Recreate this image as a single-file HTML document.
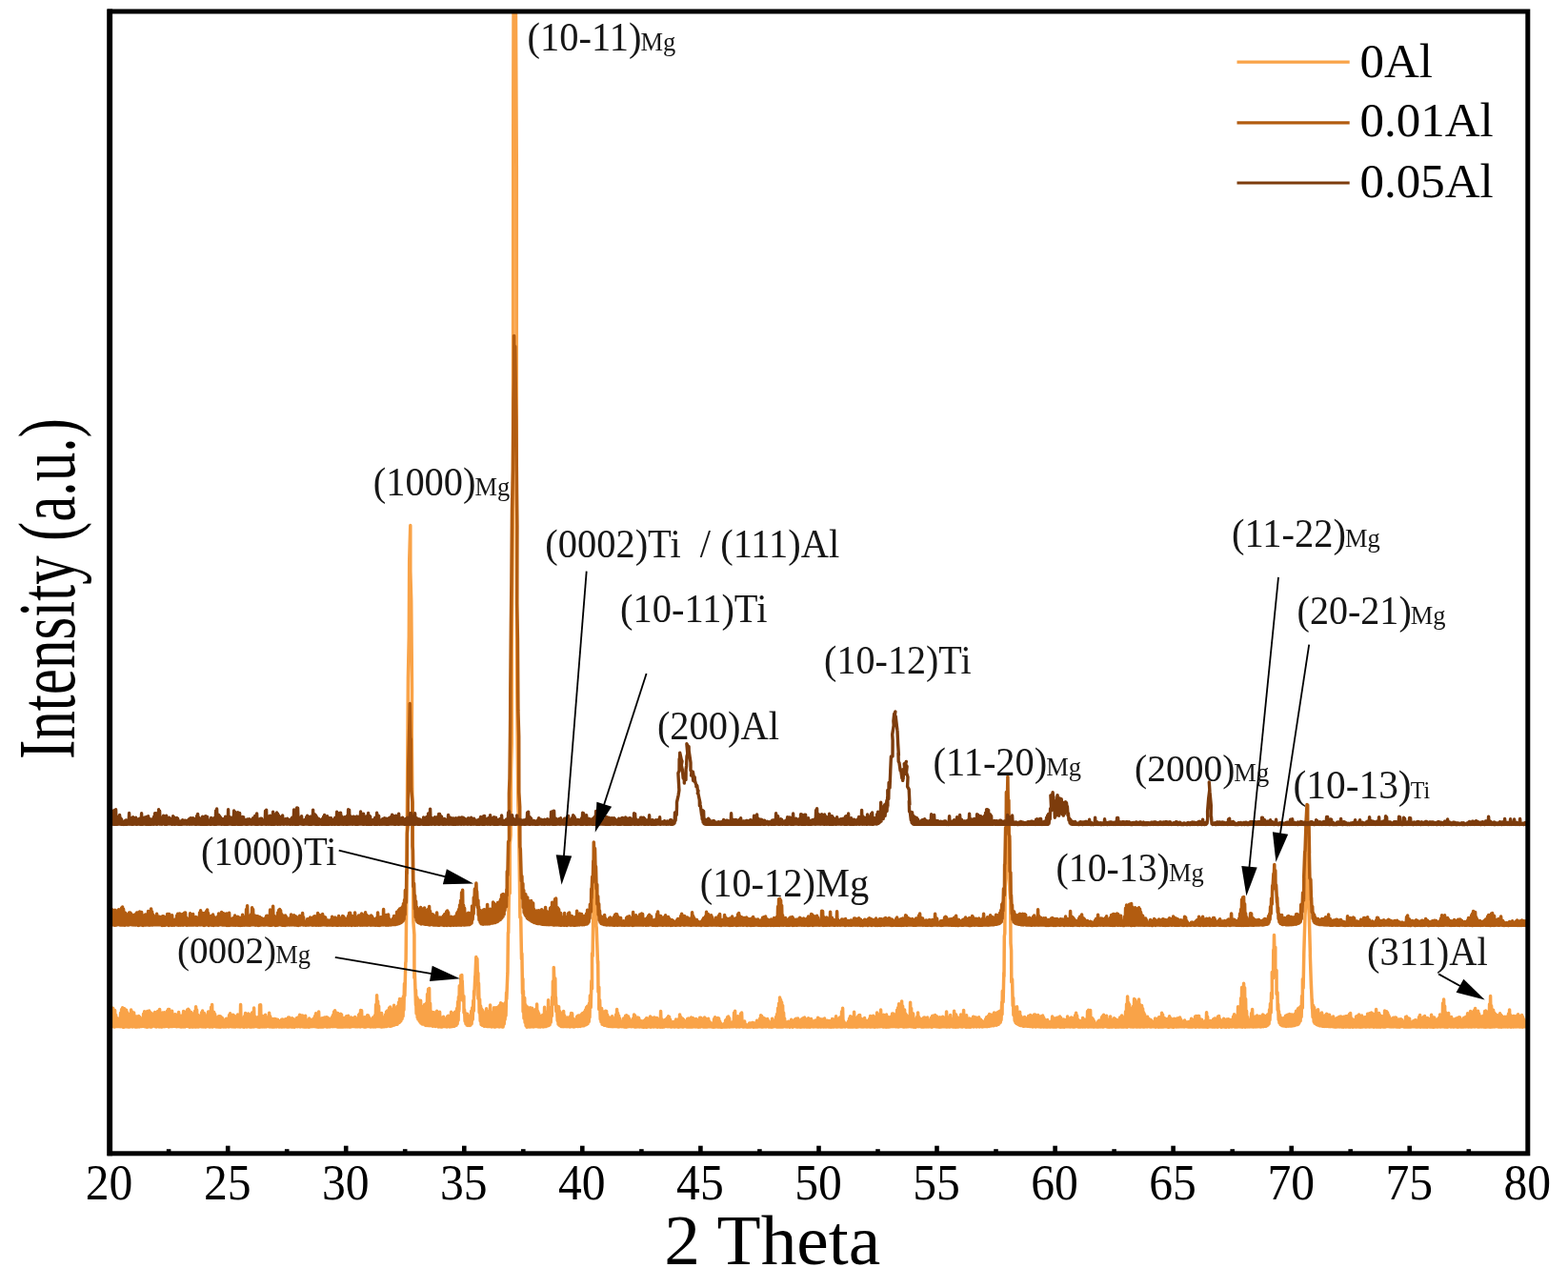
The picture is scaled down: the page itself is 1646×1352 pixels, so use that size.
<!DOCTYPE html>
<html lang="en">
<head>
<meta charset="utf-8">
<title>XRD patterns</title>
<style>
html,body{margin:0;padding:0;background:#fff;}
body{width:1646px;height:1352px;overflow:hidden;}
svg{display:block;}
</style>
</head>
<body>
<svg width="1646" height="1352" viewBox="0 0 1646 1352">
<rect x="0" y="0" width="1646" height="1352" fill="#ffffff"/>
<defs><clipPath id="plot"><rect x="115.1" y="12.0" width="1488.7" height="1198.8"/></clipPath></defs>
<g clip-path="url(#plot)" fill="none" stroke-linejoin="round" stroke-linecap="round">
<path stroke="#F9A348" stroke-width="3.5" d="M115.1 1078.0L115.6 1065.6L116.1 1077.3L116.6 1063.2L117.1 1078.0L117.6 1060.4L118.1 1077.5L118.6 1058.3L119.1 1077.2L119.6 1059.9L120.1 1078.1L120.6 1060.6L121.1 1077.2L121.6 1065.4L122.1 1077.4L122.6 1072.1L123.1 1077.4L123.6 1069.1L124.1 1077.6L124.6 1071.0L125.1 1077.4L125.6 1071.8L126.1 1077.7L126.6 1063.3L127.1 1077.5L127.6 1059.6L128.1 1077.8L128.6 1057.8L129.1 1078.2L129.6 1058.5L130.1 1078.2L130.6 1058.7L131.1 1077.5L131.6 1060.0L132.1 1077.8L132.6 1060.2L133.1 1077.8L133.6 1062.8L134.1 1077.9L134.6 1067.9L135.1 1078.0L135.6 1068.7L136.1 1078.0L136.6 1064.2L137.1 1077.6L137.6 1060.1L138.1 1077.7L138.6 1062.0L139.1 1078.0L139.6 1064.9L140.1 1077.6L140.6 1063.0L141.1 1077.5L141.6 1066.4L142.1 1078.1L142.6 1069.2L143.1 1078.1L143.6 1066.9L144.1 1077.9L144.6 1069.2L145.1 1077.5L145.6 1066.6L146.1 1078.0L146.6 1067.4L147.1 1077.6L147.6 1071.0L148.1 1077.4L148.6 1070.8L149.1 1077.4L149.6 1068.8L150.1 1076.9L150.6 1064.3L151.1 1077.4L151.6 1061.8L152.1 1077.8L152.6 1065.2L153.1 1077.5L153.6 1065.9L154.1 1078.2L154.6 1061.5L155.1 1078.1L155.6 1062.8L156.1 1077.0L156.6 1061.1L157.1 1077.0L157.6 1062.5L158.1 1078.1L158.6 1063.8L159.1 1078.0L159.6 1064.0L160.1 1077.3L160.6 1069.0L161.1 1077.1L161.6 1065.6L162.1 1077.3L162.6 1062.4L163.1 1077.7L163.6 1063.3L164.1 1077.9L164.6 1063.6L165.1 1077.4L165.6 1061.4L166.1 1077.5L166.6 1061.6L167.1 1078.0L167.6 1059.4L168.1 1077.2L168.6 1063.9L169.1 1077.9L169.6 1068.0L170.1 1077.9L170.6 1062.9L171.1 1077.4L171.6 1063.8L172.1 1077.7L172.6 1062.7L173.1 1077.5L173.6 1067.2L174.1 1077.4L174.6 1066.3L175.1 1077.2L175.6 1061.1L176.1 1077.3L176.6 1059.6L177.1 1078.0L177.6 1059.4L178.1 1077.2L178.6 1064.5L179.1 1077.6L179.6 1067.9L180.1 1077.2L180.6 1061.3L181.1 1077.6L181.6 1066.6L182.1 1077.3L182.6 1066.8L183.1 1077.2L183.6 1064.7L184.1 1077.1L184.6 1065.0L185.1 1077.8L185.6 1069.1L186.1 1077.6L186.6 1065.8L187.1 1077.5L187.6 1062.6L188.1 1077.1L188.6 1068.8L189.1 1077.8L189.6 1066.6L190.1 1078.1L190.6 1066.2L191.1 1077.7L191.6 1069.0L192.1 1077.9L192.6 1061.5L193.1 1077.6L193.6 1062.6L194.1 1078.0L194.6 1064.4L195.1 1077.1L195.6 1061.7L196.1 1077.3L196.6 1060.0L197.1 1077.5L197.6 1059.3L198.1 1077.3L198.6 1060.5L199.1 1078.2L199.6 1062.6L200.1 1077.7L200.6 1062.6L201.1 1078.0L201.6 1063.7L202.1 1078.1L202.6 1064.9L203.1 1078.0L203.6 1064.9L204.1 1077.7L204.6 1061.3L205.1 1078.1L205.6 1056.7L206.1 1077.9L206.6 1060.0L207.1 1077.2L207.6 1065.2L208.1 1078.1L208.6 1066.0L209.1 1077.2L209.6 1069.8L210.1 1077.4L210.6 1067.6L211.1 1077.7L211.6 1062.7L212.1 1077.7L212.6 1061.0L213.1 1077.9L213.6 1063.7L214.1 1077.7L214.6 1063.8L215.1 1078.0L215.6 1066.6L216.1 1077.9L216.6 1068.5L217.1 1077.4L217.6 1065.7L218.1 1077.3L218.6 1061.9L219.1 1077.8L219.6 1062.3L220.1 1078.1L220.6 1067.9L221.1 1077.8L221.6 1057.2L222.1 1077.2L222.6 1054.6L223.1 1078.1L223.6 1064.1L224.1 1077.2L224.6 1062.4L225.1 1077.2L225.6 1064.4L226.1 1077.7L226.6 1067.4L227.1 1077.9L227.6 1068.3L228.1 1077.7L228.6 1068.9L229.1 1078.1L229.6 1066.7L230.1 1077.6L230.6 1066.8L231.1 1078.2L231.6 1066.9L232.1 1078.0L232.6 1068.1L233.1 1077.7L233.6 1068.7L234.1 1077.2L234.6 1070.5L235.1 1078.1L235.6 1074.6L236.1 1077.4L236.6 1072.5L237.1 1078.0L237.6 1069.2L238.1 1077.7L238.6 1069.5L239.1 1077.4L239.6 1068.9L240.1 1078.0L240.6 1065.6L241.1 1077.2L241.6 1063.8L242.1 1077.4L242.6 1066.3L243.1 1077.8L243.6 1073.1L244.1 1077.3L244.6 1065.3L245.1 1078.0L245.6 1066.0L246.1 1077.4L246.6 1072.2L247.1 1078.0L247.6 1070.5L248.1 1077.4L248.6 1066.4L249.1 1077.7L249.6 1064.9L250.1 1077.7L250.6 1067.7L251.1 1077.5L251.6 1065.1L252.1 1078.1L252.6 1054.5L253.1 1077.6L253.6 1068.5L254.1 1077.3L254.6 1069.0L255.1 1077.9L255.6 1069.1L256.1 1078.2L256.6 1066.7L257.1 1077.7L257.6 1063.4L258.1 1077.5L258.6 1065.8L259.1 1078.1L259.6 1068.4L260.1 1077.5L260.6 1063.9L261.1 1077.6L261.6 1064.7L262.1 1078.0L262.6 1069.1L263.1 1078.1L263.6 1065.6L264.1 1078.1L264.6 1062.9L265.1 1077.7L265.6 1065.8L266.1 1078.0L266.6 1058.1L267.1 1077.7L267.6 1066.9L268.1 1077.5L268.6 1068.7L269.1 1077.5L269.6 1070.2L270.1 1077.7L270.6 1067.8L271.1 1078.1L271.6 1067.9L272.1 1078.2L272.6 1055.0L273.1 1078.1L273.6 1054.7L274.1 1077.7L274.6 1065.9L275.1 1078.0L275.6 1069.4L276.1 1077.8L276.6 1069.2L277.1 1078.0L277.6 1066.2L278.1 1077.5L278.6 1065.2L279.1 1077.9L279.6 1067.6L280.1 1077.6L280.6 1071.7L281.1 1077.6L281.6 1067.9L282.1 1077.5L282.6 1063.2L283.1 1078.0L283.6 1066.7L284.1 1077.5L284.6 1069.3L285.1 1077.9L285.6 1069.6L286.1 1078.0L286.6 1071.6L287.1 1077.9L287.6 1069.6L288.1 1078.0L288.6 1069.6L289.1 1077.6L289.6 1069.8L290.1 1077.9L290.6 1070.7L291.1 1077.6L291.6 1070.3L292.1 1077.5L292.6 1071.6L293.1 1078.0L293.6 1072.6L294.1 1077.5L294.6 1072.5L295.1 1077.9L295.6 1070.2L296.1 1078.1L296.6 1069.9L297.1 1077.6L297.6 1070.8L298.1 1078.0L298.6 1070.5L299.1 1077.8L299.6 1069.7L300.1 1077.6L300.6 1069.8L301.1 1078.0L301.6 1070.3L302.1 1077.9L302.6 1067.9L303.1 1078.1L303.6 1068.1L304.1 1077.7L304.6 1071.2L305.1 1077.5L305.6 1070.9L306.1 1078.1L306.6 1068.7L307.1 1077.9L307.6 1069.4L308.1 1077.9L308.6 1072.1L309.1 1078.2L309.6 1070.3L310.1 1077.5L310.6 1070.5L311.1 1077.6L311.6 1068.4L312.1 1077.8L312.6 1069.3L313.1 1077.6L313.6 1067.4L314.1 1077.6L314.6 1065.3L315.1 1077.9L315.6 1067.7L316.1 1077.6L316.6 1066.0L317.1 1077.7L317.6 1066.1L318.1 1077.5L318.6 1067.7L319.1 1078.1L319.6 1070.0L320.1 1077.5L320.6 1066.3L321.1 1078.1L321.6 1070.5L322.1 1078.0L322.6 1073.6L323.1 1077.5L323.6 1071.5L324.1 1078.2L324.6 1069.0L325.1 1078.0L325.6 1070.2L326.1 1077.5L326.6 1070.7L327.1 1077.7L327.6 1070.3L328.1 1077.6L328.6 1071.1L329.1 1077.6L329.6 1068.8L330.1 1077.5L330.6 1066.5L331.1 1077.7L331.6 1063.7L332.1 1077.7L332.6 1068.2L333.1 1078.1L333.6 1070.6L334.1 1078.2L334.6 1061.9L335.1 1077.9L335.6 1070.4L336.1 1077.9L336.6 1073.7L337.1 1078.1L337.6 1068.9L338.1 1077.8L338.6 1068.7L339.1 1078.1L339.6 1072.5L340.1 1077.7L340.6 1068.1L341.1 1077.6L341.6 1068.3L342.1 1077.7L342.6 1067.7L343.1 1078.1L343.6 1067.9L344.1 1078.0L344.6 1068.7L345.1 1077.8L345.6 1069.4L346.1 1077.9L346.6 1069.4L347.1 1077.5L347.6 1070.0L348.1 1077.6L348.6 1067.5L349.1 1077.7L349.6 1065.4L350.1 1077.5L350.6 1062.0L351.1 1077.6L351.6 1060.8L352.1 1077.6L352.6 1062.7L353.1 1077.6L353.6 1063.7L354.1 1078.0L354.6 1063.5L355.1 1077.9L355.6 1064.7L356.1 1077.9L356.6 1068.6L357.1 1078.1L357.6 1064.3L358.1 1078.1L358.6 1065.1L359.1 1077.9L359.6 1068.8L360.1 1078.1L360.6 1068.8L361.1 1077.5L361.6 1070.5L362.1 1078.0L362.6 1067.9L363.1 1077.5L363.6 1066.8L364.1 1077.9L364.6 1068.1L365.1 1077.7L365.6 1066.2L366.1 1077.9L366.6 1070.7L367.1 1077.9L367.6 1070.7L368.1 1078.0L368.6 1068.1L369.1 1077.6L369.6 1068.5L370.1 1077.5L370.6 1070.7L371.1 1077.4L371.6 1071.2L372.1 1077.5L372.6 1067.4L373.1 1077.8L373.6 1069.2L374.1 1077.7L374.6 1069.6L375.1 1077.7L375.6 1069.3L376.1 1077.7L376.6 1065.3L377.1 1077.6L377.6 1064.1L378.1 1077.9L378.6 1060.4L379.1 1077.5L379.6 1060.8L380.1 1077.4L380.6 1069.4L381.1 1077.5L381.6 1068.7L382.1 1077.9L382.6 1067.8L383.1 1078.1L383.6 1070.1L384.1 1078.0L384.6 1067.4L385.1 1077.5L385.6 1065.7L386.1 1077.4L386.6 1066.1L387.1 1077.6L387.6 1068.1L388.1 1077.5L388.6 1072.4L389.1 1078.1L389.6 1073.4L390.1 1077.6L390.6 1069.4L391.1 1077.8L391.6 1068.1L392.1 1078.0L392.6 1069.2L393.1 1077.4L393.6 1065.7L394.1 1078.0L394.6 1054.5L395.1 1077.4L395.6 1044.7L396.1 1077.6L396.6 1050.9L397.1 1077.6L397.6 1056.0L398.1 1077.5L398.6 1066.9L399.1 1077.7L399.6 1066.5L400.1 1077.9L400.6 1063.6L401.1 1078.0L401.6 1067.5L402.1 1077.8L402.6 1070.7L403.1 1077.8L403.6 1070.2L404.1 1077.2L404.6 1065.0L405.1 1077.5L405.6 1061.9L406.1 1077.5L406.6 1060.9L407.1 1077.0L407.6 1063.4L408.1 1076.7L408.6 1058.0L409.1 1077.3L409.6 1056.9L410.1 1077.3L410.6 1059.4L411.1 1076.9L411.6 1060.3L412.1 1076.6L412.6 1059.1L413.1 1076.0L413.6 1055.2L414.1 1076.0L414.6 1057.4L415.1 1075.3L415.6 1059.1L416.1 1075.3L416.6 1058.2L417.1 1075.2L417.5 1056.0L418.0 1073.8L418.6 1052.0L419.1 1073.5L419.6 1048.4L420.0 1072.8L420.6 1049.7L421.0 1071.4L421.5 1050.9L422.1 1069.6L422.4 1048.3L423.1 1066.7L423.4 1046.0L423.9 1060.2L424.5 1032.5L424.9 1045.3L425.8 1010.7L426.1 1009.1L426.6 958.8L426.9 931.9L427.4 850.9L427.7 808.6L428.4 711.6L429.3 668.3L429.7 589.4L430.1 574.8L430.8 551.6L430.8 599.6L431.7 630.3L432.5 724.3L432.3 770.2L433.1 863.3L433.4 898.2L433.9 967.7L434.9 981.1L434.9 1026.6L435.3 1019.3L436.5 1055.0L436.5 1039.3L437.1 1064.0L437.8 1047.0L438.2 1068.1L438.8 1049.0L438.9 1069.9L439.6 1052.3L440.2 1071.8L440.6 1054.5L441.2 1073.3L441.6 1050.3L442.1 1074.1L442.7 1056.2L443.2 1074.9L443.5 1061.3L444.1 1075.0L444.6 1056.2L445.1 1075.3L445.6 1054.6L446.1 1076.0L446.6 1055.4L447.1 1076.4L447.6 1053.1L448.1 1076.0L448.6 1043.4L449.1 1076.6L449.6 1038.2L450.1 1076.4L450.6 1037.4L451.1 1076.8L451.6 1053.3L452.1 1076.6L452.6 1061.7L453.1 1076.7L453.6 1062.4L454.1 1077.3L454.6 1066.0L455.1 1076.9L455.6 1062.8L456.1 1077.1L456.6 1065.7L457.1 1077.5L457.6 1063.8L458.1 1077.1L458.6 1061.3L459.1 1077.2L459.6 1065.4L460.1 1078.0L460.6 1067.0L461.1 1077.8L461.6 1062.3L462.1 1077.6L462.6 1067.7L463.1 1078.1L463.6 1068.3L464.1 1078.0L464.6 1070.1L465.1 1077.4L465.6 1067.2L466.1 1077.4L466.6 1069.0L467.1 1077.5L467.6 1071.4L468.1 1077.7L468.6 1070.5L469.1 1077.9L469.6 1067.1L470.1 1077.4L470.6 1066.3L471.1 1077.3L471.6 1067.8L472.1 1077.9L472.6 1066.2L473.1 1077.3L473.6 1062.2L474.1 1077.7L474.6 1063.4L475.1 1077.0L475.6 1065.4L476.1 1077.3L476.6 1064.4L477.1 1077.3L477.6 1062.2L478.1 1076.5L478.6 1062.5L479.1 1076.2L479.6 1058.4L480.1 1074.6L480.6 1051.6L481.1 1071.0L481.4 1046.4L481.9 1060.9L482.3 1034.7L483.5 1049.3L483.8 1023.9L483.8 1036.2L484.8 1023.6L485.0 1038.1L485.2 1029.4L486.0 1050.4L486.9 1045.8L487.0 1063.1L487.6 1060.0L488.1 1072.0L488.5 1063.4L489.0 1074.6L489.6 1065.5L490.1 1076.1L490.6 1064.3L491.1 1076.5L491.6 1068.4L492.1 1076.0L492.6 1070.9L493.1 1076.4L493.6 1066.0L494.1 1076.0L494.7 1061.3L495.1 1074.6L495.7 1057.7L496.2 1070.3L496.8 1050.2L497.3 1061.1L497.6 1040.3L497.9 1044.9L498.8 1024.5L498.8 1028.7L499.8 1004.6L500.1 1022.7L500.9 1006.6L501.5 1033.5L501.9 1021.6L501.9 1048.3L502.5 1032.0L503.2 1063.0L503.6 1048.9L504.2 1071.7L504.6 1056.0L505.1 1075.4L505.6 1059.1L506.1 1076.3L506.6 1060.4L507.1 1076.5L507.6 1064.0L508.1 1077.2L508.6 1066.2L509.1 1077.2L509.6 1062.5L510.1 1077.1L510.6 1058.8L511.1 1077.4L511.6 1061.2L512.1 1077.4L512.6 1065.2L513.1 1077.4L513.6 1064.2L514.1 1077.6L514.6 1055.0L515.1 1077.3L515.6 1065.4L516.1 1078.0L516.6 1066.3L517.1 1077.3L517.6 1062.6L518.1 1077.4L518.6 1057.7L519.1 1078.1L519.6 1059.4L520.1 1077.9L520.6 1057.8L521.1 1077.4L521.6 1057.7L522.1 1077.6L522.6 1057.3L523.1 1077.7L523.6 1056.6L524.1 1078.0L524.6 1055.2L525.1 1077.8L525.6 1052.8L526.1 1077.4L526.6 1056.3L527.1 1077.9L527.6 1053.7L528.1 1077.9L528.6 1055.6L529.2 1075.0L529.7 1058.8L530.1 1070.3L530.7 1052.2L531.0 1066.3L531.6 1041.9L531.8 1048.8L532.7 1025.3L532.9 1021.2L533.4 978.7L533.7 979.2L534.3 936.5L535.2 937.8L535.2 886.5L536.1 876.5L536.4 811.8L537.2 781.0L537.2 680.8L538.5 521.9L538.8 102.5L539.1 -10.1L539.2 -96.8L540.0 -108.6L540.5 -125.9L541.1 -59.5L541.3 -17.9L542.3 176.0L542.3 566.0L542.8 727.0L543.2 772.4L543.9 846.1L544.6 864.5L545.3 913.5L545.4 920.7L545.9 962.9L546.7 963.0L547.5 1006.6L547.9 1001.0L548.5 1042.7L548.9 1027.6L549.1 1062.0L549.4 1040.1L550.0 1069.0L550.7 1047.6L551.1 1073.2L551.7 1054.8L552.1 1076.7L552.6 1059.4L553.1 1078.2L553.6 1057.1L554.1 1078.0L554.6 1060.3L555.1 1077.4L555.6 1063.4L556.1 1078.1L556.6 1057.8L557.1 1077.6L557.6 1058.5L558.1 1077.8L558.6 1058.2L559.1 1077.7L559.6 1059.7L560.1 1077.9L560.6 1063.1L561.1 1077.6L561.6 1062.2L562.1 1077.4L562.6 1059.3L563.1 1077.5L563.6 1054.0L564.1 1077.5L564.6 1061.6L565.1 1077.9L565.6 1063.7L566.1 1077.6L566.6 1066.0L567.1 1078.1L567.6 1067.7L568.1 1077.4L568.6 1067.5L569.1 1077.2L569.6 1065.5L570.1 1078.0L570.6 1066.1L571.1 1077.7L571.6 1057.2L572.1 1077.6L572.6 1064.1L573.1 1077.6L573.6 1065.1L574.1 1077.0L574.6 1062.1L575.1 1076.7L575.6 1049.8L576.1 1076.5L576.6 1058.7L577.1 1075.8L577.6 1059.5L578.2 1073.3L578.7 1057.2L579.3 1066.4L579.7 1046.6L580.2 1054.7L580.4 1030.1L581.3 1042.8L581.3 1015.6L582.2 1039.4L582.8 1027.0L583.1 1049.2L583.5 1047.0L583.9 1061.6L584.5 1055.7L585.2 1071.4L585.5 1056.9L586.1 1075.2L586.6 1056.7L587.1 1076.2L587.6 1061.4L588.1 1076.8L588.6 1063.0L589.1 1077.6L589.6 1064.9L590.1 1077.3L590.6 1065.2L591.1 1077.7L591.6 1061.4L592.1 1077.2L592.6 1066.1L593.1 1077.6L593.6 1070.4L594.1 1077.6L594.6 1068.6L595.1 1077.7L595.6 1068.0L596.1 1077.6L596.6 1068.8L597.1 1077.5L597.6 1068.7L598.1 1078.0L598.6 1066.7L599.1 1077.8L599.6 1063.4L600.1 1077.5L600.6 1063.8L601.1 1077.4L601.6 1069.3L602.1 1077.9L602.6 1071.2L603.1 1077.8L603.6 1070.3L604.1 1077.4L604.6 1070.0L605.1 1077.3L605.6 1067.2L606.1 1077.4L606.6 1066.3L607.1 1077.5L607.6 1066.0L608.1 1077.1L608.6 1065.9L609.1 1077.5L609.6 1067.0L610.1 1077.0L610.6 1064.5L611.1 1076.8L611.6 1063.5L612.1 1076.7L612.6 1064.5L613.1 1076.8L613.6 1062.0L614.1 1075.9L614.6 1060.0L615.1 1075.7L615.6 1057.5L616.1 1075.2L616.6 1056.2L617.1 1074.5L617.7 1057.2L618.2 1072.5L618.5 1053.3L619.0 1068.0L619.4 1045.1L620.2 1057.4L620.9 1029.5L621.5 1037.7L621.5 1000.7L622.1 1003.6L622.7 963.2L622.9 964.3L623.2 925.5L624.0 939.1L624.6 916.6L625.1 942.1L625.5 935.8L625.9 972.0L626.2 973.6L627.5 1011.4L627.7 1008.9L628.0 1041.2L628.8 1036.3L628.8 1059.4L629.6 1049.8L630.2 1069.9L630.6 1059.6L631.0 1072.7L631.6 1058.6L632.1 1075.2L632.6 1061.5L633.1 1075.4L633.6 1065.7L634.1 1076.2L634.6 1063.6L635.1 1076.2L635.6 1061.2L636.1 1076.3L636.6 1061.5L637.1 1077.0L637.6 1065.2L638.1 1077.0L638.6 1067.7L639.1 1077.4L639.6 1067.9L640.1 1077.2L640.6 1070.7L641.1 1077.6L641.6 1068.5L642.1 1077.5L642.6 1066.8L643.1 1077.7L643.6 1069.6L644.1 1077.6L644.6 1071.2L645.1 1077.5L645.6 1068.4L646.1 1077.6L646.6 1065.0L647.1 1077.4L647.6 1059.6L648.1 1077.8L648.6 1063.5L649.1 1077.9L649.6 1066.2L650.1 1077.8L650.6 1069.1L651.1 1077.5L651.6 1071.7L652.1 1077.6L652.6 1072.9L653.1 1077.7L653.6 1072.6L654.1 1077.5L654.6 1068.9L655.1 1077.9L655.6 1069.9L656.1 1077.9L656.6 1066.2L657.1 1078.2L657.6 1065.8L658.1 1078.0L658.6 1067.2L659.1 1077.7L659.6 1067.1L660.1 1077.5L660.6 1069.2L661.1 1077.5L661.6 1073.3L662.1 1077.6L662.6 1074.1L663.1 1077.7L663.6 1071.0L664.1 1077.5L664.6 1068.9L665.1 1077.5L665.6 1065.1L666.1 1078.0L666.6 1066.1L667.1 1078.1L667.6 1067.9L668.1 1077.9L668.6 1069.9L669.1 1077.6L669.6 1068.0L670.1 1077.8L670.6 1068.6L671.1 1078.0L671.6 1071.8L672.1 1077.7L672.6 1071.5L673.1 1077.8L673.6 1072.4L674.1 1078.1L674.6 1072.9L675.1 1078.2L675.6 1071.5L676.1 1078.2L676.6 1072.0L677.1 1077.9L677.6 1070.0L678.1 1078.2L678.6 1068.7L679.1 1078.2L679.6 1069.1L680.1 1077.7L680.6 1070.6L681.1 1077.8L681.6 1069.6L682.1 1077.6L682.6 1067.0L683.1 1078.2L683.6 1068.0L684.1 1077.7L684.6 1070.3L685.1 1077.7L685.6 1071.9L686.1 1078.0L686.6 1067.9L687.1 1077.7L687.6 1068.3L688.1 1077.7L688.6 1068.7L689.1 1077.7L689.6 1068.5L690.1 1078.2L690.6 1073.0L691.1 1077.8L691.6 1070.5L692.1 1077.9L692.6 1069.4L693.1 1078.2L693.6 1061.6L694.1 1077.8L694.6 1069.8L695.1 1078.2L695.6 1074.6L696.1 1078.0L696.6 1073.2L697.1 1078.0L697.6 1070.7L698.1 1077.6L698.6 1070.6L699.1 1077.5L699.6 1069.6L700.1 1077.5L700.6 1068.3L701.1 1077.8L701.6 1066.8L702.1 1077.6L702.6 1067.5L703.1 1077.7L703.6 1070.2L704.1 1077.9L704.6 1072.5L705.1 1078.1L705.6 1073.5L706.1 1077.6L706.6 1072.8L707.1 1077.8L707.6 1073.2L708.1 1078.1L708.6 1071.9L709.1 1077.7L709.6 1070.1L710.1 1077.6L710.6 1071.2L711.1 1077.8L711.6 1071.0L712.1 1078.2L712.6 1069.5L713.1 1078.0L713.6 1064.9L714.1 1077.8L714.6 1067.4L715.1 1077.8L715.6 1068.9L716.1 1077.9L716.6 1069.3L717.1 1078.1L717.6 1070.2L718.1 1077.7L718.6 1071.4L719.1 1077.5L719.6 1075.6L720.1 1077.6L720.6 1072.3L721.1 1078.0L721.6 1069.6L722.1 1077.9L722.6 1069.1L723.1 1077.9L723.6 1071.6L724.1 1078.1L724.6 1072.6L725.1 1078.0L725.6 1067.9L726.1 1077.9L726.6 1068.5L727.1 1077.9L727.6 1068.7L728.1 1077.6L728.6 1072.0L729.1 1077.8L729.6 1070.9L730.1 1077.9L730.6 1069.5L731.1 1077.7L731.6 1070.3L732.1 1077.9L732.6 1071.5L733.1 1078.2L733.6 1070.5L734.1 1077.8L734.6 1068.3L735.1 1078.1L735.6 1068.2L736.1 1077.6L736.6 1069.0L737.1 1077.6L737.6 1072.2L738.1 1077.9L738.6 1072.8L739.1 1078.0L739.6 1068.1L740.1 1077.7L740.6 1069.0L741.1 1078.1L741.6 1071.7L742.1 1078.1L742.6 1070.3L743.1 1077.8L743.6 1069.3L744.1 1077.7L744.6 1071.9L745.1 1077.7L745.6 1073.7L746.1 1077.8L746.6 1073.9L747.1 1077.9L747.6 1074.6L748.1 1077.8L748.6 1074.3L749.1 1078.2L749.6 1069.6L750.1 1077.8L750.6 1067.7L751.1 1077.9L751.6 1070.0L752.1 1077.6L752.6 1069.9L753.1 1077.9L753.6 1068.6L754.1 1077.9L754.6 1069.0L755.1 1078.0L755.6 1071.9L756.1 1077.9L756.6 1074.0L757.1 1078.2L757.6 1074.9L758.1 1078.2L758.6 1075.5L759.1 1078.1L759.6 1075.7L760.1 1078.0L760.6 1074.3L761.1 1077.9L761.6 1071.1L762.1 1077.9L762.6 1070.0L763.1 1078.1L763.6 1067.8L764.1 1077.8L764.6 1067.0L765.1 1078.0L765.6 1068.8L766.1 1078.0L766.6 1074.0L767.1 1077.8L767.6 1075.3L768.1 1077.8L768.6 1072.9L769.1 1077.7L769.6 1073.6L770.1 1077.7L770.6 1063.1L771.1 1077.6L771.6 1061.2L772.1 1077.6L772.6 1070.2L773.1 1078.1L773.6 1067.6L774.1 1077.8L774.6 1066.8L775.1 1077.6L775.6 1069.7L776.1 1078.1L776.6 1070.9L777.1 1077.7L777.6 1063.9L778.1 1077.6L778.6 1063.1L779.1 1077.8L779.6 1073.6L780.1 1078.1L780.6 1074.9L781.1 1077.9L781.6 1072.0L782.1 1077.6L782.6 1074.9L783.1 1078.1L783.6 1075.9L784.1 1077.9L784.6 1076.0L785.1 1078.1L785.6 1075.7L786.1 1078.0L786.6 1074.0L787.1 1077.8L787.6 1074.1L788.1 1078.0L788.6 1075.5L789.1 1077.8L789.6 1073.6L790.1 1077.7L790.6 1073.6L791.1 1078.2L791.6 1074.1L792.1 1077.6L792.6 1074.5L793.1 1077.9L793.6 1073.6L794.1 1078.1L794.6 1071.3L795.1 1078.1L795.6 1072.2L796.1 1077.7L796.6 1073.3L797.1 1077.7L797.6 1069.3L798.1 1077.8L798.6 1065.7L799.1 1077.9L799.6 1066.6L800.1 1078.0L800.6 1069.5L801.1 1078.0L801.6 1068.6L802.1 1077.6L802.6 1069.0L803.1 1077.8L803.6 1072.6L804.1 1077.9L804.6 1071.7L805.1 1077.6L805.6 1069.4L806.1 1077.6L806.6 1071.4L807.1 1078.0L807.6 1074.5L808.1 1078.0L808.6 1075.9L809.1 1078.0L809.6 1072.7L810.1 1078.2L810.6 1069.2L811.1 1077.9L811.6 1071.2L812.1 1077.8L812.6 1072.5L813.1 1077.6L813.6 1071.0L814.1 1077.6L814.6 1067.4L815.1 1078.0L815.6 1064.4L816.1 1078.1L816.6 1058.3L817.1 1077.9L817.6 1053.3L818.1 1077.9L818.6 1047.0L819.1 1077.9L819.6 1049.6L820.1 1078.1L820.6 1052.0L821.1 1078.0L821.6 1055.4L822.1 1077.9L822.6 1063.1L823.1 1077.6L823.6 1069.0L824.1 1077.7L824.6 1072.6L825.1 1077.7L825.6 1074.9L826.1 1078.1L826.6 1072.9L827.1 1077.7L827.6 1072.3L828.1 1077.6L828.6 1074.2L829.1 1078.2L829.6 1072.9L830.1 1077.7L830.6 1070.3L831.1 1077.8L831.6 1073.0L832.1 1078.2L832.6 1071.5L833.1 1077.6L833.6 1071.5L834.1 1077.6L834.6 1069.9L835.1 1077.7L835.6 1069.2L836.1 1078.0L836.6 1070.9L837.1 1077.9L837.6 1068.9L838.1 1078.0L838.6 1070.5L839.1 1077.7L839.6 1072.3L840.1 1078.2L840.6 1071.6L841.1 1077.9L841.6 1069.7L842.1 1077.9L842.6 1068.9L843.1 1077.7L843.6 1068.8L844.1 1078.1L844.6 1068.0L845.1 1077.7L845.6 1069.4L846.1 1077.9L846.6 1071.2L847.1 1078.0L847.6 1070.3L848.1 1077.9L848.6 1068.7L849.1 1077.9L849.6 1069.8L850.1 1078.2L850.6 1070.3L851.1 1077.6L851.6 1069.6L852.1 1077.7L852.6 1071.5L853.1 1077.8L853.6 1073.9L854.1 1078.1L854.6 1073.7L855.1 1077.8L855.6 1071.2L856.1 1077.8L856.6 1071.1L857.1 1077.6L857.6 1070.4L858.1 1077.9L858.6 1068.2L859.1 1078.1L859.6 1071.3L860.1 1077.7L860.6 1069.5L861.1 1078.0L861.6 1070.7L862.1 1078.0L862.6 1070.1L863.1 1077.8L863.6 1070.0L864.1 1078.0L864.6 1071.1L865.1 1078.0L865.6 1069.0L866.1 1077.5L866.6 1072.5L867.1 1078.1L867.6 1071.9L868.1 1077.6L868.6 1071.2L869.1 1077.7L869.6 1071.9L870.1 1078.0L870.6 1071.4L871.1 1077.6L871.6 1072.4L872.1 1078.2L872.6 1072.2L873.1 1077.8L873.6 1069.6L874.1 1078.1L874.6 1071.4L875.1 1078.0L875.6 1071.8L876.1 1077.7L876.6 1069.5L877.1 1077.7L877.6 1066.8L878.1 1078.1L878.6 1069.0L879.1 1077.9L879.6 1070.4L880.1 1077.8L880.6 1070.5L881.1 1077.5L881.6 1067.9L882.1 1078.0L882.6 1069.1L883.1 1078.1L883.6 1061.8L884.1 1078.1L884.6 1058.2L885.1 1077.5L885.6 1071.7L886.1 1077.7L886.6 1075.6L887.1 1078.0L887.6 1074.2L888.1 1077.6L888.6 1074.6L889.1 1077.6L889.6 1075.4L890.1 1078.0L890.6 1071.9L891.1 1077.8L891.6 1069.1L892.1 1078.1L892.6 1066.7L893.1 1078.1L893.6 1067.3L894.1 1077.5L894.6 1068.0L895.1 1078.1L895.6 1067.9L896.1 1077.9L896.6 1062.3L897.1 1077.4L897.6 1069.0L898.1 1078.1L898.6 1070.5L899.1 1078.2L899.6 1068.3L900.1 1078.1L900.6 1067.1L901.1 1077.6L901.6 1065.7L902.1 1077.8L902.6 1065.4L903.1 1077.4L903.6 1069.1L904.1 1077.9L904.6 1071.6L905.1 1077.5L905.6 1072.3L906.1 1078.0L906.6 1069.6L907.1 1077.8L907.6 1068.6L908.1 1077.7L908.6 1071.0L909.1 1077.4L909.6 1075.2L910.1 1078.1L910.6 1073.9L911.1 1077.8L911.6 1071.1L912.1 1077.5L912.6 1069.6L913.1 1077.9L913.6 1066.6L914.1 1078.1L914.6 1067.3L915.1 1077.7L915.6 1069.2L916.1 1078.0L916.6 1066.3L917.1 1077.6L917.6 1067.6L918.1 1078.2L918.6 1070.4L919.1 1077.9L919.6 1067.1L920.1 1077.6L920.6 1063.1L921.1 1078.1L921.6 1066.0L922.1 1077.6L922.6 1067.5L923.1 1077.8L923.6 1064.4L924.1 1077.8L924.6 1060.0L925.1 1077.6L925.6 1070.4L926.1 1077.5L926.6 1068.1L927.1 1078.1L927.6 1065.2L928.1 1078.0L928.6 1069.1L929.1 1077.5L929.6 1067.0L930.1 1078.2L930.6 1065.1L931.1 1078.1L931.6 1067.2L932.1 1077.8L932.6 1068.7L933.1 1078.1L933.6 1068.9L934.1 1077.4L934.6 1067.4L935.1 1077.7L935.6 1069.0L936.1 1077.2L936.6 1064.1L937.1 1077.8L937.6 1064.1L938.1 1077.4L938.6 1067.0L939.1 1077.6L939.6 1067.8L940.1 1077.8L940.6 1064.4L941.1 1077.7L941.6 1060.2L942.1 1077.7L942.6 1057.7L943.1 1078.1L943.6 1053.7L944.1 1077.4L944.6 1054.6L945.1 1077.5L945.6 1054.3L946.1 1077.5L946.6 1050.9L947.1 1077.4L947.6 1056.0L948.1 1078.0L948.6 1059.5L949.1 1078.1L949.6 1060.0L950.1 1077.5L950.6 1064.1L951.1 1078.0L951.6 1065.5L952.1 1077.8L952.6 1066.8L953.1 1077.8L953.6 1069.8L954.1 1077.5L954.6 1067.3L955.1 1077.5L955.6 1052.2L956.1 1077.7L956.6 1058.4L957.1 1077.8L957.6 1068.1L958.1 1077.4L958.6 1064.1L959.1 1078.2L959.6 1069.5L960.1 1077.8L960.6 1074.9L961.1 1078.2L961.6 1074.5L962.1 1077.7L962.6 1067.4L963.1 1077.4L963.6 1062.9L964.1 1077.7L964.6 1067.5L965.1 1077.4L965.6 1068.9L966.1 1077.5L966.6 1069.4L967.1 1078.0L967.6 1073.1L968.1 1078.0L968.6 1071.0L969.1 1078.0L969.6 1068.2L970.1 1078.0L970.6 1067.9L971.1 1077.8L971.6 1068.8L972.1 1077.9L972.6 1069.2L973.1 1077.4L973.6 1067.9L974.1 1077.9L974.6 1071.1L975.1 1077.8L975.6 1072.7L976.1 1077.5L976.6 1070.6L977.1 1077.8L977.6 1068.2L978.1 1078.2L978.6 1066.5L979.1 1077.8L979.6 1066.3L980.1 1077.4L980.6 1066.3L981.1 1077.6L981.6 1065.6L982.1 1077.8L982.6 1066.5L983.1 1077.8L983.6 1067.0L984.1 1078.0L984.6 1069.0L985.1 1077.6L985.6 1070.8L986.1 1078.2L986.6 1067.8L987.1 1078.1L987.6 1069.1L988.1 1077.9L988.6 1070.1L989.1 1077.8L989.6 1067.2L990.1 1077.6L990.6 1068.1L991.1 1077.8L991.6 1069.8L992.1 1077.6L992.6 1068.9L993.1 1077.9L993.6 1061.9L994.1 1078.1L994.6 1068.8L995.1 1077.8L995.6 1067.9L996.1 1077.9L996.6 1067.4L997.1 1078.0L997.6 1065.5L998.1 1077.7L998.6 1069.2L999.1 1077.5L999.6 1072.4L1000.1 1077.9L1000.6 1069.4L1001.1 1078.0L1001.6 1061.2L1002.1 1078.0L1002.6 1067.5L1003.1 1078.2L1003.6 1065.0L1004.1 1077.8L1004.6 1067.4L1005.1 1078.1L1005.6 1068.9L1006.1 1078.0L1006.6 1069.0L1007.1 1077.6L1007.6 1068.1L1008.1 1077.7L1008.6 1065.0L1009.1 1077.6L1009.6 1066.3L1010.1 1078.1L1010.6 1066.2L1011.1 1077.5L1011.6 1060.4L1012.1 1077.5L1012.6 1068.2L1013.1 1077.8L1013.6 1069.5L1014.1 1078.2L1014.6 1065.7L1015.1 1077.9L1015.6 1071.0L1016.1 1078.1L1016.6 1071.2L1017.1 1078.0L1017.6 1069.1L1018.1 1078.2L1018.6 1070.0L1019.1 1078.1L1019.6 1071.4L1020.1 1077.6L1020.6 1069.0L1021.1 1077.6L1021.6 1067.2L1022.1 1077.9L1022.6 1067.6L1023.1 1077.6L1023.6 1071.7L1024.1 1077.6L1024.6 1068.1L1025.1 1077.9L1025.6 1068.7L1026.1 1077.4L1026.6 1069.1L1027.1 1077.6L1027.6 1067.8L1028.1 1078.0L1028.6 1070.4L1029.1 1077.4L1029.6 1070.3L1030.1 1077.5L1030.6 1071.5L1031.1 1077.9L1031.6 1073.9L1032.1 1077.7L1032.6 1072.5L1033.1 1077.5L1033.6 1072.2L1034.1 1077.4L1034.6 1069.8L1035.1 1077.5L1035.6 1067.7L1036.1 1077.7L1036.6 1068.6L1037.1 1077.2L1037.6 1066.3L1038.1 1077.4L1038.6 1064.6L1039.1 1076.8L1039.6 1064.9L1040.1 1077.0L1040.6 1066.1L1041.1 1076.7L1041.6 1065.3L1042.1 1076.5L1042.6 1065.8L1043.1 1076.8L1043.6 1062.9L1044.1 1076.1L1044.6 1064.0L1045.1 1075.8L1045.6 1066.3L1046.1 1076.2L1046.6 1063.1L1047.1 1075.3L1047.6 1062.7L1048.1 1075.3L1048.7 1061.8L1049.1 1074.1L1049.7 1062.6L1050.2 1073.3L1050.7 1060.5L1051.0 1070.7L1051.7 1051.7L1052.0 1064.7L1052.3 1040.3L1053.1 1051.8L1053.8 1020.9L1054.0 1025.1L1054.3 982.7L1054.8 979.7L1055.2 930.7L1056.2 922.0L1056.4 871.4L1057.3 869.7L1057.5 831.6L1058.1 849.9L1058.2 835.8L1059.0 877.1L1059.6 882.7L1060.0 934.1L1060.7 943.7L1061.0 990.1L1061.6 997.6L1061.8 1030.9L1062.6 1028.0L1063.2 1055.8L1063.7 1047.4L1063.9 1065.6L1064.4 1056.5L1065.2 1071.5L1065.6 1058.9L1066.1 1073.4L1066.6 1058.3L1067.1 1074.4L1067.6 1056.8L1068.1 1075.0L1068.6 1065.3L1069.1 1075.5L1069.6 1063.3L1070.1 1076.1L1070.6 1062.3L1071.1 1076.4L1071.6 1066.6L1072.1 1076.4L1072.6 1068.9L1073.1 1076.3L1073.6 1069.0L1074.1 1077.2L1074.6 1067.9L1075.1 1077.2L1075.6 1067.6L1076.1 1077.0L1076.6 1070.0L1077.1 1077.1L1077.6 1069.2L1078.1 1077.2L1078.6 1068.4L1079.1 1077.3L1079.6 1066.5L1080.1 1077.3L1080.6 1067.2L1081.1 1077.6L1081.6 1065.5L1082.1 1077.4L1082.6 1068.6L1083.1 1077.6L1083.6 1069.1L1084.1 1077.9L1084.6 1066.0L1085.1 1077.6L1085.6 1065.0L1086.1 1077.4L1086.6 1065.1L1087.1 1078.0L1087.6 1068.7L1088.1 1077.7L1088.6 1067.4L1089.1 1077.5L1089.6 1065.4L1090.1 1077.8L1090.6 1066.8L1091.1 1077.5L1091.6 1068.6L1092.1 1077.9L1092.6 1067.1L1093.1 1078.0L1093.6 1066.8L1094.1 1077.8L1094.6 1066.0L1095.1 1078.0L1095.6 1068.0L1096.1 1077.9L1096.6 1070.0L1097.1 1077.5L1097.6 1071.7L1098.1 1078.1L1098.6 1073.9L1099.1 1078.0L1099.6 1070.5L1100.1 1078.0L1100.6 1073.3L1101.1 1077.6L1101.6 1074.5L1102.1 1078.0L1102.6 1072.6L1103.1 1077.9L1103.6 1073.6L1104.1 1077.5L1104.6 1067.1L1105.1 1078.1L1105.6 1070.4L1106.1 1077.7L1106.6 1068.9L1107.1 1078.1L1107.6 1069.0L1108.1 1077.9L1108.6 1069.3L1109.1 1077.9L1109.6 1068.3L1110.1 1077.5L1110.6 1069.6L1111.1 1077.7L1111.6 1067.7L1112.1 1077.9L1112.6 1067.0L1113.1 1078.2L1113.6 1068.2L1114.1 1078.0L1114.6 1071.0L1115.1 1078.0L1115.6 1070.9L1116.1 1078.0L1116.6 1070.0L1117.1 1078.2L1117.6 1070.4L1118.1 1077.7L1118.6 1072.6L1119.1 1077.8L1119.6 1070.3L1120.1 1077.8L1120.6 1067.0L1121.1 1077.6L1121.6 1069.1L1122.1 1077.8L1122.6 1069.2L1123.1 1078.0L1123.6 1071.3L1124.1 1077.8L1124.6 1067.9L1125.1 1077.7L1125.6 1068.5L1126.1 1077.9L1126.6 1071.3L1127.1 1078.0L1127.6 1068.5L1128.1 1077.9L1128.6 1065.7L1129.1 1077.8L1129.6 1063.3L1130.1 1077.6L1130.6 1066.1L1131.1 1077.7L1131.6 1070.3L1132.1 1078.1L1132.6 1072.5L1133.1 1078.1L1133.6 1071.4L1134.1 1078.0L1134.6 1071.9L1135.1 1077.8L1135.6 1072.6L1136.1 1077.9L1136.6 1068.4L1137.1 1078.0L1137.6 1069.7L1138.1 1077.8L1138.6 1072.3L1139.1 1078.1L1139.6 1070.3L1140.1 1077.6L1140.6 1069.9L1141.1 1077.6L1141.6 1061.5L1142.1 1078.1L1142.6 1060.2L1143.1 1078.0L1143.6 1068.9L1144.1 1077.8L1144.6 1060.4L1145.1 1077.9L1145.6 1069.6L1146.1 1077.8L1146.6 1068.8L1147.1 1078.0L1147.6 1070.0L1148.1 1077.9L1148.6 1072.0L1149.1 1077.9L1149.6 1074.4L1150.1 1077.7L1150.6 1075.6L1151.1 1078.0L1151.6 1074.0L1152.1 1077.8L1152.6 1072.5L1153.1 1078.0L1153.6 1071.3L1154.1 1077.6L1154.6 1071.6L1155.1 1077.9L1155.6 1071.8L1156.1 1077.7L1156.6 1067.8L1157.1 1077.9L1157.6 1066.6L1158.1 1078.1L1158.6 1065.3L1159.1 1077.5L1159.6 1067.5L1160.1 1077.6L1160.6 1068.3L1161.1 1077.5L1161.6 1066.2L1162.1 1077.9L1162.6 1071.2L1163.1 1078.0L1163.6 1072.7L1164.1 1078.2L1164.6 1070.0L1165.1 1078.1L1165.6 1066.9L1166.1 1078.1L1166.6 1070.0L1167.1 1077.8L1167.6 1074.3L1168.1 1078.1L1168.6 1070.5L1169.1 1077.8L1169.6 1068.7L1170.1 1077.7L1170.6 1069.4L1171.1 1078.2L1171.6 1071.3L1172.1 1078.1L1172.6 1070.7L1173.1 1078.0L1173.6 1071.1L1174.1 1078.0L1174.6 1070.4L1175.1 1077.9L1175.6 1068.1L1176.1 1077.7L1176.6 1067.6L1177.1 1078.1L1177.6 1065.9L1178.1 1077.9L1178.6 1067.6L1179.1 1078.0L1179.6 1069.0L1180.1 1078.0L1180.6 1068.2L1181.1 1077.8L1181.6 1061.8L1182.1 1078.1L1182.6 1054.0L1183.1 1078.2L1183.6 1046.0L1184.1 1077.8L1184.6 1052.6L1185.1 1077.6L1185.6 1054.5L1186.1 1077.7L1186.6 1058.4L1187.1 1078.0L1187.6 1062.7L1188.1 1077.8L1188.6 1058.1L1189.1 1078.1L1189.6 1056.2L1190.1 1077.9L1190.6 1048.6L1191.1 1077.7L1191.6 1049.4L1192.1 1077.7L1192.6 1051.6L1193.1 1078.1L1193.6 1058.7L1194.1 1078.0L1194.6 1057.1L1195.1 1077.8L1195.6 1049.1L1196.1 1078.1L1196.6 1054.5L1197.1 1078.1L1197.6 1057.4L1198.1 1077.8L1198.6 1055.5L1199.1 1077.7L1199.6 1058.8L1200.1 1078.1L1200.6 1062.7L1201.1 1078.1L1201.6 1064.7L1202.1 1077.6L1202.6 1069.3L1203.1 1077.7L1203.6 1069.9L1204.1 1078.0L1204.6 1067.2L1205.1 1077.6L1205.6 1069.2L1206.1 1077.7L1206.6 1070.5L1207.1 1077.7L1207.6 1070.3L1208.1 1078.1L1208.6 1071.1L1209.1 1077.7L1209.6 1072.2L1210.1 1077.8L1210.6 1075.3L1211.1 1077.6L1211.6 1072.3L1212.1 1077.7L1212.6 1069.0L1213.1 1078.2L1213.6 1072.2L1214.1 1077.5L1214.6 1073.1L1215.1 1077.7L1215.6 1069.1L1216.1 1078.2L1216.6 1067.8L1217.1 1078.0L1217.6 1067.9L1218.1 1077.9L1218.6 1068.5L1219.1 1078.0L1219.6 1063.3L1220.1 1078.1L1220.6 1065.0L1221.1 1078.1L1221.6 1070.7L1222.1 1077.6L1222.6 1068.7L1223.1 1077.8L1223.6 1069.5L1224.1 1077.7L1224.6 1069.9L1225.1 1077.6L1225.6 1069.5L1226.1 1078.2L1226.6 1069.7L1227.1 1078.2L1227.6 1066.8L1228.1 1077.7L1228.6 1068.5L1229.1 1078.0L1229.6 1069.6L1230.1 1077.8L1230.6 1070.0L1231.1 1078.2L1231.6 1071.9L1232.1 1078.2L1232.6 1069.3L1233.1 1077.8L1233.6 1069.7L1234.1 1077.6L1234.6 1070.6L1235.1 1078.1L1235.6 1069.0L1236.1 1077.8L1236.6 1069.4L1237.1 1077.9L1237.6 1068.5L1238.1 1077.7L1238.6 1067.9L1239.1 1077.7L1239.6 1070.1L1240.1 1077.7L1240.6 1071.8L1241.1 1077.8L1241.6 1073.3L1242.1 1077.7L1242.6 1073.9L1243.1 1077.9L1243.6 1071.1L1244.1 1077.7L1244.6 1072.5L1245.1 1077.6L1245.6 1073.7L1246.1 1077.8L1246.6 1072.9L1247.1 1077.9L1247.6 1072.7L1248.1 1078.1L1248.6 1072.4L1249.1 1078.1L1249.6 1071.8L1250.1 1078.0L1250.6 1069.2L1251.1 1078.1L1251.6 1070.3L1252.1 1077.9L1252.6 1073.6L1253.1 1077.8L1253.6 1072.9L1254.1 1077.7L1254.6 1067.1L1255.1 1078.2L1255.6 1066.6L1256.1 1077.6L1256.6 1069.3L1257.1 1077.7L1257.6 1066.6L1258.1 1078.0L1258.6 1066.4L1259.1 1077.9L1259.6 1069.4L1260.1 1077.9L1260.6 1071.9L1261.1 1077.7L1261.6 1070.3L1262.1 1078.1L1262.6 1072.1L1263.1 1078.0L1263.6 1073.9L1264.1 1078.0L1264.6 1072.3L1265.1 1078.1L1265.6 1071.3L1266.1 1077.8L1266.6 1062.8L1267.1 1078.2L1267.6 1067.3L1268.1 1078.2L1268.6 1075.2L1269.1 1077.8L1269.6 1074.8L1270.1 1077.8L1270.6 1071.4L1271.1 1077.8L1271.6 1072.0L1272.1 1077.9L1272.6 1072.0L1273.1 1078.1L1273.6 1069.9L1274.1 1078.0L1274.6 1069.3L1275.1 1077.9L1275.6 1069.0L1276.1 1077.9L1276.6 1071.4L1277.1 1077.7L1277.6 1069.4L1278.1 1078.2L1278.6 1066.9L1279.1 1077.8L1279.6 1066.4L1280.1 1077.6L1280.6 1069.7L1281.1 1077.7L1281.6 1073.3L1282.1 1078.2L1282.6 1071.5L1283.1 1077.9L1283.6 1071.4L1284.1 1077.7L1284.6 1069.3L1285.1 1077.9L1285.6 1071.1L1286.1 1077.7L1286.6 1073.9L1287.1 1078.2L1287.6 1070.1L1288.1 1077.7L1288.6 1069.9L1289.1 1077.7L1289.6 1069.7L1290.1 1078.2L1290.6 1071.4L1291.1 1077.7L1291.6 1070.6L1292.1 1077.7L1292.6 1071.4L1293.1 1077.9L1293.6 1070.0L1294.1 1077.6L1294.6 1067.1L1295.1 1077.7L1295.6 1064.7L1296.1 1077.9L1296.6 1066.9L1297.1 1078.0L1297.6 1068.9L1298.1 1078.0L1298.6 1065.7L1299.1 1077.9L1299.6 1056.7L1300.1 1077.7L1300.6 1063.6L1301.1 1077.8L1301.6 1058.0L1302.1 1078.0L1302.6 1047.7L1303.1 1077.6L1303.6 1036.5L1304.1 1078.2L1304.6 1036.3L1305.1 1077.8L1305.6 1032.3L1306.1 1077.7L1306.6 1036.8L1307.1 1078.2L1307.6 1048.5L1308.1 1077.6L1308.6 1061.2L1309.1 1078.0L1309.6 1067.6L1310.1 1077.7L1310.6 1070.8L1311.1 1077.9L1311.6 1070.8L1312.1 1077.5L1312.6 1072.6L1313.1 1077.8L1313.6 1063.5L1314.1 1077.8L1314.6 1059.6L1315.1 1078.0L1315.6 1067.6L1316.1 1078.0L1316.6 1067.6L1317.1 1077.7L1317.6 1067.9L1318.1 1078.0L1318.6 1066.8L1319.1 1077.7L1319.6 1065.9L1320.1 1077.8L1320.6 1069.8L1321.1 1077.6L1321.6 1068.9L1322.1 1077.7L1322.6 1066.8L1323.1 1077.9L1323.6 1067.5L1324.1 1077.8L1324.6 1066.8L1325.1 1077.6L1325.6 1065.1L1326.1 1077.7L1326.6 1065.7L1327.1 1077.1L1327.6 1066.2L1328.1 1077.2L1328.6 1070.0L1329.1 1077.2L1329.6 1071.0L1330.1 1076.5L1330.6 1065.0L1331.1 1076.0L1331.6 1065.2L1332.1 1074.6L1332.6 1059.8L1333.0 1070.7L1333.5 1053.5L1334.2 1062.9L1334.6 1042.2L1335.4 1047.7L1335.3 1020.6L1336.5 1026.7L1336.8 996.9L1337.1 1007.5L1337.5 981.6L1338.1 1005.8L1338.8 994.2L1338.8 1020.5L1340.0 1018.4L1340.1 1043.4L1341.0 1041.7L1341.2 1060.2L1341.7 1054.0L1342.2 1070.4L1342.5 1061.5L1343.0 1073.7L1343.6 1065.4L1344.1 1075.5L1344.6 1068.3L1345.1 1076.1L1345.6 1070.2L1346.1 1076.7L1346.6 1069.8L1347.1 1076.7L1347.6 1068.5L1348.1 1077.1L1348.6 1069.2L1349.1 1077.0L1349.6 1066.2L1350.1 1077.4L1350.6 1065.8L1351.1 1076.9L1351.6 1065.3L1352.1 1077.2L1352.6 1066.0L1353.1 1076.9L1353.6 1064.6L1354.1 1077.0L1354.6 1065.5L1355.1 1077.1L1355.6 1065.1L1356.1 1077.0L1356.6 1064.9L1357.1 1076.8L1357.6 1066.1L1358.1 1076.3L1358.6 1067.4L1359.1 1076.5L1359.6 1064.0L1360.1 1075.9L1360.6 1061.3L1361.1 1075.7L1361.6 1062.4L1362.1 1075.6L1362.6 1058.8L1363.1 1075.0L1363.6 1058.1L1364.0 1073.5L1364.7 1059.0L1365.1 1071.8L1365.5 1056.2L1366.1 1067.4L1366.6 1045.4L1367.3 1058.0L1367.4 1027.8L1368.1 1037.1L1368.8 1000.5L1368.8 1000.3L1370.0 960.3L1370.4 953.9L1371.0 908.6L1370.8 906.3L1371.9 871.6L1372.2 887.5L1372.6 875.7L1373.3 908.2L1373.8 911.8L1373.9 952.5L1374.3 961.6L1375.4 1001.5L1375.3 1002.0L1376.5 1038.0L1376.3 1030.2L1377.5 1059.0L1377.3 1049.0L1378.1 1067.8L1378.6 1055.5L1379.2 1072.4L1379.6 1057.4L1380.1 1074.1L1380.7 1060.5L1381.1 1074.7L1381.7 1061.7L1382.1 1075.5L1382.6 1064.0L1383.1 1076.0L1383.6 1059.7L1384.1 1076.0L1384.6 1064.7L1385.1 1076.7L1385.6 1064.2L1386.1 1076.8L1386.6 1066.8L1387.1 1076.7L1387.6 1063.1L1388.1 1077.3L1388.6 1067.0L1389.1 1077.3L1389.6 1067.0L1390.1 1077.4L1390.6 1066.0L1391.1 1077.3L1391.6 1066.5L1392.1 1077.4L1392.6 1064.2L1393.1 1077.2L1393.6 1065.1L1394.1 1077.5L1394.6 1065.6L1395.1 1077.4L1395.6 1065.2L1396.1 1077.7L1396.6 1067.7L1397.1 1077.5L1397.6 1070.5L1398.1 1077.5L1398.6 1067.9L1399.1 1077.7L1399.6 1067.0L1400.1 1077.6L1400.6 1069.6L1401.1 1078.1L1401.6 1070.2L1402.1 1078.0L1402.6 1069.2L1403.1 1077.9L1403.6 1068.4L1404.1 1077.7L1404.6 1069.6L1405.1 1077.7L1405.6 1067.5L1406.1 1078.0L1406.6 1067.3L1407.1 1077.7L1407.6 1067.0L1408.1 1078.0L1408.6 1068.2L1409.1 1078.1L1409.6 1067.8L1410.1 1078.2L1410.6 1067.3L1411.1 1077.7L1411.6 1068.3L1412.1 1077.9L1412.6 1066.7L1413.1 1078.1L1413.6 1066.8L1414.1 1077.8L1414.6 1066.6L1415.1 1078.0L1415.6 1066.5L1416.1 1077.9L1416.6 1064.4L1417.1 1078.2L1417.6 1063.6L1418.1 1077.8L1418.6 1068.8L1419.1 1078.0L1419.6 1069.8L1420.1 1078.2L1420.6 1071.9L1421.1 1077.9L1421.6 1073.0L1422.1 1077.8L1422.6 1070.0L1423.1 1078.1L1423.6 1067.0L1424.1 1078.1L1424.6 1066.5L1425.1 1077.7L1425.6 1068.1L1426.1 1078.0L1426.6 1065.0L1427.1 1078.0L1427.6 1068.9L1428.1 1078.2L1428.6 1068.0L1429.1 1078.1L1429.6 1066.0L1430.1 1078.1L1430.6 1068.6L1431.1 1077.7L1431.6 1069.0L1432.1 1077.8L1432.6 1067.7L1433.1 1077.9L1433.6 1067.7L1434.1 1078.1L1434.6 1067.5L1435.1 1077.6L1435.6 1064.2L1436.1 1077.7L1436.6 1064.7L1437.1 1078.0L1437.6 1063.7L1438.1 1077.9L1438.6 1065.6L1439.1 1077.8L1439.6 1063.0L1440.1 1077.7L1440.6 1063.7L1441.1 1077.8L1441.6 1066.5L1442.1 1078.2L1442.6 1069.0L1443.1 1077.8L1443.6 1064.0L1444.1 1078.0L1444.6 1059.6L1445.1 1078.0L1445.6 1065.4L1446.1 1077.9L1446.6 1069.3L1447.1 1078.1L1447.6 1063.4L1448.1 1077.7L1448.6 1065.4L1449.1 1078.2L1449.6 1066.6L1450.1 1077.8L1450.6 1066.7L1451.1 1077.7L1451.6 1067.5L1452.1 1078.1L1452.6 1066.5L1453.1 1078.1L1453.6 1061.1L1454.1 1078.1L1454.6 1066.0L1455.1 1077.6L1455.6 1061.8L1456.1 1077.6L1456.6 1062.9L1457.1 1077.6L1457.6 1065.4L1458.1 1077.8L1458.6 1067.6L1459.1 1077.8L1459.6 1071.0L1460.1 1077.9L1460.6 1070.2L1461.1 1077.8L1461.6 1069.2L1462.1 1078.0L1462.6 1068.3L1463.1 1077.8L1463.6 1069.4L1464.1 1077.8L1464.6 1067.9L1465.1 1077.8L1465.6 1068.3L1466.1 1078.1L1466.6 1070.7L1467.1 1078.1L1467.6 1070.9L1468.1 1077.9L1468.6 1069.9L1469.1 1078.2L1469.6 1070.9L1470.1 1077.8L1470.6 1069.7L1471.1 1077.6L1471.6 1070.4L1472.1 1077.6L1472.6 1073.0L1473.1 1077.6L1473.6 1073.6L1474.1 1078.1L1474.6 1071.9L1475.1 1077.9L1475.6 1067.4L1476.1 1077.9L1476.6 1067.1L1477.1 1077.9L1477.6 1069.2L1478.1 1078.0L1478.6 1069.0L1479.1 1078.1L1479.6 1069.2L1480.1 1077.9L1480.6 1072.6L1481.1 1077.9L1481.6 1074.1L1482.1 1077.8L1482.6 1073.5L1483.1 1077.7L1483.6 1071.7L1484.1 1077.8L1484.6 1071.3L1485.1 1077.6L1485.6 1070.7L1486.1 1078.0L1486.6 1071.1L1487.1 1078.1L1487.6 1072.4L1488.1 1078.0L1488.6 1072.1L1489.1 1077.8L1489.6 1067.6L1490.1 1077.9L1490.6 1065.6L1491.1 1078.2L1491.6 1068.0L1492.1 1077.8L1492.6 1069.4L1493.1 1077.9L1493.6 1069.8L1494.1 1078.1L1494.6 1067.3L1495.1 1077.9L1495.6 1066.6L1496.1 1077.9L1496.6 1069.4L1497.1 1078.0L1497.6 1069.6L1498.1 1078.2L1498.6 1068.6L1499.1 1077.8L1499.6 1070.8L1500.1 1077.6L1500.6 1070.3L1501.1 1078.1L1501.6 1069.3L1502.1 1077.7L1502.6 1065.2L1503.1 1078.1L1503.6 1070.3L1504.1 1078.2L1504.6 1068.2L1505.1 1078.2L1505.6 1067.9L1506.1 1078.1L1506.6 1069.9L1507.1 1077.7L1507.6 1070.5L1508.1 1077.9L1508.6 1069.9L1509.1 1078.0L1509.6 1071.9L1510.1 1077.6L1510.6 1068.3L1511.1 1077.7L1511.6 1065.0L1512.1 1078.1L1512.6 1067.2L1513.1 1077.7L1513.6 1065.7L1514.1 1077.8L1514.6 1052.9L1515.1 1077.7L1515.6 1049.1L1516.1 1078.0L1516.6 1056.1L1517.1 1078.1L1517.6 1062.7L1518.1 1077.8L1518.6 1069.0L1519.1 1078.2L1519.6 1065.1L1520.1 1077.9L1520.6 1063.4L1521.1 1077.6L1521.6 1068.0L1522.1 1077.7L1522.6 1069.9L1523.1 1078.1L1523.6 1067.5L1524.1 1077.7L1524.6 1069.6L1525.1 1077.9L1525.6 1070.7L1526.1 1078.0L1526.6 1071.7L1527.1 1077.7L1527.6 1069.5L1528.1 1077.7L1528.6 1069.0L1529.1 1077.9L1529.6 1070.3L1530.1 1078.2L1530.6 1068.2L1531.1 1078.1L1531.6 1067.7L1532.1 1077.6L1532.6 1068.0L1533.1 1077.9L1533.6 1070.1L1534.1 1078.0L1534.6 1071.6L1535.1 1078.0L1535.6 1072.1L1536.1 1078.1L1536.6 1068.4L1537.1 1077.6L1537.6 1068.1L1538.1 1077.9L1538.6 1067.6L1539.1 1077.6L1539.6 1070.1L1540.1 1077.8L1540.6 1063.7L1541.1 1078.0L1541.6 1064.8L1542.1 1078.0L1542.6 1067.7L1543.1 1077.7L1543.6 1061.6L1544.1 1078.1L1544.6 1062.1L1545.1 1078.0L1545.6 1065.6L1546.1 1077.7L1546.6 1063.6L1547.1 1077.7L1547.6 1060.6L1548.1 1077.9L1548.6 1058.6L1549.1 1077.8L1549.6 1064.8L1550.1 1077.6L1550.6 1066.6L1551.1 1078.0L1551.6 1061.2L1552.1 1078.0L1552.6 1064.1L1553.1 1077.9L1553.6 1066.5L1554.1 1077.6L1554.6 1067.4L1555.1 1077.9L1555.6 1067.9L1556.1 1077.6L1556.6 1066.6L1557.1 1077.9L1557.6 1066.9L1558.1 1078.0L1558.6 1061.6L1559.1 1078.2L1559.6 1061.1L1560.1 1077.9L1560.6 1062.8L1561.1 1077.9L1561.6 1062.3L1562.1 1077.8L1562.6 1063.8L1563.1 1078.1L1563.6 1054.0L1564.1 1078.2L1564.6 1045.6L1565.1 1077.7L1565.6 1055.8L1566.1 1078.1L1566.6 1060.4L1567.1 1077.8L1567.6 1060.2L1568.1 1077.9L1568.6 1062.9L1569.1 1077.8L1569.6 1064.3L1570.1 1077.7L1570.6 1065.2L1571.1 1077.6L1571.6 1065.7L1572.1 1077.6L1572.6 1066.8L1573.1 1078.1L1573.6 1065.5L1574.1 1078.0L1574.6 1063.8L1575.1 1078.1L1575.6 1065.3L1576.1 1078.2L1576.6 1066.6L1577.1 1077.6L1577.6 1069.5L1578.1 1078.0L1578.6 1070.2L1579.1 1077.6L1579.6 1067.3L1580.1 1078.0L1580.6 1068.3L1581.1 1077.6L1581.6 1067.2L1582.1 1078.0L1582.6 1068.0L1583.1 1077.9L1583.6 1063.9L1584.1 1077.8L1584.6 1059.9L1585.1 1077.7L1585.6 1065.4L1586.1 1078.2L1586.6 1068.6L1587.1 1077.7L1587.6 1068.0L1588.1 1078.0L1588.6 1066.5L1589.1 1077.9L1589.6 1066.4L1590.1 1077.6L1590.6 1067.3L1591.1 1077.9L1591.6 1067.7L1592.1 1077.8L1592.6 1066.0L1593.1 1077.8L1593.6 1064.7L1594.1 1077.8L1594.6 1067.0L1595.1 1077.9L1595.6 1066.7L1596.1 1077.9L1596.6 1066.2L1597.1 1077.7L1597.6 1065.5L1598.1 1078.2L1598.6 1067.5L1599.1 1077.8L1599.6 1069.9L1600.1 1077.8L1600.6 1072.2L1601.1 1077.8L1601.6 1074.3L1602.1 1077.7L1602.6 1073.1L1603.1 1077.7L1603.6 1068.4"/>
<path stroke="#B25C10" stroke-width="3.5" d="M115.1 970.9L115.6 966.0L116.1 970.9L116.6 960.6L117.1 971.2L117.6 954.8L118.1 970.8L118.6 956.7L119.1 970.7L119.6 957.4L120.1 971.2L120.6 955.3L121.1 971.2L121.6 956.6L122.1 971.1L122.6 956.0L123.1 970.6L123.6 956.5L124.1 970.6L124.6 954.8L125.1 970.8L125.6 956.4L126.1 971.1L126.6 956.0L127.1 971.1L127.6 953.1L128.1 971.1L128.6 952.0L129.1 971.0L129.6 954.2L130.1 971.1L130.6 960.3L131.1 971.3L131.6 958.3L132.1 970.8L132.6 962.2L133.1 970.5L133.6 960.0L134.1 971.1L134.6 959.4L135.1 970.9L135.6 958.0L136.1 970.6L136.6 957.9L137.1 970.6L137.6 958.9L138.1 970.8L138.6 960.6L139.1 970.7L139.6 963.5L140.1 971.0L140.6 960.6L141.1 970.8L141.6 959.9L142.1 971.1L142.6 961.7L143.1 970.5L143.6 958.1L144.1 970.8L144.6 957.9L145.1 971.4L145.6 960.7L146.1 971.3L146.6 957.0L147.1 970.8L147.6 959.0L148.1 971.0L148.6 957.4L149.1 970.6L149.6 960.5L150.1 971.4L150.6 964.9L151.1 970.8L151.6 963.0L152.1 970.9L152.6 959.9L153.1 971.1L153.6 961.5L154.1 970.7L154.6 959.5L155.1 970.9L155.6 956.4L156.1 971.1L156.6 957.5L157.1 971.3L157.6 956.2L158.1 970.8L158.6 953.9L159.1 970.9L159.6 956.9L160.1 971.0L160.6 960.0L161.1 970.7L161.6 961.4L162.1 970.8L162.6 963.4L163.1 970.7L163.6 964.5L164.1 970.8L164.6 959.3L165.1 970.7L165.6 962.1L166.1 970.7L166.6 962.2L167.1 970.7L167.6 962.2L168.1 970.8L168.6 966.6L169.1 970.7L169.6 963.8L170.1 971.4L170.6 961.8L171.1 970.7L171.6 961.8L172.1 971.3L172.6 962.6L173.1 971.3L173.6 965.2L174.1 970.8L174.6 963.7L175.1 970.7L175.6 959.6L176.1 970.6L176.6 959.4L177.1 971.4L177.6 959.4L178.1 971.0L178.6 966.1L179.1 970.9L179.6 963.0L180.1 971.2L180.6 960.7L181.1 971.2L181.6 966.2L182.1 970.9L182.6 966.9L183.1 971.2L183.6 965.3L184.1 970.8L184.6 965.5L185.1 970.7L185.6 961.1L186.1 971.1L186.6 959.3L187.1 971.3L187.6 962.2L188.1 970.7L188.6 958.9L189.1 971.2L189.6 961.5L190.1 971.1L190.6 961.2L191.1 970.8L191.6 959.4L192.1 971.2L192.6 961.6L193.1 970.6L193.6 958.3L194.1 970.8L194.6 957.9L195.1 970.8L195.6 963.2L196.1 971.3L196.6 965.2L197.1 970.6L197.6 965.6L198.1 971.0L198.6 964.1L199.1 970.8L199.6 958.8L200.1 971.1L200.6 960.0L201.1 970.9L201.6 960.4L202.1 971.0L202.6 959.4L203.1 971.0L203.6 965.8L204.1 970.7L204.6 963.7L205.1 971.0L205.6 962.5L206.1 970.9L206.6 963.1L207.1 971.2L207.6 965.7L208.1 970.8L208.6 964.3L209.1 970.8L209.6 958.0L210.1 971.0L210.6 955.7L211.1 970.8L211.6 960.1L212.1 970.8L212.6 958.6L213.1 971.1L213.6 958.8L214.1 971.4L214.6 959.8L215.1 971.2L215.6 958.1L216.1 970.6L216.6 956.6L217.1 970.8L217.6 954.9L218.1 970.6L218.6 958.5L219.1 971.4L219.6 962.6L220.1 970.7L220.6 962.5L221.1 970.6L221.6 961.4L222.1 971.2L222.6 962.1L223.1 970.7L223.6 960.0L224.1 971.4L224.6 963.7L225.1 971.1L225.6 963.0L226.1 971.0L226.6 966.2L227.1 970.9L227.6 964.5L228.1 971.0L228.6 962.1L229.1 971.3L229.6 958.9L230.1 970.7L230.6 962.7L231.1 970.7L231.6 959.9L232.1 970.6L232.6 957.4L233.1 971.0L233.6 960.0L234.1 970.9L234.6 958.8L235.1 971.1L235.6 961.7L236.1 971.1L236.6 963.2L237.1 970.6L237.6 959.0L238.1 971.4L238.6 959.3L239.1 971.0L239.6 959.6L240.1 971.4L240.6 958.2L241.1 971.3L241.6 963.9L242.1 970.7L242.6 966.4L243.1 971.0L243.6 966.9L244.1 970.6L244.6 963.8L245.1 971.2L245.6 963.7L246.1 970.9L246.6 961.0L247.1 971.3L247.6 964.3L248.1 971.1L248.6 963.2L249.1 970.9L249.6 962.2L250.1 971.3L250.6 964.5L251.1 970.8L251.6 963.2L252.1 971.4L252.6 964.8L253.1 971.1L253.6 963.8L254.1 971.3L254.6 960.3L255.1 970.8L255.6 962.8L256.1 971.2L256.6 963.1L257.1 970.9L257.6 963.7L258.1 971.1L258.6 954.4L259.1 970.7L259.6 950.8L260.1 971.2L260.6 961.0L261.1 971.0L261.6 964.4L262.1 971.3L262.6 961.3L263.1 971.1L263.6 959.7L264.1 970.6L264.6 952.8L265.1 970.8L265.6 954.5L266.1 970.7L266.6 963.2L267.1 970.8L267.6 961.3L268.1 971.2L268.6 961.4L269.1 971.1L269.6 961.8L270.1 970.9L270.6 961.8L271.1 971.4L271.6 962.9L272.1 971.3L272.6 962.4L273.1 971.1L273.6 965.5L274.1 970.9L274.6 963.8L275.1 970.7L275.6 966.9L276.1 970.9L276.6 967.3L277.1 971.1L277.6 964.3L278.1 971.1L278.6 964.7L279.1 970.7L279.6 961.5L280.1 970.6L280.6 961.3L281.1 971.0L281.6 963.8L282.1 971.1L282.6 962.3L283.1 971.3L283.6 955.1L284.1 971.3L284.6 958.7L285.1 971.2L285.6 963.1L286.1 970.9L286.6 951.3L287.1 970.7L287.6 961.2L288.1 970.6L288.6 965.3L289.1 971.4L289.6 963.5L290.1 971.1L290.6 961.7L291.1 971.3L291.6 957.9L292.1 971.0L292.6 955.6L293.1 970.8L293.6 954.5L294.1 970.6L294.6 955.8L295.1 970.9L295.6 959.6L296.1 971.3L296.6 963.1L297.1 970.7L297.6 961.2L298.1 971.3L298.6 961.4L299.1 971.4L299.6 961.0L300.1 971.1L300.6 962.6L301.1 971.1L301.6 964.6L302.1 970.7L302.6 964.6L303.1 970.7L303.6 967.8L304.1 971.1L304.6 963.5L305.1 970.8L305.6 959.9L306.1 971.0L306.6 962.1L307.1 970.8L307.6 962.8L308.1 970.8L308.6 960.7L309.1 971.1L309.6 961.6L310.1 971.1L310.6 962.1L311.1 970.8L311.6 962.7L312.1 971.3L312.6 964.9L313.1 971.4L313.6 963.8L314.1 970.9L314.6 961.3L315.1 971.1L315.6 962.3L316.1 970.7L316.6 962.1L317.1 970.6L317.6 958.5L318.1 970.9L318.6 962.8L319.1 971.0L319.6 968.6L320.1 970.7L320.6 967.5L321.1 971.3L321.6 967.5L322.1 970.9L322.6 964.8L323.1 971.0L323.6 964.8L324.1 971.1L324.6 965.2L325.1 970.7L325.6 963.0L326.1 970.7L326.6 963.9L327.1 970.9L327.6 964.8L328.1 971.2L328.6 962.9L329.1 970.9L329.6 962.1L330.1 970.9L330.6 961.8L331.1 970.7L331.6 965.3L332.1 971.3L332.6 968.3L333.1 970.7L333.6 958.5L334.1 971.3L334.6 960.0L335.1 971.0L335.6 964.2L336.1 971.2L336.6 962.1L337.1 970.9L337.6 960.4L338.1 970.9L338.6 959.5L339.1 970.7L339.6 963.5L340.1 970.7L340.6 962.6L341.1 970.9L341.6 962.9L342.1 970.7L342.6 965.5L343.1 971.2L343.6 966.7L344.1 971.1L344.6 966.0L345.1 971.1L345.6 968.0L346.1 970.8L346.6 968.8L347.1 971.0L347.6 965.3L348.1 970.7L348.6 962.3L349.1 971.3L349.6 963.4L350.1 970.8L350.6 964.1L351.1 970.9L351.6 963.1L352.1 971.1L352.6 965.7L353.1 971.2L353.6 964.0L354.1 971.3L354.6 964.3L355.1 971.2L355.6 961.6L356.1 971.0L356.6 963.4L357.1 970.9L357.6 968.7L358.1 971.3L358.6 965.2L359.1 971.1L359.6 961.6L360.1 971.2L360.6 961.9L361.1 970.9L361.6 965.0L362.1 971.2L362.6 964.2L363.1 971.2L363.6 965.2L364.1 971.0L364.6 963.9L365.1 970.8L365.6 961.4L366.1 971.3L366.6 958.5L367.1 970.8L367.6 958.3L368.1 971.1L368.6 961.8L369.1 971.4L369.6 961.6L370.1 970.9L370.6 963.2L371.1 971.1L371.6 961.6L372.1 971.2L372.6 958.0L373.1 971.3L373.6 965.9L374.1 970.9L374.6 964.4L375.1 971.2L375.6 962.5L376.1 970.8L376.6 960.9L377.1 970.8L377.6 963.1L378.1 971.2L378.6 960.5L379.1 970.8L379.6 959.1L380.1 971.2L380.6 960.3L381.1 971.1L381.6 961.6L382.1 971.0L382.6 959.7L383.1 971.0L383.6 957.8L384.1 971.0L384.6 960.2L385.1 971.2L385.6 961.6L386.1 971.1L386.6 961.7L387.1 970.7L387.6 962.9L388.1 970.7L388.6 963.5L389.1 971.2L389.6 960.9L390.1 970.9L390.6 962.1L391.1 970.9L391.6 964.7L392.1 971.0L392.6 964.4L393.1 971.1L393.6 965.2L394.1 971.3L394.6 965.7L395.1 971.1L395.6 963.3L396.1 971.2L396.6 958.1L397.1 971.2L397.6 966.2L398.1 971.4L398.6 966.5L399.1 971.2L399.6 962.7L400.1 970.9L400.6 963.1L401.1 970.8L401.6 963.8L402.1 970.9L402.6 954.6L403.1 970.7L403.6 960.3L404.1 970.8L404.6 961.3L405.1 971.2L405.6 960.6L406.1 970.8L406.6 960.6L407.1 971.2L407.6 960.0L408.1 971.0L408.6 964.4L409.1 970.5L409.6 966.8L410.1 970.9L410.6 966.1L411.1 970.7L411.6 965.5L412.1 970.6L412.6 963.9L413.1 970.4L413.6 961.6L414.1 970.5L414.6 963.1L415.1 970.6L415.6 962.5L416.1 970.3L416.6 957.2L417.1 970.1L417.6 957.2L418.1 969.4L418.6 955.3L419.1 969.5L419.6 953.9L420.1 969.0L420.6 953.4L421.1 968.4L421.7 955.1L422.1 967.7L422.5 951.7L423.1 966.6L423.5 948.4L424.1 964.9L424.6 944.6L425.1 960.0L425.4 934.4L426.4 947.3L426.8 914.0L427.1 917.1L427.4 875.0L428.1 866.6L428.6 813.3L428.7 804.2L429.9 757.8L429.8 763.1L430.3 738.6L430.9 774.5L431.3 775.8L431.7 828.0L433.0 841.9L433.0 888.2L433.4 892.5L433.8 930.4L434.6 927.4L435.4 954.1L435.6 940.0L436.2 962.7L436.6 946.0L437.2 966.1L437.6 952.2L438.1 967.8L438.6 956.0L439.1 968.5L439.6 954.6L440.1 969.0L440.6 954.5L441.1 969.1L441.6 952.5L442.1 969.9L442.6 953.8L443.1 969.5L443.6 957.1L444.1 969.8L444.6 955.9L445.1 969.9L445.6 952.9L446.1 970.2L446.6 957.8L447.1 970.3L447.6 957.7L448.1 970.2L448.6 955.2L449.1 970.4L449.6 954.3L450.1 970.8L450.6 951.6L451.1 971.0L451.6 956.4L452.1 970.6L452.6 962.7L453.1 970.6L453.6 959.8L454.1 970.6L454.6 960.0L455.1 971.1L455.6 962.4L456.1 971.1L456.6 961.4L457.1 970.9L457.6 961.8L458.1 970.9L458.6 958.1L459.1 970.7L459.6 963.7L460.1 971.3L460.6 963.5L461.1 971.3L461.6 962.9L462.1 970.8L462.6 963.3L463.1 970.8L463.6 963.2L464.1 971.0L464.6 962.5L465.1 971.0L465.6 961.2L466.1 971.4L466.6 959.8L467.1 971.2L467.6 960.1L468.1 970.9L468.6 957.1L469.1 971.4L469.6 955.9L470.1 970.9L470.6 957.8L471.1 971.0L471.6 964.1L472.1 971.3L472.6 965.4L473.1 971.4L473.6 962.3L474.1 970.9L474.6 962.8L475.1 971.1L475.6 966.7L476.1 971.3L476.6 962.7L477.1 971.0L477.6 961.9L478.1 971.1L478.6 961.6L479.1 971.3L479.6 958.6L480.1 970.7L480.6 957.0L481.1 971.1L481.6 954.6L482.1 971.0L482.6 950.1L483.1 971.1L483.6 945.2L484.1 971.2L484.6 936.8L485.1 970.7L485.6 934.3L486.1 970.8L486.6 950.2L487.1 971.1L487.6 953.3L488.1 971.0L488.6 958.8L489.1 970.6L489.6 961.7L490.1 970.8L490.6 960.8L491.1 970.6L491.6 958.2L492.1 970.7L492.6 960.7L493.1 970.4L493.6 962.6L494.1 969.7L494.6 958.0L495.1 968.9L495.6 950.9L496.1 965.2L496.8 951.2L497.1 959.3L497.3 942.1L497.9 950.1L498.4 933.0L499.1 944.6L499.9 927.1L500.5 946.3L500.6 935.6L501.3 952.4L501.9 945.1L502.2 960.4L502.6 951.9L503.0 965.8L503.6 956.0L504.1 968.2L504.6 955.7L505.1 969.8L505.6 957.7L506.1 969.5L506.6 957.0L507.1 970.2L507.6 955.0L508.1 969.8L508.6 954.8L509.1 970.0L509.6 956.3L510.1 969.7L510.6 956.7L511.1 969.9L511.6 949.4L512.1 969.8L512.6 955.9L513.1 969.7L513.6 960.0L514.1 969.7L514.6 954.2L515.1 969.1L515.6 955.2L516.1 969.0L516.6 955.4L517.1 969.1L517.6 947.1L518.1 968.3L518.5 948.0L519.1 968.4L519.7 949.7L520.1 968.4L520.6 954.1L521.1 967.7L521.7 949.5L522.2 967.6L522.5 947.5L523.1 966.7L523.6 950.7L524.0 965.9L524.6 946.5L525.2 965.4L525.5 944.1L526.2 964.2L526.6 939.6L527.1 963.2L527.6 938.7L528.1 961.9L528.4 938.6L529.1 960.0L529.3 941.2L529.9 955.7L530.9 941.0L531.5 951.7L531.9 933.2L532.2 940.2L532.3 914.8L532.9 918.4L533.6 883.8L534.5 881.8L534.4 832.6L535.0 816.7L535.7 753.1L535.8 725.0L536.4 654.2L536.9 610.9L537.5 534.8L538.4 493.2L539.0 421.6L539.4 401.1L539.6 352.6L539.7 368.6L540.8 363.7L541.4 415.8L541.9 442.3L542.5 516.0L542.9 551.8L542.7 633.8L543.4 669.7L543.9 745.9L544.7 772.8L544.8 831.6L545.7 846.9L545.9 889.0L546.3 891.0L547.3 924.6L547.9 919.7L548.3 943.0L548.9 927.5L549.2 952.5L549.8 934.5L550.2 957.9L550.4 938.0L551.2 960.2L551.8 938.7L552.1 961.6L552.7 941.5L553.2 963.5L553.7 941.9L554.1 964.5L554.5 946.1L555.0 964.9L555.6 946.1L556.0 965.7L556.5 947.4L557.0 966.2L557.6 945.6L558.1 967.1L558.7 952.6L559.1 967.4L559.6 947.9L560.1 968.1L560.6 954.5L561.1 968.6L561.6 957.3L562.1 968.6L562.6 957.0L563.1 969.3L563.6 956.1L564.1 969.4L564.6 958.3L565.1 969.5L565.6 955.7L566.1 969.5L566.6 956.7L567.1 969.4L567.6 956.5L568.1 969.9L568.6 954.7L569.1 970.2L569.6 956.4L570.1 970.2L570.6 956.2L571.1 970.4L571.6 958.1L572.1 970.3L572.6 952.4L573.1 970.6L573.6 957.4L574.1 970.4L574.6 957.1L575.1 970.6L575.6 962.2L576.1 970.7L576.6 958.3L577.1 970.4L577.6 953.2L578.1 970.5L578.6 952.3L579.1 970.6L579.6 947.2L580.1 970.5L580.6 949.5L581.1 971.1L581.6 946.9L582.1 971.1L582.6 943.7L583.1 970.8L583.6 943.1L584.1 971.0L584.6 952.8L585.1 970.8L585.6 953.0L586.1 971.0L586.6 954.5L587.1 970.9L587.6 960.1L588.1 971.2L588.6 958.4L589.1 971.3L589.6 963.3L590.1 971.1L590.6 963.7L591.1 971.0L591.6 962.6L592.1 971.3L592.6 958.6L593.1 971.2L593.6 964.4L594.1 970.8L594.6 962.8L595.1 971.4L595.6 962.8L596.1 971.0L596.6 958.7L597.1 970.7L597.6 957.9L598.1 971.0L598.6 963.0L599.1 971.2L599.6 961.4L600.1 971.0L600.6 961.7L601.1 971.1L601.6 965.5L602.1 971.2L602.6 965.5L603.1 971.3L603.6 962.8L604.1 971.2L604.6 963.1L605.1 970.9L605.6 956.3L606.1 971.1L606.6 962.8L607.1 970.7L607.6 961.5L608.1 970.9L608.6 959.0L609.1 970.5L609.6 959.6L610.1 970.4L610.6 959.5L611.1 970.8L611.6 961.5L612.1 970.4L612.6 962.0L613.1 970.7L613.6 961.5L614.1 970.3L614.6 963.2L615.1 970.1L615.6 958.9L616.1 969.9L616.6 955.2L617.1 969.2L617.6 959.1L618.1 967.8L618.5 956.6L619.0 964.0L619.4 949.2L620.4 957.1L620.7 933.0L620.9 942.9L621.7 920.3L622.3 926.1L622.8 903.6L623.1 910.3L623.3 883.9L624.2 906.3L624.5 890.5L625.1 915.7L625.5 909.5L626.1 932.9L626.8 928.4L626.9 948.9L627.7 940.7L628.2 960.2L628.7 948.8L629.1 965.9L629.5 956.1L630.1 968.2L630.6 961.4L631.1 969.5L631.6 962.8L632.1 969.8L632.6 965.0L633.1 970.1L633.6 962.0L634.1 970.6L634.6 960.6L635.1 970.6L635.6 964.1L636.1 970.8L636.6 967.2L637.1 971.0L637.6 965.9L638.1 970.7L638.6 966.0L639.1 970.8L639.6 963.8L640.1 971.1L640.6 962.9L641.1 970.7L641.6 965.7L642.1 970.9L642.6 964.7L643.1 970.8L643.6 963.8L644.1 971.2L644.6 962.3L645.1 971.3L645.6 960.2L646.1 971.0L646.6 959.6L647.1 970.9L647.6 959.7L648.1 971.3L648.6 962.0L649.1 971.0L649.6 964.2L650.1 970.9L650.6 963.5L651.1 971.0L651.6 963.4L652.1 970.9L652.6 967.5L653.1 971.2L653.6 968.1L654.1 970.9L654.6 966.7L655.1 971.2L655.6 968.0L656.1 971.2L656.6 968.6L657.1 970.9L657.6 963.6L658.1 971.2L658.6 962.4L659.1 971.0L659.6 962.2L660.1 971.3L660.6 961.8L661.1 971.1L661.6 964.7L662.1 971.0L662.6 963.7L663.1 971.0L663.6 964.2L664.1 971.4L664.6 957.6L665.1 971.3L665.6 962.7L666.1 970.9L666.6 962.6L667.1 971.1L667.6 960.8L668.1 971.1L668.6 963.9L669.1 970.9L669.6 965.5L670.1 970.9L670.6 962.3L671.1 971.1L671.6 960.1L672.1 971.1L672.6 963.4L673.1 971.1L673.6 959.1L674.1 971.0L674.6 959.6L675.1 971.2L675.6 966.1L676.1 970.8L676.6 964.9L677.1 970.9L677.6 966.3L678.1 971.3L678.6 964.2L679.1 970.8L679.6 963.3L680.1 971.2L680.6 961.4L681.1 971.1L681.6 960.3L682.1 970.8L682.6 964.0L683.1 970.8L683.6 962.1L684.1 971.0L684.6 965.5L685.1 971.3L685.6 968.6L686.1 971.3L686.6 968.3L687.1 971.1L687.6 965.3L688.1 971.4L688.6 966.0L689.1 971.2L689.6 959.6L690.1 971.4L690.6 957.0L691.1 971.1L691.6 962.0L692.1 971.1L692.6 961.6L693.1 970.9L693.6 961.4L694.1 971.1L694.6 963.8L695.1 971.2L695.6 965.7L696.1 971.2L696.6 963.0L697.1 970.9L697.6 964.5L698.1 971.0L698.6 960.8L699.1 971.2L699.6 966.8L700.1 971.1L700.6 964.9L701.1 971.2L701.6 962.4L702.1 970.8L702.6 964.2L703.1 971.0L703.6 965.8L704.1 971.4L704.6 966.1L705.1 971.3L705.6 965.7L706.1 971.3L706.6 966.6L707.1 971.1L707.6 967.3L708.1 971.0L708.6 967.7L709.1 971.3L709.6 967.9L710.1 971.2L710.6 965.8L711.1 971.0L711.6 964.4L712.1 970.9L712.6 964.9L713.1 970.9L713.6 964.6L714.1 971.3L714.6 961.5L715.1 970.9L715.6 959.2L716.1 970.8L716.6 961.0L717.1 970.9L717.6 962.0L718.1 971.2L718.6 961.5L719.1 970.9L719.6 963.6L720.1 971.0L720.6 963.2L721.1 970.8L721.6 962.9L722.1 971.1L722.6 964.4L723.1 971.1L723.6 964.6L724.1 971.0L724.6 964.2L725.1 971.3L725.6 964.1L726.1 971.2L726.6 957.7L727.1 971.0L727.6 961.4L728.1 971.0L728.6 963.4L729.1 971.0L729.6 965.0L730.1 970.9L730.6 966.5L731.1 971.3L731.6 965.6L732.1 970.9L732.6 967.3L733.1 970.9L733.6 969.4L734.1 971.1L734.6 968.2L735.1 971.0L735.6 967.6L736.1 971.4L736.6 968.2L737.1 971.1L737.6 965.5L738.1 970.9L738.6 963.7L739.1 970.9L739.6 963.7L740.1 971.3L740.6 961.8L741.1 971.3L741.6 957.2L742.1 971.2L742.6 962.9L743.1 971.3L743.6 959.8L744.1 971.0L744.6 961.6L745.1 971.0L745.6 963.9L746.1 971.1L746.6 960.7L747.1 971.2L747.6 962.7L748.1 971.1L748.6 966.0L749.1 970.9L749.6 968.2L750.1 971.1L750.6 965.4L751.1 971.1L751.6 963.2L752.1 971.2L752.6 963.6L753.1 971.0L753.6 964.8L754.1 971.1L754.6 961.0L755.1 971.3L755.6 959.6L756.1 970.9L756.6 967.6L757.1 971.4L757.6 969.3L758.1 971.0L758.6 965.4L759.1 970.9L759.6 966.0L760.1 971.0L760.6 960.5L761.1 971.2L761.6 962.9L762.1 971.0L762.6 965.1L763.1 970.9L763.6 964.4L764.1 971.0L764.6 966.1L765.1 971.3L765.6 964.2L766.1 971.4L766.6 963.9L767.1 971.3L767.6 963.8L768.1 970.9L768.6 962.1L769.1 971.3L769.6 964.9L770.1 970.9L770.6 965.6L771.1 971.0L771.6 964.3L772.1 971.0L772.6 964.9L773.1 971.4L773.6 963.2L774.1 971.1L774.6 959.7L775.1 971.3L775.6 958.5L776.1 971.1L776.6 961.6L777.1 971.2L777.6 963.0L778.1 970.9L778.6 962.8L779.1 971.0L779.6 963.7L780.1 971.3L780.6 963.5L781.1 970.9L781.6 963.4L782.1 970.9L782.6 963.8L783.1 971.1L783.6 963.1L784.1 971.4L784.6 963.9L785.1 971.0L785.6 965.8L786.1 971.2L786.6 964.8L787.1 970.9L787.6 965.6L788.1 971.4L788.6 964.3L789.1 971.0L789.6 964.3L790.1 971.3L790.6 962.4L791.1 971.2L791.6 964.5L792.1 971.3L792.6 966.4L793.1 971.1L793.6 965.2L794.1 971.1L794.6 965.4L795.1 971.0L795.6 964.9L796.1 971.3L796.6 967.9L797.1 971.3L797.6 968.1L798.1 970.9L798.6 965.9L799.1 971.4L799.6 965.6L800.1 971.1L800.6 963.2L801.1 971.3L801.6 962.7L802.1 971.3L802.6 962.9L803.1 971.1L803.6 961.9L804.1 971.4L804.6 964.7L805.1 971.2L805.6 965.0L806.1 971.3L806.6 965.5L807.1 971.3L807.6 967.1L808.1 971.1L808.6 966.9L809.1 971.4L809.6 964.9L810.1 970.9L810.6 965.6L811.1 971.3L811.6 965.2L812.1 971.4L812.6 963.4L813.1 971.0L813.6 966.1L814.1 971.3L814.6 965.9L815.1 971.2L815.6 962.3L816.1 971.3L816.6 951.6L817.1 971.0L817.6 943.7L818.1 971.4L818.6 943.2L819.1 970.9L819.6 945.0L820.1 971.2L820.6 950.4L821.1 971.0L821.6 960.8L822.1 971.3L822.6 966.1L823.1 971.1L823.6 964.7L824.1 971.1L824.6 963.6L825.1 971.2L825.6 964.9L826.1 971.2L826.6 966.0L827.1 971.2L827.6 965.4L828.1 971.2L828.6 964.1L829.1 971.2L829.6 963.1L830.1 970.9L830.6 963.7L831.1 970.9L831.6 962.5L832.1 971.4L832.6 963.8L833.1 971.0L833.6 965.6L834.1 971.3L834.6 966.8L835.1 970.9L835.6 965.2L836.1 971.3L836.6 965.3L837.1 971.3L837.6 966.2L838.1 971.0L838.6 964.5L839.1 971.1L839.6 963.3L840.1 971.1L840.6 964.1L841.1 971.0L841.6 966.5L842.1 971.2L842.6 965.7L843.1 970.9L843.6 964.1L844.1 971.3L844.6 966.7L845.1 971.3L845.6 966.7L846.1 971.1L846.6 964.6L847.1 971.2L847.6 963.8L848.1 971.4L848.6 961.9L849.1 971.2L849.6 962.8L850.1 971.3L850.6 963.3L851.1 970.9L851.6 959.5L852.1 970.9L852.6 960.1L853.1 971.4L853.6 961.2L854.1 971.2L854.6 962.5L855.1 971.1L855.6 962.1L856.1 971.1L856.6 962.1L857.1 971.0L857.6 961.3L858.1 971.1L858.6 963.3L859.1 971.0L859.6 967.5L860.1 971.3L860.6 967.7L861.1 971.1L861.6 965.9L862.1 971.1L862.6 956.3L863.1 971.0L863.6 956.5L864.1 971.4L864.6 962.5L865.1 971.0L865.6 963.7L866.1 971.3L866.6 964.9L867.1 971.1L867.6 963.1L868.1 971.3L868.6 963.7L869.1 971.1L869.6 965.1L870.1 971.2L870.6 963.8L871.1 971.3L871.6 957.3L872.1 971.1L872.6 962.9L873.1 971.1L873.6 963.6L874.1 971.0L874.6 965.3L875.1 971.2L875.6 968.3L876.1 971.3L876.6 968.9L877.1 971.1L877.6 965.3L878.1 971.0L878.6 956.7L879.1 971.3L879.6 965.3L880.1 970.9L880.6 966.4L881.1 971.1L881.6 966.7L882.1 971.2L882.6 967.1L883.1 971.1L883.6 964.9L884.1 971.1L884.6 965.2L885.1 971.0L885.6 966.0L886.1 971.1L886.6 965.1L887.1 971.4L887.6 964.4L888.1 971.3L888.6 966.3L889.1 970.9L889.6 966.7L890.1 971.0L890.6 966.5L891.1 971.3L891.6 968.4L892.1 971.0L892.6 966.3L893.1 971.2L893.6 966.1L894.1 971.3L894.6 967.1L895.1 970.9L895.6 967.1L896.1 971.0L896.6 964.0L897.1 970.9L897.6 963.9L898.1 971.2L898.6 965.5L899.1 970.9L899.6 965.4L900.1 971.2L900.6 964.2L901.1 971.1L901.6 963.7L902.1 971.0L902.6 964.9L903.1 971.4L903.6 965.3L904.1 971.1L904.6 966.9L905.1 971.4L905.6 966.7L906.1 971.4L906.6 966.6L907.1 970.9L907.6 965.2L908.1 971.2L908.6 965.6L909.1 971.0L909.6 969.1L910.1 971.2L910.6 967.6L911.1 971.4L911.6 964.6L912.1 970.9L912.6 963.7L913.1 971.1L913.6 965.0L914.1 971.2L914.6 964.7L915.1 971.4L915.6 965.2L916.1 971.0L916.6 966.2L917.1 971.0L917.6 965.8L918.1 971.2L918.6 965.2L919.1 971.4L919.6 964.0L920.1 971.2L920.6 965.6L921.1 971.4L921.6 968.2L922.1 971.2L922.6 966.8L923.1 971.3L923.6 964.4L924.1 971.4L924.6 965.1L925.1 971.3L925.6 964.7L926.1 970.9L926.6 966.3L927.1 971.0L927.6 966.5L928.1 971.3L928.6 964.1L929.1 970.9L929.6 963.6L930.1 971.0L930.6 964.5L931.1 971.0L931.6 966.8L932.1 971.1L932.6 964.0L933.1 970.9L933.6 963.7L934.1 971.1L934.6 965.0L935.1 971.3L935.6 965.0L936.1 971.4L936.6 965.3L937.1 971.2L937.6 966.5L938.1 971.3L938.6 968.2L939.1 971.0L939.6 966.5L940.1 971.2L940.6 964.4L941.1 971.2L941.6 963.1L942.1 971.3L942.6 965.0L943.1 970.9L943.6 967.8L944.1 971.3L944.6 965.6L945.1 971.3L945.6 964.7L946.1 971.4L946.6 965.3L947.1 971.2L947.6 964.0L948.1 971.2L948.6 965.3L949.1 971.2L949.6 965.4L950.1 970.9L950.6 960.8L951.1 971.2L951.6 961.6L952.1 971.3L952.6 965.8L953.1 971.0L953.6 963.7L954.1 971.1L954.6 964.2L955.1 970.9L955.6 967.0L956.1 971.1L956.6 966.4L957.1 971.1L957.6 964.5L958.1 971.2L958.6 965.2L959.1 971.3L959.6 967.0L960.1 971.3L960.6 967.2L961.1 971.2L961.6 963.9L962.1 971.2L962.6 964.0L963.1 971.0L963.6 965.1L964.1 971.0L964.6 960.9L965.1 970.9L965.6 959.0L966.1 970.9L966.6 963.2L967.1 971.0L967.6 963.9L968.1 971.0L968.6 964.1L969.1 971.3L969.6 967.9L970.1 971.1L970.6 969.1L971.1 971.2L971.6 966.3L972.1 971.3L972.6 965.9L973.1 971.3L973.6 968.8L974.1 971.2L974.6 966.7L975.1 971.1L975.6 965.5L976.1 971.2L976.6 966.3L977.1 971.3L977.6 966.6L978.1 971.4L978.6 965.5L979.1 971.2L979.6 967.1L980.1 971.1L980.6 967.2L981.1 971.1L981.6 959.2L982.1 971.0L982.6 964.4L983.1 971.1L983.6 964.3L984.1 971.3L984.6 967.9L985.1 971.1L985.6 969.0L986.1 970.9L986.6 969.1L987.1 971.3L987.6 966.7L988.1 971.4L988.6 967.1L989.1 971.1L989.6 966.7L990.1 971.2L990.6 965.9L991.1 971.0L991.6 963.1L992.1 971.1L992.6 962.2L993.1 970.9L993.6 963.1L994.1 971.0L994.6 964.9L995.1 970.9L995.6 965.7L996.1 971.2L996.6 964.9L997.1 971.1L997.6 965.1L998.1 971.2L998.6 964.8L999.1 971.3L999.6 965.3L1000.1 971.3L1000.6 964.3L1001.1 971.3L1001.6 963.3L1002.1 971.1L1002.6 965.2L1003.1 971.4L1003.6 961.3L1004.1 971.0L1004.6 967.1L1005.1 971.4L1005.6 965.6L1006.1 971.4L1006.6 965.6L1007.1 971.3L1007.6 966.9L1008.1 970.9L1008.6 968.2L1009.1 971.3L1009.6 966.5L1010.1 971.2L1010.6 965.5L1011.1 971.3L1011.6 965.3L1012.1 970.9L1012.6 964.4L1013.1 971.1L1013.6 963.1L1014.1 971.1L1014.6 964.2L1015.1 971.2L1015.6 966.8L1016.1 971.1L1016.6 966.0L1017.1 971.4L1017.6 963.5L1018.1 971.4L1018.6 964.4L1019.1 971.4L1019.6 963.8L1020.1 971.3L1020.6 961.4L1021.1 970.9L1021.6 962.8L1022.1 971.0L1022.6 965.6L1023.1 971.3L1023.6 966.1L1024.1 971.0L1024.6 964.3L1025.1 971.0L1025.6 965.8L1026.1 970.9L1026.6 966.6L1027.1 971.2L1027.6 964.0L1028.1 971.3L1028.6 965.1L1029.1 971.3L1029.6 965.6L1030.1 970.9L1030.6 965.5L1031.1 971.3L1031.6 964.1L1032.1 971.0L1032.6 959.2L1033.1 970.9L1033.6 967.0L1034.1 971.1L1034.6 965.5L1035.1 970.8L1035.6 964.8L1036.1 971.0L1036.6 962.8L1037.1 971.2L1037.6 963.5L1038.1 970.9L1038.6 963.0L1039.1 971.0L1039.6 960.7L1040.1 970.7L1040.6 962.1L1041.1 970.8L1041.6 962.7L1042.1 970.8L1042.6 962.9L1043.1 970.8L1043.6 965.1L1044.1 970.2L1044.6 963.9L1045.1 970.3L1045.6 960.3L1046.1 970.3L1046.6 961.6L1047.1 969.9L1047.6 962.9L1048.1 969.7L1048.6 960.3L1049.1 969.4L1049.6 958.3L1050.1 968.7L1050.7 955.4L1051.2 967.7L1051.7 949.2L1052.1 964.1L1052.5 947.8L1052.9 956.1L1053.5 932.7L1054.4 939.6L1054.6 907.6L1054.9 906.8L1055.6 868.8L1056.2 867.9L1056.4 831.5L1057.4 839.7L1057.9 815.3L1058.2 842.3L1058.9 840.1L1059.1 875.5L1059.8 877.8L1060.1 914.4L1060.9 916.1L1061.2 943.3L1061.5 939.2L1062.3 959.3L1062.5 949.9L1063.0 965.1L1063.7 956.4L1064.1 967.7L1064.6 957.0L1065.1 968.7L1065.6 959.7L1066.1 969.3L1066.6 960.4L1067.1 969.7L1067.6 962.5L1068.1 969.7L1068.6 963.2L1069.1 970.2L1069.6 960.0L1070.1 970.3L1070.6 959.3L1071.1 970.2L1071.6 962.2L1072.1 970.8L1072.6 963.1L1073.1 970.5L1073.6 959.2L1074.1 970.9L1074.6 959.8L1075.1 970.5L1075.6 959.6L1076.1 970.7L1076.6 960.2L1077.1 971.0L1077.6 963.5L1078.1 971.1L1078.6 965.0L1079.1 970.8L1079.6 964.4L1080.1 971.1L1080.6 963.2L1081.1 970.8L1081.6 965.9L1082.1 971.2L1082.6 965.9L1083.1 971.3L1083.6 963.8L1084.1 970.8L1084.6 962.3L1085.1 971.1L1085.6 961.1L1086.1 971.2L1086.6 963.6L1087.1 970.9L1087.6 965.5L1088.1 970.9L1088.6 964.1L1089.1 971.1L1089.6 954.7L1090.1 971.2L1090.6 961.6L1091.1 971.1L1091.6 963.6L1092.1 971.1L1092.6 963.3L1093.1 971.0L1093.6 965.2L1094.1 971.1L1094.6 965.0L1095.1 971.0L1095.6 963.7L1096.1 971.0L1096.6 964.3L1097.1 971.2L1097.6 963.7L1098.1 971.4L1098.6 965.5L1099.1 971.3L1099.6 966.9L1100.1 971.4L1100.6 965.6L1101.1 971.0L1101.6 965.4L1102.1 971.3L1102.6 965.9L1103.1 971.0L1103.6 964.0L1104.1 971.2L1104.6 963.6L1105.1 970.9L1105.6 964.8L1106.1 971.4L1106.6 964.5L1107.1 970.9L1107.6 965.1L1108.1 971.4L1108.6 964.8L1109.1 971.2L1109.6 964.4L1110.1 970.9L1110.6 966.1L1111.1 971.1L1111.6 965.7L1112.1 971.2L1112.6 965.0L1113.1 971.2L1113.6 964.8L1114.1 971.0L1114.6 965.5L1115.1 971.0L1115.6 964.9L1116.1 971.0L1116.6 965.9L1117.1 971.4L1117.6 964.9L1118.1 970.9L1118.6 962.0L1119.1 971.2L1119.6 964.6L1120.1 971.1L1120.6 964.7L1121.1 971.3L1121.6 965.8L1122.1 971.1L1122.6 964.2L1123.1 971.2L1123.6 956.5L1124.1 971.3L1124.6 962.4L1125.1 971.0L1125.6 962.5L1126.1 971.4L1126.6 963.4L1127.1 971.2L1127.6 964.8L1128.1 971.1L1128.6 966.6L1129.1 970.9L1129.6 966.4L1130.1 971.0L1130.6 967.0L1131.1 971.2L1131.6 966.6L1132.1 971.3L1132.6 964.1L1133.1 971.4L1133.6 962.3L1134.1 971.0L1134.6 962.1L1135.1 970.9L1135.6 960.1L1136.1 971.3L1136.6 967.1L1137.1 971.2L1137.6 963.9L1138.1 971.1L1138.6 965.0L1139.1 971.1L1139.6 969.0L1140.1 971.2L1140.6 967.2L1141.1 971.1L1141.6 966.6L1142.1 971.4L1142.6 967.5L1143.1 971.1L1143.6 968.0L1144.1 971.2L1144.6 967.2L1145.1 971.1L1145.6 968.0L1146.1 971.4L1146.6 968.3L1147.1 971.4L1147.6 968.2L1148.1 971.2L1148.6 967.7L1149.1 971.0L1149.6 966.0L1150.1 971.3L1150.6 964.5L1151.1 971.4L1151.6 966.2L1152.1 971.3L1152.6 960.3L1153.1 971.1L1153.6 966.4L1154.1 971.1L1154.6 965.6L1155.1 971.2L1155.6 964.0L1156.1 971.0L1156.6 964.3L1157.1 971.1L1157.6 964.5L1158.1 971.3L1158.6 966.4L1159.1 971.2L1159.6 965.9L1160.1 971.1L1160.6 963.3L1161.1 971.2L1161.6 961.8L1162.1 971.0L1162.6 964.5L1163.1 971.2L1163.6 966.2L1164.1 971.0L1164.6 966.9L1165.1 971.2L1165.6 963.3L1166.1 971.3L1166.6 960.5L1167.1 971.0L1167.6 963.6L1168.1 971.4L1168.6 959.4L1169.1 971.1L1169.6 959.4L1170.1 971.4L1170.6 963.8L1171.1 971.0L1171.6 963.6L1172.1 971.0L1172.6 959.0L1173.1 971.3L1173.6 959.5L1174.1 971.2L1174.6 965.7L1175.1 971.0L1175.6 961.5L1176.1 971.3L1176.6 961.2L1177.1 971.2L1177.6 968.4L1178.1 971.0L1178.6 967.8L1179.1 971.4L1179.6 966.5L1180.1 971.4L1180.6 962.1L1181.1 971.0L1181.6 953.3L1182.1 971.3L1182.6 950.1L1183.1 971.1L1183.6 952.8L1184.1 971.3L1184.6 952.5L1185.1 971.0L1185.6 949.3L1186.1 971.0L1186.6 949.8L1187.1 971.4L1187.6 948.4L1188.1 971.4L1188.6 951.9L1189.1 971.3L1189.6 954.0L1190.1 971.3L1190.6 957.7L1191.1 971.4L1191.6 952.7L1192.1 971.1L1192.6 956.6L1193.1 971.0L1193.6 957.6L1194.1 971.1L1194.6 953.5L1195.1 971.3L1195.6 952.7L1196.1 970.9L1196.6 954.3L1197.1 971.2L1197.6 957.6L1198.1 971.1L1198.6 960.5L1199.1 971.2L1199.6 961.2L1200.1 970.9L1200.6 963.7L1201.1 971.3L1201.6 964.3L1202.1 971.2L1202.6 963.9L1203.1 971.1L1203.6 965.7L1204.1 971.2L1204.6 968.5L1205.1 971.1L1205.6 969.6L1206.1 971.3L1206.6 968.0L1207.1 971.2L1207.6 965.6L1208.1 971.0L1208.6 968.3L1209.1 971.4L1209.6 967.9L1210.1 971.4L1210.6 966.0L1211.1 971.1L1211.6 964.6L1212.1 971.0L1212.6 965.4L1213.1 971.4L1213.6 966.9L1214.1 971.1L1214.6 967.1L1215.1 971.0L1215.6 966.1L1216.1 971.1L1216.6 965.0L1217.1 971.1L1217.6 967.0L1218.1 971.2L1218.6 966.0L1219.1 971.1L1219.6 965.4L1220.1 971.2L1220.6 964.7L1221.1 971.2L1221.6 965.0L1222.1 971.3L1222.6 966.0L1223.1 971.4L1223.6 965.6L1224.1 971.3L1224.6 967.5L1225.1 971.3L1225.6 967.6L1226.1 971.3L1226.6 965.1L1227.1 971.2L1227.6 963.8L1228.1 971.0L1228.6 965.1L1229.1 971.1L1229.6 966.5L1230.1 971.3L1230.6 964.2L1231.1 971.1L1231.6 962.0L1232.1 971.1L1232.6 963.0L1233.1 971.3L1233.6 964.7L1234.1 971.0L1234.6 964.0L1235.1 971.3L1235.6 964.4L1236.1 971.2L1236.6 965.1L1237.1 971.3L1237.6 965.9L1238.1 971.2L1238.6 966.4L1239.1 971.0L1239.6 965.8L1240.1 971.1L1240.6 966.7L1241.1 971.3L1241.6 966.3L1242.1 971.4L1242.6 966.3L1243.1 971.2L1243.6 962.2L1244.1 971.2L1244.6 962.9L1245.1 971.1L1245.6 966.6L1246.1 971.4L1246.6 967.9L1247.1 971.2L1247.6 969.8L1248.1 971.0L1248.6 969.8L1249.1 971.3L1249.6 969.5L1250.1 971.3L1250.6 968.2L1251.1 971.0L1251.6 968.1L1252.1 971.1L1252.6 968.4L1253.1 971.3L1253.6 968.3L1254.1 971.1L1254.6 967.7L1255.1 971.2L1255.6 966.8L1256.1 971.0L1256.6 965.7L1257.1 971.0L1257.6 965.6L1258.1 971.2L1258.6 962.2L1259.1 971.3L1259.6 966.5L1260.1 971.4L1260.6 969.6L1261.1 971.0L1261.6 964.1L1262.1 971.1L1262.6 962.2L1263.1 971.4L1263.6 965.0L1264.1 971.2L1264.6 965.3L1265.1 971.2L1265.6 965.5L1266.1 971.2L1266.6 964.3L1267.1 971.2L1267.6 965.9L1268.1 971.1L1268.6 965.2L1269.1 971.2L1269.6 963.9L1270.1 971.4L1270.6 965.3L1271.1 971.2L1271.6 967.0L1272.1 971.1L1272.6 966.5L1273.1 971.2L1273.6 963.5L1274.1 971.2L1274.6 963.6L1275.1 971.2L1275.6 965.5L1276.1 971.3L1276.6 967.2L1277.1 971.1L1277.6 968.2L1278.1 971.1L1278.6 967.6L1279.1 971.1L1279.6 965.9L1280.1 971.3L1280.6 964.7L1281.1 971.1L1281.6 966.8L1282.1 971.3L1282.6 967.7L1283.1 971.2L1283.6 967.0L1284.1 971.3L1284.6 966.9L1285.1 971.4L1285.6 966.5L1286.1 971.1L1286.6 968.4L1287.1 971.4L1287.6 967.9L1288.1 971.1L1288.6 965.7L1289.1 971.1L1289.6 964.9L1290.1 971.2L1290.6 965.4L1291.1 971.4L1291.6 965.0L1292.1 971.3L1292.6 958.9L1293.1 971.1L1293.6 967.3L1294.1 971.1L1294.6 965.6L1295.1 971.1L1295.6 965.3L1296.1 971.1L1296.6 966.1L1297.1 971.2L1297.6 966.7L1298.1 971.3L1298.6 966.7L1299.1 971.3L1299.6 966.5L1300.1 971.2L1300.6 964.3L1301.1 971.2L1301.6 959.0L1302.1 971.2L1302.6 954.4L1303.1 971.4L1303.6 944.2L1304.1 971.1L1304.6 942.0L1305.1 971.4L1305.6 941.4L1306.1 971.3L1306.6 948.7L1307.1 971.3L1307.6 958.8L1308.1 971.3L1308.6 962.8L1309.1 971.3L1309.6 964.7L1310.1 971.3L1310.6 967.1L1311.1 971.2L1311.6 965.5L1312.1 971.0L1312.6 958.8L1313.1 971.3L1313.6 958.9L1314.1 971.0L1314.6 964.3L1315.1 971.3L1315.6 964.1L1316.1 971.3L1316.6 964.9L1317.1 971.0L1317.6 965.8L1318.1 970.9L1318.6 966.0L1319.1 971.0L1319.6 966.7L1320.1 970.9L1320.6 965.4L1321.1 971.1L1321.6 965.5L1322.1 971.1L1322.6 966.6L1323.1 970.8L1323.6 967.4L1324.1 970.8L1324.6 966.8L1325.1 971.0L1325.6 966.0L1326.1 971.0L1326.6 966.1L1327.1 970.8L1327.6 964.5L1328.1 970.4L1328.6 964.8L1329.1 970.2L1329.6 967.0L1330.1 970.3L1330.6 965.5L1331.1 969.8L1331.6 961.4L1332.1 968.2L1332.7 959.2L1333.1 965.2L1333.6 951.8L1334.2 959.1L1334.6 943.1L1335.3 949.0L1335.7 929.6L1335.9 934.8L1336.9 917.0L1337.1 925.2L1337.8 907.4L1337.9 923.8L1338.8 913.7L1339.0 932.5L1339.6 928.9L1340.5 947.0L1340.7 942.1L1341.3 957.8L1341.7 952.9L1342.1 964.5L1342.6 959.4L1343.0 967.8L1343.6 963.4L1344.1 969.4L1344.6 960.8L1345.1 969.8L1345.6 960.4L1346.1 970.4L1346.6 963.7L1347.1 970.4L1347.6 964.2L1348.1 970.3L1348.6 963.6L1349.1 970.4L1349.6 964.0L1350.1 970.8L1350.6 965.2L1351.1 970.7L1351.6 962.1L1352.1 970.5L1352.6 961.5L1353.1 970.8L1353.6 963.1L1354.1 970.4L1354.6 962.5L1355.1 970.7L1355.6 962.5L1356.1 970.6L1356.6 963.3L1357.1 970.6L1357.6 962.9L1358.1 970.3L1358.6 963.8L1359.1 970.1L1359.6 962.2L1360.1 970.2L1360.6 959.7L1361.1 969.9L1361.6 959.4L1362.1 969.5L1362.6 961.5L1363.1 969.2L1363.6 960.8L1364.1 968.7L1364.6 959.9L1365.2 967.5L1365.7 949.5L1366.2 964.4L1366.4 949.1L1367.0 957.1L1367.6 937.1L1368.5 945.0L1368.8 921.7L1368.7 921.0L1369.7 894.1L1370.0 893.5L1371.0 864.7L1370.8 867.2L1372.0 844.6L1372.3 857.3L1372.7 845.1L1372.7 866.7L1374.0 863.6L1374.5 895.0L1374.4 896.1L1374.9 921.6L1375.9 923.4L1376.5 945.0L1376.6 942.2L1377.1 957.5L1377.7 951.4L1378.1 964.2L1378.5 958.3L1379.1 967.1L1379.6 960.2L1380.1 968.6L1380.6 962.7L1381.1 969.1L1381.6 964.6L1382.1 969.7L1382.6 964.8L1383.1 969.9L1383.6 964.4L1384.1 970.2L1384.6 966.5L1385.1 970.5L1385.6 966.0L1386.1 970.6L1386.6 965.7L1387.1 970.4L1387.6 964.5L1388.1 970.6L1388.6 965.5L1389.1 970.7L1389.6 964.4L1390.1 970.8L1390.6 964.0L1391.1 971.0L1391.6 962.7L1392.1 970.8L1392.6 964.0L1393.1 971.1L1393.6 964.7L1394.1 970.8L1394.6 960.0L1395.1 970.9L1395.6 965.8L1396.1 971.2L1396.6 964.8L1397.1 971.2L1397.6 966.5L1398.1 971.2L1398.6 967.6L1399.1 971.3L1399.6 966.2L1400.1 971.1L1400.6 965.9L1401.1 971.1L1401.6 966.3L1402.1 971.1L1402.6 965.2L1403.1 971.3L1403.6 965.2L1404.1 971.0L1404.6 966.6L1405.1 971.3L1405.6 967.1L1406.1 971.2L1406.6 965.7L1407.1 971.1L1407.6 965.4L1408.1 971.1L1408.6 966.8L1409.1 971.1L1409.6 967.4L1410.1 971.3L1410.6 967.4L1411.1 971.2L1411.6 968.1L1412.1 971.4L1412.6 968.6L1413.1 971.3L1413.6 967.9L1414.1 971.3L1414.6 961.7L1415.1 971.3L1415.6 965.0L1416.1 971.2L1416.6 965.0L1417.1 971.1L1417.6 963.4L1418.1 971.2L1418.6 965.4L1419.1 971.3L1419.6 965.3L1420.1 971.1L1420.6 963.1L1421.1 971.1L1421.6 963.7L1422.1 971.3L1422.6 966.9L1423.1 971.3L1423.6 967.2L1424.1 971.3L1424.6 967.0L1425.1 971.2L1425.6 967.9L1426.1 971.3L1426.6 967.8L1427.1 971.2L1427.6 966.9L1428.1 971.3L1428.6 965.3L1429.1 971.3L1429.6 968.2L1430.1 971.1L1430.6 967.1L1431.1 971.1L1431.6 963.6L1432.1 971.4L1432.6 963.5L1433.1 971.3L1433.6 969.5L1434.1 971.1L1434.6 967.8L1435.1 971.3L1435.6 962.7L1436.1 971.2L1436.6 967.4L1437.1 971.3L1437.6 965.8L1438.1 971.1L1438.6 967.5L1439.1 971.4L1439.6 967.8L1440.1 971.1L1440.6 967.1L1441.1 971.2L1441.6 967.8L1442.1 971.4L1442.6 968.5L1443.1 971.2L1443.6 967.8L1444.1 971.2L1444.6 966.0L1445.1 971.2L1445.6 963.2L1446.1 971.1L1446.6 963.5L1447.1 971.2L1447.6 965.6L1448.1 971.3L1448.6 966.4L1449.1 971.3L1449.6 967.2L1450.1 971.2L1450.6 966.6L1451.1 971.1L1451.6 967.1L1452.1 971.0L1452.6 965.7L1453.1 971.3L1453.6 966.6L1454.1 971.1L1454.6 968.6L1455.1 971.1L1455.6 967.4L1456.1 971.1L1456.6 966.1L1457.1 971.1L1457.6 965.2L1458.1 971.2L1458.6 967.8L1459.1 971.1L1459.6 966.2L1460.1 971.1L1460.6 967.0L1461.1 971.3L1461.6 967.1L1462.1 971.2L1462.6 967.9L1463.1 971.1L1463.6 966.7L1464.1 971.1L1464.6 966.4L1465.1 971.3L1465.6 967.5L1466.1 971.1L1466.6 966.2L1467.1 971.3L1467.6 967.7L1468.1 971.1L1468.6 967.8L1469.1 971.1L1469.6 968.3L1470.1 971.2L1470.6 969.4L1471.1 971.3L1471.6 968.2L1472.1 971.3L1472.6 968.5L1473.1 971.2L1473.6 969.5L1474.1 971.3L1474.6 969.6L1475.1 971.2L1475.6 968.3L1476.1 971.2L1476.6 962.4L1477.1 971.1L1477.6 961.0L1478.1 971.4L1478.6 964.9L1479.1 971.3L1479.6 965.0L1480.1 971.4L1480.6 967.0L1481.1 971.4L1481.6 968.0L1482.1 971.1L1482.6 966.4L1483.1 971.1L1483.6 967.2L1484.1 971.1L1484.6 967.2L1485.1 971.4L1485.6 966.6L1486.1 971.4L1486.6 965.8L1487.1 971.1L1487.6 966.3L1488.1 971.3L1488.6 967.6L1489.1 971.3L1489.6 967.2L1490.1 971.1L1490.6 967.4L1491.1 971.4L1491.6 967.3L1492.1 971.2L1492.6 966.2L1493.1 971.4L1493.6 966.4L1494.1 971.2L1494.6 967.3L1495.1 971.3L1495.6 967.3L1496.1 971.2L1496.6 964.5L1497.1 971.1L1497.6 966.1L1498.1 971.1L1498.6 966.3L1499.1 971.4L1499.6 967.5L1500.1 971.4L1500.6 968.4L1501.1 971.3L1501.6 967.8L1502.1 971.2L1502.6 967.2L1503.1 971.3L1503.6 966.7L1504.1 971.2L1504.6 966.8L1505.1 971.3L1505.6 966.3L1506.1 971.3L1506.6 966.6L1507.1 971.1L1507.6 966.6L1508.1 971.2L1508.6 968.4L1509.1 971.2L1509.6 968.4L1510.1 971.4L1510.6 967.6L1511.1 971.2L1511.6 966.5L1512.1 971.3L1512.6 964.1L1513.1 971.3L1513.6 960.7L1514.1 971.2L1514.6 961.8L1515.1 971.2L1515.6 962.9L1516.1 971.2L1516.6 960.8L1517.1 971.1L1517.6 963.4L1518.1 971.1L1518.6 964.7L1519.1 971.2L1519.6 963.4L1520.1 971.1L1520.6 965.0L1521.1 971.2L1521.6 966.6L1522.1 971.2L1522.6 966.8L1523.1 971.4L1523.6 967.0L1524.1 971.3L1524.6 967.5L1525.1 971.3L1525.6 966.6L1526.1 971.1L1526.6 965.5L1527.1 971.3L1527.6 966.4L1528.1 971.3L1528.6 967.1L1529.1 971.1L1529.6 966.3L1530.1 971.3L1530.6 965.3L1531.1 971.3L1531.6 965.4L1532.1 971.4L1532.6 964.9L1533.1 971.1L1533.6 965.7L1534.1 971.1L1534.6 966.4L1535.1 971.2L1535.6 967.9L1536.1 971.1L1536.6 968.9L1537.1 971.1L1537.6 967.5L1538.1 971.3L1538.6 967.7L1539.1 971.3L1539.6 967.4L1540.1 971.2L1540.6 966.1L1541.1 971.1L1541.6 963.4L1542.1 971.2L1542.6 963.8L1543.1 971.2L1543.6 963.9L1544.1 971.3L1544.6 960.8L1545.1 971.4L1545.6 958.9L1546.1 971.4L1546.6 956.4L1547.1 971.2L1547.6 959.0L1548.1 971.2L1548.6 957.4L1549.1 971.2L1549.6 962.8L1550.1 971.3L1550.6 964.8L1551.1 971.1L1551.6 967.0L1552.1 971.2L1552.6 966.8L1553.1 971.1L1553.6 966.6L1554.1 971.4L1554.6 967.6L1555.1 971.2L1555.6 968.0L1556.1 971.3L1556.6 967.3L1557.1 971.3L1557.6 967.4L1558.1 971.1L1558.6 966.1L1559.1 971.2L1559.6 965.0L1560.1 971.3L1560.6 964.8L1561.1 971.3L1561.6 962.1L1562.1 971.1L1562.6 960.5L1563.1 971.3L1563.6 960.8L1564.1 971.4L1564.6 960.7L1565.1 971.4L1565.6 958.9L1566.1 971.3L1566.6 958.5L1567.1 971.2L1567.6 960.7L1568.1 971.4L1568.6 961.5L1569.1 971.3L1569.6 965.3L1570.1 971.2L1570.6 968.2L1571.1 971.1L1571.6 968.8L1572.1 971.2L1572.6 964.7L1573.1 971.2L1573.6 969.4L1574.1 971.3L1574.6 963.9L1575.1 971.1L1575.6 962.1L1576.1 971.1L1576.6 967.1L1577.1 971.3L1577.6 966.5L1578.1 971.1L1578.6 968.0L1579.1 971.4L1579.6 969.6L1580.1 971.3L1580.6 969.1L1581.1 971.3L1581.6 968.8L1582.1 971.3L1582.6 968.9L1583.1 971.4L1583.6 969.4L1584.1 971.4L1584.6 967.6L1585.1 971.2L1585.6 968.0L1586.1 971.3L1586.6 968.8L1587.1 971.3L1587.6 966.8L1588.1 971.2L1588.6 968.5L1589.1 971.3L1589.6 968.5L1590.1 971.2L1590.6 967.9L1591.1 971.2L1591.6 966.9L1592.1 971.3L1592.6 965.9L1593.1 971.4L1593.6 967.4L1594.1 971.1L1594.6 967.2L1595.1 971.4L1595.6 966.9L1596.1 971.2L1596.6 966.6L1597.1 971.4L1597.6 966.0L1598.1 971.3L1598.6 967.1L1599.1 971.2L1599.6 966.8L1600.1 971.3L1600.6 967.0L1601.1 971.2L1601.6 967.5L1602.1 971.4L1602.6 966.5L1603.1 971.3L1603.6 966.0"/>
<path stroke="#7D3C0C" stroke-width="3.4" d="M115.1 865.0L115.6 855.9L116.1 865.3L116.6 854.8L117.1 865.1L117.6 854.8L118.1 865.0L118.6 857.3L119.1 865.4L119.6 850.7L120.1 865.3L120.6 851.9L121.1 865.2L121.6 849.8L122.1 865.4L122.6 857.0L123.1 865.3L123.6 859.1L124.1 865.0L124.6 858.2L125.1 865.1L125.6 855.5L126.1 865.0L126.6 858.6L127.1 865.4L127.6 859.9L128.1 865.2L128.6 861.9L129.1 865.2L129.6 863.4L130.1 865.4L130.6 862.9L131.1 865.3L131.6 861.3L132.1 865.0L132.6 860.9L133.1 865.4L133.6 863.1L134.1 865.2L134.6 861.5L135.1 864.9L135.6 853.5L136.1 865.2L136.6 860.2L137.1 865.0L137.6 862.8L138.1 865.4L138.6 858.5L139.1 865.0L139.6 857.7L140.1 865.3L140.6 862.0L141.1 865.1L141.6 858.8L142.1 865.1L142.6 858.3L143.1 865.4L143.6 861.3L144.1 865.2L144.6 862.4L145.1 865.1L145.6 859.8L146.1 865.0L146.6 859.1L147.1 865.3L147.6 860.6L148.1 865.3L148.6 853.8L149.1 865.4L149.6 859.4L150.1 865.4L150.6 859.1L151.1 865.0L151.6 858.3L152.1 865.1L152.6 857.9L153.1 865.3L153.6 857.5L154.1 865.4L154.6 857.7L155.1 865.3L155.6 856.7L156.1 865.3L156.6 859.1L157.1 864.9L157.6 860.2L158.1 865.4L158.6 860.1L159.1 865.3L159.6 859.9L160.1 865.1L160.6 859.7L161.1 865.3L161.6 857.3L162.1 865.1L162.6 853.8L163.1 865.0L163.6 853.8L164.1 865.2L164.6 853.9L165.1 865.2L165.6 853.4L166.1 864.9L166.6 849.8L167.1 865.0L167.6 851.2L168.1 865.2L168.6 860.2L169.1 865.0L169.6 860.1L170.1 865.4L170.6 857.7L171.1 864.9L171.6 856.2L172.1 865.0L172.6 857.8L173.1 865.4L173.6 858.6L174.1 865.2L174.6 856.1L175.1 865.4L175.6 859.0L176.1 865.0L176.6 859.0L177.1 864.9L177.6 858.1L178.1 865.1L178.6 859.3L179.1 864.9L179.6 861.6L180.1 865.4L180.6 859.7L181.1 865.2L181.6 856.8L182.1 865.1L182.6 857.8L183.1 865.4L183.6 858.8L184.1 865.2L184.6 860.0L185.1 865.0L185.6 858.4L186.1 864.9L186.6 859.2L187.1 865.4L187.6 862.2L188.1 865.3L188.6 862.2L189.1 865.2L189.6 862.8L190.1 865.3L190.6 861.6L191.1 865.3L191.6 860.6L192.1 865.1L192.6 861.3L193.1 865.0L193.6 861.6L194.1 865.0L194.6 861.3L195.1 865.0L195.6 862.2L196.1 865.2L196.6 862.3L197.1 865.1L197.6 860.6L198.1 865.1L198.6 859.7L199.1 865.4L199.6 859.0L200.1 865.1L200.6 858.8L201.1 865.2L201.6 860.5L202.1 865.1L202.6 858.7L203.1 865.0L203.6 859.7L204.1 865.0L204.6 861.0L205.1 865.2L205.6 859.3L206.1 865.3L206.6 856.4L207.1 865.1L207.6 854.4L208.1 865.2L208.6 858.0L209.1 865.1L209.6 861.1L210.1 865.4L210.6 859.5L211.1 865.3L211.6 858.6L212.1 865.4L212.6 857.1L213.1 865.4L213.6 858.1L214.1 865.4L214.6 858.1L215.1 865.2L215.6 856.8L216.1 865.4L216.6 856.9L217.1 865.2L217.6 857.5L218.1 865.3L218.6 860.7L219.1 864.9L219.6 861.3L220.1 865.2L220.6 863.0L221.1 865.3L221.6 858.5L222.1 865.4L222.6 861.1L223.1 864.9L223.6 859.4L224.1 865.2L224.6 858.8L225.1 865.4L225.6 861.6L226.1 865.3L226.6 850.9L227.1 865.4L227.6 849.0L228.1 865.0L228.6 855.8L229.1 865.0L229.6 855.5L230.1 865.0L230.6 856.7L231.1 865.0L231.6 858.0L232.1 865.2L232.6 859.7L233.1 865.3L233.6 859.6L234.1 865.0L234.6 860.5L235.1 865.4L235.6 859.2L236.1 865.4L236.6 857.1L237.1 864.9L237.6 858.5L238.1 865.4L238.6 857.5L239.1 865.4L239.6 849.8L240.1 865.1L240.6 857.2L241.1 865.1L241.6 859.6L242.1 865.1L242.6 858.5L243.1 865.2L243.6 858.1L244.1 865.2L244.6 857.7L245.1 865.2L245.6 851.0L246.1 865.3L246.6 852.3L247.1 865.3L247.6 859.0L248.1 865.1L248.6 858.4L249.1 865.2L249.6 852.8L250.1 865.3L250.6 857.4L251.1 865.3L251.6 853.5L252.1 865.4L252.6 858.3L253.1 865.2L253.6 859.2L254.1 865.4L254.6 857.5L255.1 864.9L255.6 857.7L256.1 865.1L256.6 860.4L257.1 865.1L257.6 860.8L258.1 865.3L258.6 860.4L259.1 865.3L259.6 860.0L260.1 865.4L260.6 860.6L261.1 865.1L261.6 859.8L262.1 865.1L262.6 860.2L263.1 865.1L263.6 861.1L264.1 865.3L264.6 862.0L265.1 865.1L265.6 858.7L266.1 865.0L266.6 858.2L267.1 865.0L267.6 856.5L268.1 865.4L268.6 858.8L269.1 865.2L269.6 853.9L270.1 865.4L270.6 859.9L271.1 865.3L271.6 860.4L272.1 865.0L272.6 859.7L273.1 865.0L273.6 859.2L274.1 865.4L274.6 859.1L275.1 865.3L275.6 862.9L276.1 865.1L276.6 862.8L277.1 865.1L277.6 860.7L278.1 865.0L278.6 851.1L279.1 865.4L279.6 850.1L280.1 865.2L280.6 859.0L281.1 864.9L281.6 860.4L282.1 865.4L282.6 856.6L283.1 865.1L283.6 856.3L284.1 865.4L284.6 858.9L285.1 865.1L285.6 858.7L286.1 865.4L286.6 852.1L287.1 865.3L287.6 854.5L288.1 865.4L288.6 856.8L289.1 865.0L289.6 857.0L290.1 865.0L290.6 852.9L291.1 865.3L291.6 854.3L292.1 865.2L292.6 856.0L293.1 864.9L293.6 857.1L294.1 865.4L294.6 859.2L295.1 865.1L295.6 858.1L296.1 865.0L296.6 855.9L297.1 864.9L297.6 860.4L298.1 865.3L298.6 861.1L299.1 865.1L299.6 859.6L300.1 864.9L300.6 860.0L301.1 865.2L301.6 859.1L302.1 865.0L302.6 861.5L303.1 865.1L303.6 861.7L304.1 865.3L304.6 860.2L305.1 865.3L305.6 859.9L306.1 865.1L306.6 858.3L307.1 865.3L307.6 858.4L308.1 865.1L308.6 849.9L309.1 865.2L309.6 859.1L310.1 865.3L310.6 859.1L311.1 865.4L311.6 848.0L312.1 865.2L312.6 848.3L313.1 865.4L313.6 857.7L314.1 864.9L314.6 859.7L315.1 864.9L315.6 861.5L316.1 865.1L316.6 856.8L317.1 865.1L317.6 863.0L318.1 865.4L318.6 862.5L319.1 865.3L319.6 860.7L320.1 865.0L320.6 860.5L321.1 865.1L321.6 857.6L322.1 865.1L322.6 856.1L323.1 865.1L323.6 857.8L324.1 865.4L324.6 857.6L325.1 865.1L325.6 857.1L326.1 865.3L326.6 857.3L327.1 865.4L327.6 858.1L328.1 865.0L328.6 850.1L329.1 865.0L329.6 855.4L330.1 865.0L330.6 855.0L331.1 865.3L331.6 856.0L332.1 865.3L332.6 857.8L333.1 865.4L333.6 859.9L334.1 865.4L334.6 859.5L335.1 865.2L335.6 860.2L336.1 864.9L336.6 861.4L337.1 865.2L337.6 862.2L338.1 865.2L338.6 859.3L339.1 865.3L339.6 857.3L340.1 865.2L340.6 855.4L341.1 865.3L341.6 857.2L342.1 864.9L342.6 858.8L343.1 865.4L343.6 856.8L344.1 865.2L344.6 858.1L345.1 865.3L345.6 859.9L346.1 865.2L346.6 858.8L347.1 864.9L347.6 858.6L348.1 865.3L348.6 860.1L349.1 865.3L349.6 861.7L350.1 865.1L350.6 860.7L351.1 865.3L351.6 858.5L352.1 865.4L352.6 860.4L353.1 865.0L353.6 852.3L354.1 865.3L354.6 859.0L355.1 865.4L355.6 860.4L356.1 865.4L356.6 853.4L357.1 865.1L357.6 853.2L358.1 865.2L358.6 856.8L359.1 865.1L359.6 858.5L360.1 865.3L360.6 858.5L361.1 865.2L361.6 857.8L362.1 865.0L362.6 858.7L363.1 865.3L363.6 857.3L364.1 865.1L364.6 856.1L365.1 865.4L365.6 849.7L366.1 865.0L366.6 850.3L367.1 865.2L367.6 856.4L368.1 865.0L368.6 858.6L369.1 864.9L369.6 860.0L370.1 865.3L370.6 857.1L371.1 865.1L371.6 857.2L372.1 865.0L372.6 858.1L373.1 865.3L373.6 859.1L374.1 865.2L374.6 857.0L375.1 865.4L375.6 859.5L376.1 865.3L376.6 859.7L377.1 865.1L377.6 856.7L378.1 865.1L378.6 852.0L379.1 865.0L379.6 859.9L380.1 865.1L380.6 860.3L381.1 865.3L381.6 854.3L382.1 865.4L382.6 859.9L383.1 865.0L383.6 858.8L384.1 865.2L384.6 856.9L385.1 865.3L385.6 859.5L386.1 865.2L386.6 853.5L387.1 865.3L387.6 856.3L388.1 865.4L388.6 856.9L389.1 865.2L389.6 860.4L390.1 865.4L390.6 862.5L391.1 865.1L391.6 860.8L392.1 864.9L392.6 860.4L393.1 865.3L393.6 858.4L394.1 865.2L394.6 858.3L395.1 865.2L395.6 853.3L396.1 865.3L396.6 855.6L397.1 865.1L397.6 856.4L398.1 865.2L398.6 861.7L399.1 865.2L399.6 861.9L400.1 865.0L400.6 860.7L401.1 865.3L401.6 859.7L402.1 865.0L402.6 859.4L403.1 865.2L403.6 858.7L404.1 865.0L404.6 859.3L405.1 865.4L405.6 859.1L406.1 865.3L406.6 860.2L407.1 865.2L407.6 859.5L408.1 865.4L408.6 858.4L409.1 865.0L409.6 859.2L410.1 865.1L410.6 857.1L411.1 865.0L411.6 855.2L412.1 865.1L412.6 856.2L413.1 865.0L413.6 857.1L414.1 865.4L414.6 856.7L415.1 865.3L415.6 856.1L416.1 865.0L416.6 857.6L417.1 865.1L417.6 859.5L418.1 865.4L418.6 854.2L419.1 865.4L419.6 861.3L420.1 865.0L420.6 860.2L421.1 865.0L421.6 858.6L422.1 865.1L422.6 858.2L423.1 865.0L423.6 862.1L424.1 865.3L424.6 860.2L425.1 865.4L425.6 859.7L426.1 865.4L426.6 859.5L427.1 865.4L427.6 858.3L428.1 865.3L428.6 859.0L429.1 865.0L429.6 858.9L430.1 865.4L430.6 853.7L431.1 865.1L431.6 853.8L432.1 865.1L432.6 858.7L433.1 865.1L433.6 857.3L434.1 865.3L434.6 860.1L435.1 865.4L435.6 853.8L436.1 865.3L436.6 861.0L437.1 865.0L437.6 858.9L438.1 865.2L438.6 859.7L439.1 865.4L439.6 860.0L440.1 865.4L440.6 860.0L441.1 865.2L441.6 861.5L442.1 865.1L442.6 861.6L443.1 865.0L443.6 860.5L444.1 865.3L444.6 857.9L445.1 865.4L445.6 859.0L446.1 865.4L446.6 858.7L447.1 865.2L447.6 857.6L448.1 865.2L448.6 860.3L449.1 865.3L449.6 853.9L450.1 865.3L450.6 855.1L451.1 865.3L451.6 849.1L452.1 865.0L452.6 858.9L453.1 865.3L453.6 858.6L454.1 865.1L454.6 859.4L455.1 865.1L455.6 859.9L456.1 865.2L456.6 857.6L457.1 865.4L457.6 859.2L458.1 865.0L458.6 860.2L459.1 865.1L459.6 857.2L460.1 865.2L460.6 854.5L461.1 865.4L461.6 854.5L462.1 865.1L462.6 856.5L463.1 865.0L463.6 857.3L464.1 865.0L464.6 860.2L465.1 865.4L465.6 860.8L466.1 865.4L466.6 859.4L467.1 865.0L467.6 860.1L468.1 865.3L468.6 862.1L469.1 865.0L469.6 862.7L470.1 865.1L470.6 855.4L471.1 865.3L471.6 858.9L472.1 865.1L472.6 858.1L473.1 865.2L473.6 858.8L474.1 865.0L474.6 859.8L475.1 865.3L475.6 859.0L476.1 865.2L476.6 859.1L477.1 865.3L477.6 859.6L478.1 865.2L478.6 858.6L479.1 865.3L479.6 859.1L480.1 865.0L480.6 860.7L481.1 865.2L481.6 858.3L482.1 865.1L482.6 858.5L483.1 865.0L483.6 858.8L484.1 865.3L484.6 857.9L485.1 865.0L485.6 858.3L486.1 865.1L486.6 858.5L487.1 865.3L487.6 859.2L488.1 865.0L488.6 859.8L489.1 865.0L489.6 861.9L490.1 865.0L490.6 861.2L491.1 865.4L491.6 858.7L492.1 865.0L492.6 860.1L493.1 865.1L493.6 859.6L494.1 865.4L494.6 858.2L495.1 865.3L495.6 859.2L496.1 865.0L496.6 859.9L497.1 865.2L497.6 859.3L498.1 865.1L498.6 861.3L499.1 865.0L499.6 861.3L500.1 865.3L500.6 861.3L501.1 865.4L501.6 861.1L502.1 865.2L502.6 860.1L503.1 865.3L503.6 859.7L504.1 865.2L504.6 857.5L505.1 865.1L505.6 858.3L506.1 865.4L506.6 858.6L507.1 865.0L507.6 856.8L508.1 865.4L508.6 856.4L509.1 865.4L509.6 860.6L510.1 865.1L510.6 861.9L511.1 865.0L511.6 859.5L512.1 865.4L512.6 858.8L513.1 865.1L513.6 859.4L514.1 865.2L514.6 855.7L515.1 865.2L515.6 859.0L516.1 865.1L516.6 859.0L517.1 865.0L517.6 859.1L518.1 865.2L518.6 857.6L519.1 865.2L519.6 859.5L520.1 865.2L520.6 858.3L521.1 865.3L521.6 860.3L522.1 865.3L522.6 861.4L523.1 865.3L523.6 860.5L524.1 865.1L524.6 859.8L525.1 865.0L525.6 859.8L526.1 865.1L526.6 856.0L527.1 865.2L527.6 861.0L528.1 865.3L528.6 861.4L529.1 865.2L529.6 861.5L530.1 865.3L530.6 862.1L531.1 865.3L531.6 860.0L532.1 865.3L532.6 859.4L533.1 865.4L533.6 852.9L534.1 865.2L534.6 851.8L535.1 865.0L535.6 857.7L536.1 865.0L536.6 860.5L537.1 865.3L537.6 855.6L538.1 865.2L538.6 859.0L539.1 865.1L539.6 860.0L540.1 865.4L540.6 861.0L541.1 865.2L541.6 861.0L542.1 865.3L542.6 855.9L543.1 865.1L543.6 860.4L544.1 865.0L544.6 861.5L545.1 865.0L545.6 860.1L546.1 865.2L546.6 860.9L547.1 865.4L547.6 860.9L548.1 865.4L548.6 861.4L549.1 865.0L549.6 861.0L550.1 865.4L550.6 860.9L551.1 865.4L551.6 860.7L552.1 865.2L552.6 859.7L553.1 865.0L553.6 852.9L554.1 865.0L554.6 852.1L555.1 865.3L555.6 858.6L556.1 865.2L556.6 858.0L557.1 865.2L557.6 859.2L558.1 865.0L558.6 861.9L559.1 865.3L559.6 862.7L560.1 865.0L560.6 861.4L561.1 865.2L561.6 862.5L562.1 865.2L562.6 862.5L563.1 865.4L563.6 861.6L564.1 865.3L564.6 860.7L565.1 865.3L565.6 858.7L566.1 865.1L566.6 860.6L567.1 865.1L567.6 860.3L568.1 865.0L568.6 860.4L569.1 865.3L569.6 861.6L570.1 865.0L570.6 860.8L571.1 865.2L571.6 860.1L572.1 865.3L572.6 861.1L573.1 865.1L573.6 860.6L574.1 865.1L574.6 859.7L575.1 865.3L575.6 862.1L576.1 865.0L576.6 861.2L577.1 865.2L577.6 859.9L578.1 865.0L578.6 852.3L579.1 865.0L579.6 859.7L580.1 865.4L580.6 851.5L581.1 865.4L581.6 851.3L582.1 865.1L582.6 858.6L583.1 865.4L583.6 859.3L584.1 865.3L584.6 861.4L585.1 865.1L585.6 860.5L586.1 865.1L586.6 859.7L587.1 865.0L587.6 859.4L588.1 865.3L588.6 858.8L589.1 865.1L589.6 860.8L590.1 865.0L590.6 862.2L591.1 865.0L591.6 860.6L592.1 865.3L592.6 859.3L593.1 865.1L593.6 859.2L594.1 865.4L594.6 859.8L595.1 865.3L595.6 857.3L596.1 865.3L596.6 856.5L597.1 865.4L597.6 859.9L598.1 865.2L598.6 860.7L599.1 865.3L599.6 861.0L600.1 865.2L600.6 858.5L601.1 865.0L601.6 855.8L602.1 865.0L602.6 856.7L603.1 865.1L603.6 858.4L604.1 865.3L604.6 860.9L605.1 865.3L605.6 861.7L606.1 865.0L606.6 860.5L607.1 865.1L607.6 860.6L608.1 865.1L608.6 861.7L609.1 865.2L609.6 860.5L610.1 865.3L610.6 858.6L611.1 865.4L611.6 853.3L612.1 865.4L612.6 853.8L613.1 865.1L613.6 861.2L614.1 865.1L614.6 863.1L615.1 865.3L615.6 855.8L616.1 865.4L616.6 860.4L617.1 865.4L617.6 859.5L618.1 865.1L618.6 859.4L619.1 865.3L619.6 860.4L620.1 865.0L620.6 860.2L621.1 865.2L621.6 859.8L622.1 865.3L622.6 859.1L623.1 865.2L623.6 858.2L624.1 865.3L624.6 857.0L625.1 865.4L625.6 851.4L626.1 865.2L626.6 852.4L627.1 865.4L627.6 860.1L628.1 865.1L628.6 862.7L629.1 865.4L629.6 861.1L630.1 865.1L630.6 860.1L631.1 865.1L631.6 859.5L632.1 865.1L632.6 859.7L633.1 865.2L633.6 859.9L634.1 865.1L634.6 861.2L635.1 865.3L635.6 860.5L636.1 865.2L636.6 857.5L637.1 865.2L637.6 858.1L638.1 865.3L638.6 858.3L639.1 865.4L639.6 858.4L640.1 865.4L640.6 860.1L641.1 865.4L641.6 859.0L642.1 865.1L642.6 858.7L643.1 865.1L643.6 859.3L644.1 865.3L644.6 858.8L645.1 865.1L645.6 859.7L646.1 865.1L646.6 861.0L647.1 865.1L647.6 861.3L648.1 865.3L648.6 861.4L649.1 865.2L649.6 859.3L650.1 865.3L650.6 860.8L651.1 865.2L651.6 861.5L652.1 865.3L652.6 858.8L653.1 865.1L653.6 858.5L654.1 865.1L654.6 859.0L655.1 865.4L655.6 859.6L656.1 865.4L656.6 858.0L657.1 865.2L657.6 858.6L658.1 865.2L658.6 860.9L659.1 865.3L659.6 859.6L660.1 865.4L660.6 858.7L661.1 865.2L661.6 858.6L662.1 865.4L662.6 859.9L663.1 865.2L663.6 860.2L664.1 865.1L664.6 860.5L665.1 865.0L665.6 853.7L666.1 865.4L666.6 854.2L667.1 865.3L667.6 859.8L668.1 865.1L668.6 860.7L669.1 865.2L669.6 861.7L670.1 865.2L670.6 860.6L671.1 865.2L671.6 860.3L672.1 865.1L672.6 858.1L673.1 865.2L673.6 858.1L674.1 865.1L674.6 858.9L675.1 865.1L675.6 858.1L676.1 865.4L676.6 859.1L677.1 865.3L677.6 861.4L678.1 865.2L678.6 861.3L679.1 865.0L679.6 861.0L680.1 865.4L680.6 861.6L681.1 865.2L681.6 855.8L682.1 865.0L682.6 862.2L683.1 865.2L683.6 862.0L684.1 865.4L684.6 860.8L685.1 865.2L685.6 860.9L686.1 865.2L686.6 861.7L687.1 865.3L687.6 861.7L688.1 865.3L688.6 860.8L689.1 865.4L689.6 861.2L690.1 865.1L690.6 860.6L691.1 865.1L691.6 860.5L692.1 865.0L692.6 857.8L693.1 865.4L693.6 862.7L694.1 865.2L694.6 863.3L695.1 865.1L695.6 862.7L696.1 865.1L696.6 862.5L697.1 865.2L697.6 861.8L698.1 865.1L698.6 862.6L699.1 865.3L699.6 862.5L700.1 865.2L700.6 862.0L701.1 865.3L701.6 862.5L702.1 865.0L702.6 862.2L703.1 865.1L703.6 860.7L704.1 865.4L704.6 860.8L705.1 865.2L705.6 861.7L706.1 865.2L706.6 862.5L707.1 864.9L707.6 862.0L708.1 864.0L708.5 852.9L709.1 861.3L709.4 854.0L710.2 855.4L710.5 846.8L710.5 842.2L712.1 834.8L712.9 829.6L711.9 811.5L713.0 809.2L713.1 796.7L713.5 796.1L713.7 790.1L715.2 797.1L716.0 799.2L715.3 803.2L716.4 808.3L717.1 816.7L718.3 818.3L718.3 822.1L718.4 815.3L720.0 818.5L720.1 807.2L720.6 803.9L721.0 793.9L721.8 791.1L720.9 780.8L722.0 783.0L723.1 783.7L723.2 787.7L723.1 787.5L725.0 800.4L725.0 800.2L725.0 808.6L726.0 809.9L725.6 814.1L727.0 812.0L727.7 819.3L727.4 810.2L729.0 820.4L729.2 815.6L729.5 820.1L728.8 816.8L730.6 823.6L731.3 824.1L730.9 825.5L731.8 824.9L732.7 832.1L733.0 829.9L732.3 832.6L732.8 832.5L735.0 843.1L734.3 839.7L734.4 845.7L735.3 845.6L736.6 855.7L736.8 853.8L737.2 860.0L737.7 850.6L738.1 863.1L738.6 851.4L739.1 864.6L739.6 859.6L740.1 865.1L740.6 860.1L741.1 865.3L741.6 862.0L742.1 865.4L742.6 862.6L743.1 865.2L743.6 859.2L744.1 865.2L744.6 860.4L745.1 865.4L745.6 862.9L746.1 865.3L746.6 862.3L747.1 865.3L747.6 862.2L748.1 865.3L748.6 861.7L749.1 865.3L749.6 861.7L750.1 865.4L750.6 862.7L751.1 865.3L751.6 863.4L752.1 865.3L752.6 863.4L753.1 865.3L753.6 862.9L754.1 865.3L754.6 862.8L755.1 865.2L755.6 863.2L756.1 865.2L756.6 863.1L757.1 865.4L757.6 862.8L758.1 865.2L758.6 862.1L759.1 865.4L759.6 860.5L760.1 865.2L760.6 861.3L761.1 865.4L761.6 862.6L762.1 865.4L762.6 861.2L763.1 865.2L763.6 861.2L764.1 865.4L764.6 862.8L765.1 865.3L765.6 862.0L766.1 865.4L766.6 861.3L767.1 865.4L767.6 853.7L768.1 865.2L768.6 860.2L769.1 865.2L769.6 860.4L770.1 865.4L770.6 861.1L771.1 865.4L771.6 860.8L772.1 865.2L772.6 860.5L773.1 865.3L773.6 861.2L774.1 865.3L774.6 861.6L775.1 865.3L775.6 860.6L776.1 865.3L776.6 861.1L777.1 865.4L777.6 858.7L778.1 865.2L778.6 861.6L779.1 865.4L779.6 862.3L780.1 865.2L780.6 862.0L781.1 865.2L781.6 862.2L782.1 865.2L782.6 862.6L783.1 865.3L783.6 861.4L784.1 865.3L784.6 861.4L785.1 865.4L785.6 862.8L786.1 865.3L786.6 861.6L787.1 865.3L787.6 860.7L788.1 865.2L788.6 861.0L789.1 865.2L789.6 861.4L790.1 865.4L790.6 861.6L791.1 865.4L791.6 856.3L792.1 865.2L792.6 862.3L793.1 865.4L793.6 861.4L794.1 865.4L794.6 854.9L795.1 865.4L795.6 858.9L796.1 865.4L796.6 859.8L797.1 865.4L797.6 862.3L798.1 865.4L798.6 860.3L799.1 865.4L799.6 860.5L800.1 865.1L800.6 862.7L801.1 865.4L801.6 861.5L802.1 865.2L802.6 861.2L803.1 865.4L803.6 863.0L804.1 865.1L804.6 862.6L805.1 865.1L805.6 862.3L806.1 865.3L806.6 863.7L807.1 865.4L807.6 862.8L808.1 865.1L808.6 863.6L809.1 865.2L809.6 862.2L810.1 865.2L810.6 861.3L811.1 865.2L811.6 860.9L812.1 865.3L812.6 860.9L813.1 865.4L813.6 861.3L814.1 865.3L814.6 853.7L815.1 865.1L815.6 860.5L816.1 865.1L816.6 856.7L817.1 865.3L817.6 861.3L818.1 865.4L818.6 861.7L819.1 865.2L819.6 859.8L820.1 865.1L820.6 860.3L821.1 865.2L821.6 862.4L822.1 865.2L822.6 862.8L823.1 865.1L823.6 861.9L824.1 865.4L824.6 862.2L825.1 865.4L825.6 860.8L826.1 865.4L826.6 857.8L827.1 865.3L827.6 858.4L828.1 865.1L828.6 857.9L829.1 865.0L829.6 858.1L830.1 865.4L830.6 860.8L831.1 865.2L831.6 861.0L832.1 865.2L832.6 854.0L833.1 865.4L833.6 859.3L834.1 865.0L834.6 860.0L835.1 865.0L835.6 859.2L836.1 865.0L836.6 860.3L837.1 865.1L837.6 860.5L838.1 865.2L838.6 860.2L839.1 865.4L839.6 859.2L840.1 865.1L840.6 854.8L841.1 865.3L841.6 854.9L842.1 865.0L842.6 856.3L843.1 865.4L843.6 858.5L844.1 865.4L844.6 855.3L845.1 865.1L845.6 855.2L846.1 865.4L846.6 860.8L847.1 865.0L847.6 860.9L848.1 865.2L848.6 858.8L849.1 865.2L849.6 861.5L850.1 865.4L850.6 862.8L851.1 865.3L851.6 861.5L852.1 865.4L852.6 860.6L853.1 865.0L853.6 860.7L854.1 865.0L854.6 861.0L855.1 865.1L855.6 859.5L856.1 865.3L856.6 850.4L857.1 865.1L857.6 848.6L858.1 865.0L858.6 855.5L859.1 865.0L859.6 855.0L860.1 865.0L860.6 856.4L861.1 865.2L861.6 857.7L862.1 865.1L862.6 854.6L863.1 865.1L863.6 855.7L864.1 865.0L864.6 858.2L865.1 865.3L865.6 855.0L866.1 865.2L866.6 856.6L867.1 865.0L867.6 860.7L868.1 865.4L868.6 857.9L869.1 865.1L869.6 858.0L870.1 865.2L870.6 854.3L871.1 865.2L871.6 858.1L872.1 865.2L872.6 856.6L873.1 865.2L873.6 856.7L874.1 865.4L874.6 858.1L875.1 865.4L875.6 860.5L876.1 865.0L876.6 859.7L877.1 865.2L877.6 859.5L878.1 865.2L878.6 857.7L879.1 865.1L879.6 860.0L880.1 865.1L880.6 861.3L881.1 865.0L881.6 860.5L882.1 865.1L882.6 859.6L883.1 865.3L883.6 860.5L884.1 865.0L884.6 859.5L885.1 865.0L885.6 859.1L886.1 865.2L886.6 859.8L887.1 865.4L887.6 856.9L888.1 865.4L888.6 856.8L889.1 865.3L889.6 857.9L890.1 865.1L890.6 854.0L891.1 865.1L891.6 859.3L892.1 865.3L892.6 860.1L893.1 865.2L893.6 858.8L894.1 865.3L894.6 860.1L895.1 865.3L895.6 862.1L896.1 865.3L896.6 860.2L897.1 865.2L897.6 860.6L898.1 865.0L898.6 863.1L899.1 865.3L899.6 863.6L900.1 865.0L900.6 859.6L901.1 865.0L901.6 857.4L902.1 865.3L902.6 859.0L903.1 865.0L903.6 859.0L904.1 865.0L904.6 850.4L905.1 865.3L905.6 856.6L906.1 865.0L906.6 858.1L907.1 865.2L907.6 858.1L908.1 865.1L908.6 859.6L909.1 865.2L909.6 860.8L910.1 865.3L910.6 854.9L911.1 865.1L911.6 856.6L912.1 865.0L912.6 861.4L913.1 865.3L913.6 860.5L914.1 865.1L914.6 854.1L915.1 865.4L915.6 852.9L916.1 865.4L916.6 859.4L917.1 865.2L917.6 858.8L918.1 864.9L918.6 859.0L919.1 864.9L919.6 858.5L920.1 865.1L920.6 854.6L921.1 864.8L921.6 852.3L922.1 864.4L922.6 856.2L923.1 863.5L923.6 855.1L924.1 862.7L924.7 842.2L925.1 861.9L925.7 848.2L926.0 860.0L926.7 849.2L927.2 859.5L927.4 846.6L927.9 857.2L928.7 844.7L929.1 856.4L929.8 843.6L929.6 853.0L930.9 840.3L931.0 851.4L931.7 836.2L931.9 846.4L931.8 829.4L932.8 838.5L933.1 821.4L934.0 827.1L934.7 810.5L934.7 809.6L935.4 794.0L937.0 794.0L937.1 777.1L936.7 771.0L938.2 761.2L937.9 756.9L938.7 749.1L938.8 749.6L939.9 747.1L939.3 751.0L940.2 752.0L941.9 766.3L942.0 767.0L942.6 779.8L942.6 780.1L943.4 792.5L943.0 790.6L943.2 799.2L944.0 800.8L945.1 808.8L945.8 809.3L946.9 817.0L947.2 814.8L947.7 819.4L948.3 815.9L948.4 816.8L947.9 807.7L950.0 812.2L949.2 801.6L950.2 804.0L951.3 799.5L950.5 802.1L952.1 804.5L951.5 810.9L953.0 815.7L952.6 825.6L954.2 828.6L954.9 844.4L954.3 841.0L954.6 851.9L955.3 851.7L956.3 860.9L956.7 856.4L957.1 863.5L957.6 852.7L958.1 864.7L958.6 856.0L959.1 865.2L959.6 857.3L960.1 865.3L960.6 857.6L961.1 865.2L961.6 858.2L962.1 865.2L962.6 858.8L963.1 865.2L963.6 860.1L964.1 865.2L964.6 862.0L965.1 865.3L965.6 862.5L966.1 865.4L966.6 862.3L967.1 865.4L967.6 861.0L968.1 865.2L968.6 860.7L969.1 865.4L969.6 860.8L970.1 865.3L970.6 859.7L971.1 865.2L971.6 861.4L972.1 865.2L972.6 861.4L973.1 865.3L973.6 862.3L974.1 865.3L974.6 862.5L975.1 865.3L975.6 861.8L976.1 865.2L976.6 862.2L977.1 865.3L977.6 854.8L978.1 865.2L978.6 861.9L979.1 865.4L979.6 856.6L980.1 865.3L980.6 855.4L981.1 865.3L981.6 861.5L982.1 865.4L982.6 861.5L983.1 865.2L983.6 861.7L984.1 865.2L984.6 861.8L985.1 865.3L985.6 862.9L986.1 865.4L986.6 862.7L987.1 865.3L987.6 862.1L988.1 865.3L988.6 862.9L989.1 865.4L989.6 862.8L990.1 865.4L990.6 862.1L991.1 865.3L991.6 861.9L992.1 865.4L992.6 861.9L993.1 865.3L993.6 863.2L994.1 865.4L994.6 863.4L995.1 865.2L995.6 863.8L996.1 865.4L996.6 856.7L997.1 865.4L997.6 862.0L998.1 865.4L998.6 862.9L999.1 865.3L999.6 862.2L1000.1 865.4L1000.6 862.2L1001.1 865.2L1001.6 860.8L1002.1 865.3L1002.6 861.3L1003.1 865.3L1003.6 862.5L1004.1 865.3L1004.6 857.8L1005.1 865.4L1005.6 861.5L1006.1 865.2L1006.6 861.7L1007.1 865.2L1007.6 855.5L1008.1 865.3L1008.6 860.6L1009.1 865.2L1009.6 860.5L1010.1 865.4L1010.6 861.9L1011.1 865.4L1011.6 862.7L1012.1 865.4L1012.6 861.9L1013.1 865.3L1013.6 862.3L1014.1 865.3L1014.6 862.3L1015.1 865.3L1015.6 861.3L1016.1 865.4L1016.6 861.5L1017.1 865.2L1017.6 854.3L1018.1 865.4L1018.6 859.9L1019.1 865.2L1019.6 859.9L1020.1 865.3L1020.6 860.6L1021.1 865.3L1021.6 860.3L1022.1 865.4L1022.6 859.4L1023.1 865.4L1023.6 861.1L1024.1 865.2L1024.6 861.4L1025.1 865.3L1025.6 854.6L1026.1 865.3L1026.6 855.1L1027.1 865.3L1027.6 858.8L1028.1 865.2L1028.6 856.8L1029.1 865.2L1029.6 856.7L1030.1 865.4L1030.6 857.6L1031.1 865.3L1031.6 859.3L1032.1 865.4L1032.6 857.5L1033.1 865.4L1033.6 856.2L1034.1 865.4L1034.6 853.1L1035.1 865.2L1035.6 849.7L1036.1 865.3L1036.6 849.6L1037.1 865.2L1037.6 850.4L1038.1 865.2L1038.6 854.7L1039.1 865.4L1039.6 855.0L1040.1 865.2L1040.6 856.4L1041.1 865.4L1041.6 862.2L1042.1 865.3L1042.6 862.4L1043.1 865.2L1043.6 861.6L1044.1 865.4L1044.6 861.8L1045.1 865.2L1045.6 862.2L1046.1 865.4L1046.6 861.7L1047.1 865.4L1047.6 862.1L1048.1 865.4L1048.6 862.4L1049.1 865.3L1049.6 861.3L1050.1 865.4L1050.6 861.3L1051.1 865.4L1051.6 862.0L1052.1 865.4L1052.6 862.5L1053.1 865.3L1053.6 862.2L1054.1 865.2L1054.6 862.0L1055.1 865.3L1055.6 862.5L1056.1 865.4L1056.6 861.9L1057.1 865.4L1057.6 855.5L1058.1 865.4L1058.6 861.4L1059.1 865.4L1059.6 857.5L1060.1 865.2L1060.6 861.9L1061.1 865.3L1061.6 862.1L1062.1 865.3L1062.6 856.0L1063.1 865.3L1063.6 862.6L1064.1 865.3L1064.6 863.2L1065.1 865.4L1065.6 863.2L1066.1 865.3L1066.6 862.9L1067.1 865.4L1067.6 864.0L1068.1 865.4L1068.6 864.1L1069.1 865.4L1069.6 863.2L1070.1 865.3L1070.6 863.3L1071.1 865.4L1071.6 862.5L1072.1 865.4L1072.6 863.0L1073.1 865.4L1073.6 863.3L1074.1 865.3L1074.6 863.3L1075.1 865.4L1075.6 863.7L1076.1 865.3L1076.6 863.8L1077.1 865.3L1077.6 863.8L1078.1 865.3L1078.6 863.1L1079.1 865.4L1079.6 862.7L1080.1 865.3L1080.6 863.1L1081.1 865.3L1081.6 862.4L1082.1 865.3L1082.6 862.2L1083.1 865.4L1083.6 862.3L1084.1 865.4L1084.6 862.6L1085.1 865.4L1085.6 863.0L1086.1 865.4L1086.6 863.3L1087.1 865.4L1087.6 860.1L1088.1 865.4L1088.6 859.7L1089.1 865.4L1089.6 863.5L1090.1 865.3L1090.6 863.5L1091.1 865.3L1091.6 859.4L1092.1 865.3L1092.6 859.5L1093.1 865.4L1093.6 863.6L1094.1 865.4L1094.6 862.9L1095.1 865.4L1095.6 862.9L1096.1 865.4L1096.6 862.3L1097.1 865.3L1097.6 862.3L1098.1 865.4L1098.6 858.1L1099.1 865.3L1099.6 855.9L1100.1 865.3L1100.6 854.4L1101.1 864.3L1101.7 857.2L1102.2 859.9L1102.6 848.7L1103.7 850.8L1102.9 834.9L1104.4 840.0L1105.1 831.6L1106.0 843.0L1105.9 836.4L1105.8 850.2L1107.0 846.4L1107.3 858.3L1107.4 845.0L1108.4 856.2L1108.2 840.6L1108.8 849.3L1110.0 834.6L1109.8 849.8L1110.1 834.7L1111.3 856.0L1111.3 839.9L1111.7 856.2L1112.4 837.9L1112.7 853.5L1113.9 839.8L1114.5 853.9L1114.2 838.6L1115.4 854.8L1115.2 842.0L1116.3 856.1L1116.7 845.0L1117.4 854.3L1117.4 842.6L1118.5 850.7L1118.5 841.6L1118.6 846.6L1119.5 842.6L1120.4 851.6L1120.4 846.4L1121.0 855.8L1121.4 853.6L1122.0 860.8L1122.5 858.8L1123.1 863.9L1123.6 860.3L1124.1 864.9L1124.6 862.1L1125.1 865.2L1125.6 862.3L1126.1 865.4L1126.6 862.6L1127.1 865.4L1127.6 863.1L1128.1 865.3L1128.6 862.4L1129.1 865.3L1129.6 863.7L1130.1 865.3L1130.6 864.5L1131.1 865.3L1131.6 864.4L1132.1 865.4L1132.6 864.0L1133.1 865.4L1133.6 863.0L1134.1 865.3L1134.6 862.7L1135.1 865.3L1135.6 863.3L1136.1 865.4L1136.6 863.1L1137.1 865.4L1137.6 863.0L1138.1 865.3L1138.6 862.7L1139.1 865.4L1139.6 862.4L1140.1 865.4L1140.6 862.5L1141.1 865.3L1141.6 862.9L1142.1 865.3L1142.6 862.6L1143.1 865.4L1143.6 860.3L1144.1 865.3L1144.6 863.7L1145.1 865.4L1145.6 863.4L1146.1 865.4L1146.6 864.3L1147.1 865.4L1147.6 864.9L1148.1 865.4L1148.6 864.1L1149.1 865.3L1149.6 858.1L1150.1 865.4L1150.6 863.0L1151.1 865.4L1151.6 862.9L1152.1 865.4L1152.6 863.3L1153.1 865.4L1153.6 864.0L1154.1 865.3L1154.6 864.1L1155.1 865.4L1155.6 863.8L1156.1 865.4L1156.6 864.0L1157.1 865.4L1157.6 864.2L1158.1 865.3L1158.6 864.0L1159.1 865.4L1159.6 859.8L1160.1 865.4L1160.6 863.3L1161.1 865.3L1161.6 863.3L1162.1 865.4L1162.6 863.9L1163.1 865.4L1163.6 863.6L1164.1 865.3L1164.6 863.3L1165.1 865.4L1165.6 863.0L1166.1 865.3L1166.6 863.0L1167.1 865.4L1167.6 863.5L1168.1 865.3L1168.6 863.4L1169.1 865.4L1169.6 863.4L1170.1 865.3L1170.6 863.3L1171.1 865.4L1171.6 862.9L1172.1 865.3L1172.6 858.5L1173.1 865.4L1173.6 858.4L1174.1 865.4L1174.6 863.0L1175.1 865.3L1175.6 862.9L1176.1 865.4L1176.6 863.2L1177.1 865.4L1177.6 863.0L1178.1 865.3L1178.6 862.7L1179.1 865.3L1179.6 863.0L1180.1 865.4L1180.6 863.3L1181.1 865.4L1181.6 862.9L1182.1 865.4L1182.6 862.7L1183.1 865.3L1183.6 862.9L1184.1 865.4L1184.6 862.9L1185.1 865.4L1185.6 862.8L1186.1 865.3L1186.6 863.7L1187.1 865.4L1187.6 864.5L1188.1 865.4L1188.6 863.8L1189.1 865.4L1189.6 863.6L1190.1 865.3L1190.6 863.6L1191.1 865.3L1191.6 863.4L1192.1 865.4L1192.6 863.0L1193.1 865.3L1193.6 863.3L1194.1 865.4L1194.6 863.6L1195.1 865.3L1195.6 863.4L1196.1 865.4L1196.6 862.9L1197.1 865.4L1197.6 863.0L1198.1 865.4L1198.6 863.9L1199.1 865.4L1199.6 863.5L1200.1 865.4L1200.6 863.1L1201.1 865.4L1201.6 863.8L1202.1 865.4L1202.6 863.8L1203.1 865.4L1203.6 863.7L1204.1 865.4L1204.6 863.8L1205.1 865.4L1205.6 863.7L1206.1 865.3L1206.6 864.1L1207.1 865.4L1207.6 863.7L1208.1 865.3L1208.6 863.2L1209.1 865.3L1209.6 863.3L1210.1 865.3L1210.6 863.2L1211.1 865.4L1211.6 863.0L1212.1 865.4L1212.6 862.9L1213.1 865.4L1213.6 863.1L1214.1 865.4L1214.6 863.7L1215.1 865.3L1215.6 863.7L1216.1 865.4L1216.6 863.6L1217.1 865.3L1217.6 863.0L1218.1 865.4L1218.6 863.0L1219.1 865.3L1219.6 863.5L1220.1 865.3L1220.6 863.2L1221.1 865.4L1221.6 863.0L1222.1 865.4L1222.6 863.3L1223.1 865.3L1223.6 862.7L1224.1 865.3L1224.6 862.8L1225.1 865.4L1225.6 862.9L1226.1 865.4L1226.6 863.6L1227.1 865.4L1227.6 863.1L1228.1 865.3L1228.6 862.8L1229.1 865.3L1229.6 864.0L1230.1 865.4L1230.6 864.4L1231.1 865.3L1231.6 864.1L1232.1 865.3L1232.6 863.8L1233.1 865.3L1233.6 863.5L1234.1 865.3L1234.6 862.6L1235.1 865.4L1235.6 863.1L1236.1 865.4L1236.6 863.5L1237.1 865.4L1237.6 863.8L1238.1 865.3L1238.6 863.2L1239.1 865.3L1239.6 863.8L1240.1 865.4L1240.6 864.6L1241.1 865.4L1241.6 864.4L1242.1 865.4L1242.6 864.0L1243.1 865.4L1243.6 864.1L1244.1 865.3L1244.6 864.8L1245.1 865.4L1245.6 864.6L1246.1 865.4L1246.6 863.8L1247.1 865.4L1247.6 863.6L1248.1 865.3L1248.6 864.0L1249.1 865.4L1249.6 863.7L1250.1 865.4L1250.6 863.5L1251.1 865.3L1251.6 863.1L1252.1 865.4L1252.6 863.2L1253.1 865.3L1253.6 863.3L1254.1 865.4L1254.6 863.5L1255.1 865.3L1255.6 863.7L1256.1 865.3L1256.6 864.1L1257.1 865.4L1257.6 863.1L1258.1 865.4L1258.6 862.4L1259.1 865.3L1259.6 862.5L1260.1 865.4L1260.6 863.6L1261.1 865.4L1261.6 863.7L1262.1 865.4L1262.6 860.2L1263.1 865.3L1263.6 863.5L1264.1 865.4L1264.6 863.9L1265.1 865.4L1265.6 863.5L1266.1 865.3L1266.6 863.0L1267.1 864.3L1267.7 859.3L1267.6 851.7L1268.7 838.0L1269.8 829.1L1269.3 821.0L1270.0 831.4L1271.3 845.3L1271.2 857.3L1271.5 857.2L1272.1 864.8L1272.6 864.0L1273.1 865.4L1273.6 864.7L1274.1 865.3L1274.6 863.9L1275.1 865.3L1275.6 863.8L1276.1 865.4L1276.6 863.7L1277.1 865.4L1277.6 863.0L1278.1 865.3L1278.6 863.2L1279.1 865.4L1279.6 863.1L1280.1 865.3L1280.6 863.0L1281.1 865.4L1281.6 863.4L1282.1 865.3L1282.6 863.3L1283.1 865.4L1283.6 863.1L1284.1 865.3L1284.6 863.4L1285.1 865.4L1285.6 863.6L1286.1 865.3L1286.6 864.2L1287.1 865.3L1287.6 863.7L1288.1 865.3L1288.6 864.0L1289.1 865.4L1289.6 859.9L1290.1 865.3L1290.6 859.1L1291.1 865.3L1291.6 863.4L1292.1 865.3L1292.6 863.3L1293.1 865.3L1293.6 862.7L1294.1 865.3L1294.6 862.5L1295.1 865.4L1295.6 863.4L1296.1 865.4L1296.6 864.0L1297.1 865.4L1297.6 864.5L1298.1 865.4L1298.6 864.9L1299.1 865.4L1299.6 864.1L1300.1 865.4L1300.6 863.7L1301.1 865.3L1301.6 864.0L1302.1 865.3L1302.6 863.5L1303.1 865.4L1303.6 864.0L1304.1 865.4L1304.6 863.9L1305.1 865.3L1305.6 863.4L1306.1 865.4L1306.6 863.7L1307.1 865.4L1307.6 863.3L1308.1 865.3L1308.6 863.3L1309.1 865.4L1309.6 863.9L1310.1 865.4L1310.6 863.9L1311.1 865.4L1311.6 863.4L1312.1 865.3L1312.6 862.6L1313.1 865.3L1313.6 862.8L1314.1 865.4L1314.6 862.7L1315.1 865.3L1315.6 863.1L1316.1 865.3L1316.6 863.0L1317.1 865.3L1317.6 862.7L1318.1 865.4L1318.6 863.3L1319.1 865.3L1319.6 863.0L1320.1 865.4L1320.6 862.8L1321.1 865.3L1321.6 862.7L1322.1 865.4L1322.6 862.9L1323.1 865.3L1323.6 862.6L1324.1 865.3L1324.6 858.2L1325.1 865.4L1325.6 858.5L1326.1 865.4L1326.6 860.5L1327.1 865.4L1327.6 860.7L1328.1 865.3L1328.6 863.4L1329.1 865.4L1329.6 862.7L1330.1 865.4L1330.6 862.2L1331.1 865.4L1331.6 862.1L1332.1 865.3L1332.6 863.3L1333.1 865.3L1333.6 860.7L1334.1 865.3L1334.6 862.8L1335.1 865.4L1335.6 862.6L1336.1 865.4L1336.6 863.5L1337.1 865.4L1337.6 863.6L1338.1 865.4L1338.6 863.3L1339.1 865.3L1339.6 860.3L1340.1 865.3L1340.6 864.3L1341.1 865.4L1341.6 864.7L1342.1 865.4L1342.6 864.3L1343.1 865.4L1343.6 863.8L1344.1 865.3L1344.6 863.8L1345.1 865.3L1345.6 864.1L1346.1 865.3L1346.6 864.2L1347.1 865.4L1347.6 864.2L1348.1 865.3L1348.6 864.2L1349.1 865.3L1349.6 863.8L1350.1 865.3L1350.6 863.6L1351.1 865.4L1351.6 863.2L1352.1 865.3L1352.6 863.4L1353.1 865.3L1353.6 863.2L1354.1 865.4L1354.6 860.3L1355.1 865.3L1355.6 862.9L1356.1 865.4L1356.6 859.6L1357.1 865.4L1357.6 863.0L1358.1 865.3L1358.6 863.7L1359.1 865.3L1359.6 863.4L1360.1 865.4L1360.6 864.0L1361.1 865.3L1361.6 864.6L1362.1 865.4L1362.6 863.1L1363.1 865.4L1363.6 863.4L1364.1 865.3L1364.6 863.2L1365.1 865.3L1365.6 862.4L1366.1 865.3L1366.6 862.8L1367.1 865.4L1367.6 863.2L1368.1 865.3L1368.6 863.8L1369.1 865.4L1369.6 863.2L1370.1 865.3L1370.6 863.3L1371.1 865.4L1371.6 863.8L1372.1 865.3L1372.6 863.7L1373.1 865.4L1373.6 863.6L1374.1 865.3L1374.6 863.5L1375.1 865.3L1375.6 863.1L1376.1 865.3L1376.6 862.6L1377.1 865.3L1377.6 863.0L1378.1 865.4L1378.6 863.6L1379.1 865.4L1379.6 864.3L1380.1 865.4L1380.6 863.6L1381.1 865.3L1381.6 860.7L1382.1 865.3L1382.6 861.5L1383.1 865.4L1383.6 863.9L1384.1 865.3L1384.6 863.3L1385.1 865.4L1385.6 862.8L1386.1 865.4L1386.6 863.1L1387.1 865.3L1387.6 863.7L1388.1 865.4L1388.6 863.0L1389.1 865.3L1389.6 862.5L1390.1 865.4L1390.6 863.3L1391.1 865.3L1391.6 863.5L1392.1 865.4L1392.6 857.5L1393.1 865.4L1393.6 857.5L1394.1 865.3L1394.6 864.2L1395.1 865.4L1395.6 864.5L1396.1 865.4L1396.6 860.0L1397.1 865.3L1397.6 860.3L1398.1 865.3L1398.6 863.9L1399.1 865.4L1399.6 863.4L1400.1 865.4L1400.6 864.1L1401.1 865.4L1401.6 864.7L1402.1 865.4L1402.6 864.4L1403.1 865.4L1403.6 863.2L1404.1 865.4L1404.6 863.0L1405.1 865.3L1405.6 863.4L1406.1 865.3L1406.6 862.8L1407.1 865.3L1407.6 859.4L1408.1 865.4L1408.6 863.9L1409.1 865.4L1409.6 863.8L1410.1 865.4L1410.6 862.6L1411.1 865.3L1411.6 862.9L1412.1 865.4L1412.6 863.4L1413.1 865.4L1413.6 864.3L1414.1 865.4L1414.6 864.6L1415.1 865.4L1415.6 864.3L1416.1 865.4L1416.6 864.8L1417.1 865.4L1417.6 864.2L1418.1 865.3L1418.6 863.9L1419.1 865.4L1419.6 864.4L1420.1 865.3L1420.6 863.4L1421.1 865.4L1421.6 863.2L1422.1 865.3L1422.6 860.7L1423.1 865.4L1423.6 863.3L1424.1 865.4L1424.6 863.8L1425.1 865.3L1425.6 863.4L1426.1 865.3L1426.6 862.8L1427.1 865.4L1427.6 860.8L1428.1 865.4L1428.6 864.2L1429.1 865.3L1429.6 863.7L1430.1 865.4L1430.6 863.3L1431.1 865.4L1431.6 863.9L1432.1 865.3L1432.6 864.1L1433.1 865.3L1433.6 864.0L1434.1 865.4L1434.6 862.8L1435.1 865.4L1435.6 862.2L1436.1 865.4L1436.6 862.3L1437.1 865.3L1437.6 857.6L1438.1 865.3L1438.6 862.8L1439.1 865.4L1439.6 861.8L1440.1 865.3L1440.6 862.6L1441.1 865.3L1441.6 862.2L1442.1 865.3L1442.6 862.6L1443.1 865.3L1443.6 863.5L1444.1 865.4L1444.6 862.7L1445.1 865.3L1445.6 862.1L1446.1 865.3L1446.6 862.6L1447.1 865.4L1447.6 857.6L1448.1 865.3L1448.6 863.1L1449.1 865.3L1449.6 863.4L1450.1 865.4L1450.6 862.7L1451.1 865.4L1451.6 862.2L1452.1 865.3L1452.6 862.0L1453.1 865.4L1453.6 862.1L1454.1 865.3L1454.6 856.6L1455.1 865.3L1455.6 857.6L1456.1 865.4L1456.6 862.9L1457.1 865.3L1457.6 863.0L1458.1 865.4L1458.6 863.0L1459.1 865.3L1459.6 863.0L1460.1 865.4L1460.6 864.2L1461.1 865.4L1461.6 864.3L1462.1 865.3L1462.6 863.5L1463.1 865.3L1463.6 862.6L1464.1 865.3L1464.6 862.7L1465.1 865.3L1465.6 862.8L1466.1 865.4L1466.6 862.9L1467.1 865.4L1467.6 863.4L1468.1 865.4L1468.6 857.1L1469.1 865.3L1469.6 857.7L1470.1 865.3L1470.6 863.4L1471.1 865.4L1471.6 863.4L1472.1 865.4L1472.6 863.2L1473.1 865.4L1473.6 858.2L1474.1 865.4L1474.6 859.3L1475.1 865.4L1475.6 863.3L1476.1 865.3L1476.6 863.5L1477.1 865.4L1477.6 863.1L1478.1 865.3L1478.6 863.0L1479.1 865.4L1479.6 858.5L1480.1 865.4L1480.6 858.7L1481.1 865.4L1481.6 863.1L1482.1 865.3L1482.6 863.3L1483.1 865.4L1483.6 864.0L1484.1 865.4L1484.6 862.9L1485.1 865.4L1485.6 863.5L1486.1 865.3L1486.6 863.2L1487.1 865.4L1487.6 862.7L1488.1 865.3L1488.6 862.5L1489.1 865.3L1489.6 862.6L1490.1 865.3L1490.6 863.5L1491.1 865.4L1491.6 863.2L1492.1 865.4L1492.6 862.8L1493.1 865.3L1493.6 863.4L1494.1 865.4L1494.6 863.4L1495.1 865.3L1495.6 863.0L1496.1 865.4L1496.6 862.5L1497.1 865.3L1497.6 862.5L1498.1 865.4L1498.6 864.1L1499.1 865.4L1499.6 864.0L1500.1 865.4L1500.6 862.9L1501.1 865.3L1501.6 863.0L1502.1 865.3L1502.6 863.1L1503.1 865.4L1503.6 862.9L1504.1 865.4L1504.6 863.1L1505.1 865.4L1505.6 863.5L1506.1 865.3L1506.6 863.7L1507.1 865.3L1507.6 863.8L1508.1 865.4L1508.6 863.2L1509.1 865.4L1509.6 862.7L1510.1 865.3L1510.6 862.6L1511.1 865.4L1511.6 863.3L1512.1 865.4L1512.6 863.3L1513.1 865.4L1513.6 863.5L1514.1 865.3L1514.6 863.9L1515.1 865.4L1515.6 863.4L1516.1 865.4L1516.6 862.3L1517.1 865.4L1517.6 862.4L1518.1 865.4L1518.6 862.9L1519.1 865.3L1519.6 860.0L1520.1 865.3L1520.6 863.3L1521.1 865.3L1521.6 862.9L1522.1 865.3L1522.6 863.5L1523.1 865.4L1523.6 864.4L1524.1 865.4L1524.6 863.8L1525.1 865.3L1525.6 863.2L1526.1 865.4L1526.6 863.3L1527.1 865.3L1527.6 863.5L1528.1 865.4L1528.6 864.3L1529.1 865.4L1529.6 863.9L1530.1 865.4L1530.6 863.9L1531.1 865.3L1531.6 864.3L1532.1 865.4L1532.6 864.6L1533.1 865.3L1533.6 864.3L1534.1 865.3L1534.6 863.8L1535.1 865.4L1535.6 863.9L1536.1 865.4L1536.6 863.8L1537.1 865.4L1537.6 864.6L1538.1 865.4L1538.6 864.8L1539.1 865.3L1539.6 864.3L1540.1 865.4L1540.6 863.9L1541.1 865.4L1541.6 863.2L1542.1 865.3L1542.6 862.4L1543.1 865.4L1543.6 863.1L1544.1 865.4L1544.6 862.9L1545.1 865.3L1545.6 862.3L1546.1 865.3L1546.6 862.3L1547.1 865.3L1547.6 863.1L1548.1 865.4L1548.6 862.7L1549.1 865.4L1549.6 861.7L1550.1 865.3L1550.6 862.3L1551.1 865.4L1551.6 862.6L1552.1 865.4L1552.6 863.3L1553.1 865.3L1553.6 863.4L1554.1 865.4L1554.6 863.2L1555.1 865.4L1555.6 863.0L1556.1 865.4L1556.6 862.7L1557.1 865.4L1557.6 863.3L1558.1 865.4L1558.6 863.1L1559.1 865.4L1559.6 862.0L1560.1 865.4L1560.6 862.1L1561.1 865.4L1561.6 862.6L1562.1 865.3L1562.6 857.2L1563.1 865.3L1563.6 861.9L1564.1 865.3L1564.6 862.2L1565.1 865.3L1565.6 863.2L1566.1 865.4L1566.6 863.4L1567.1 865.3L1567.6 863.5L1568.1 865.4L1568.6 863.1L1569.1 865.4L1569.6 863.3L1570.1 865.4L1570.6 864.0L1571.1 865.3L1571.6 864.1L1572.1 865.4L1572.6 864.5L1573.1 865.3L1573.6 863.6L1574.1 865.4L1574.6 862.6L1575.1 865.4L1575.6 863.3L1576.1 865.4L1576.6 863.1L1577.1 865.4L1577.6 863.0L1578.1 865.4L1578.6 863.2L1579.1 865.4L1579.6 859.5L1580.1 865.4L1580.6 864.1L1581.1 865.3L1581.6 863.4L1582.1 865.3L1582.6 863.6L1583.1 865.4L1583.6 863.5L1584.1 865.3L1584.6 863.6L1585.1 865.4L1585.6 859.8L1586.1 865.4L1586.6 863.1L1587.1 865.4L1587.6 863.1L1588.1 865.3L1588.6 863.0L1589.1 865.3L1589.6 860.0L1590.1 865.4L1590.6 863.2L1591.1 865.4L1591.6 863.4L1592.1 865.3L1592.6 863.6L1593.1 865.4L1593.6 864.5L1594.1 865.3L1594.6 864.4L1595.1 865.4L1595.6 859.4L1596.1 865.4L1596.6 864.7L1597.1 865.3L1597.6 864.2L1598.1 865.3L1598.6 864.3L1599.1 865.4L1599.6 864.6L1600.1 865.4L1600.6 863.7L1601.1 865.3L1601.6 863.5L1602.1 865.4L1602.6 863.9L1603.1 865.3L1603.6 863.3"/>
</g>
<rect x="115.1" y="12.0" width="1488.7" height="1198.8" fill="none" stroke="#000" stroke-width="5.0"/>
<line x1="115.2" y1="9.5" x2="115.2" y2="1213.3" stroke="#000" stroke-width="5.8"/>
<g stroke="#000" stroke-width="4.6">
<line x1="239.2" y1="1210.8" x2="239.2" y2="1202.7"/>
<line x1="363.2" y1="1210.8" x2="363.2" y2="1202.7"/>
<line x1="487.3" y1="1210.8" x2="487.3" y2="1202.7"/>
<line x1="611.3" y1="1210.8" x2="611.3" y2="1202.7"/>
<line x1="735.4" y1="1210.8" x2="735.4" y2="1202.7"/>
<line x1="859.5" y1="1210.8" x2="859.5" y2="1202.7"/>
<line x1="983.5" y1="1210.8" x2="983.5" y2="1202.7"/>
<line x1="1107.6" y1="1210.8" x2="1107.6" y2="1202.7"/>
<line x1="1231.6" y1="1210.8" x2="1231.6" y2="1202.7"/>
<line x1="1355.7" y1="1210.8" x2="1355.7" y2="1202.7"/>
<line x1="1479.7" y1="1210.8" x2="1479.7" y2="1202.7"/>
<line x1="177.1" y1="1210.8" x2="177.1" y2="1206.2"/>
<line x1="301.2" y1="1210.8" x2="301.2" y2="1206.2"/>
<line x1="425.2" y1="1210.8" x2="425.2" y2="1206.2"/>
<line x1="549.3" y1="1210.8" x2="549.3" y2="1206.2"/>
<line x1="673.4" y1="1210.8" x2="673.4" y2="1206.2"/>
<line x1="797.4" y1="1210.8" x2="797.4" y2="1206.2"/>
<line x1="921.5" y1="1210.8" x2="921.5" y2="1206.2"/>
<line x1="1045.5" y1="1210.8" x2="1045.5" y2="1206.2"/>
<line x1="1169.6" y1="1210.8" x2="1169.6" y2="1206.2"/>
<line x1="1293.7" y1="1210.8" x2="1293.7" y2="1206.2"/>
<line x1="1417.7" y1="1210.8" x2="1417.7" y2="1206.2"/>
<line x1="1541.8" y1="1210.8" x2="1541.8" y2="1206.2"/>
</g>
<g font-family='"Liberation Serif", "DejaVu Serif", serif' font-size="52.5" text-anchor="middle" fill="#000">
<text transform="translate(114.6 1258.9) scale(0.945 1)">20</text>
<text transform="translate(238.7 1258.9) scale(0.945 1)">25</text>
<text transform="translate(362.7 1258.9) scale(0.945 1)">30</text>
<text transform="translate(486.8 1258.9) scale(0.945 1)">35</text>
<text transform="translate(610.8 1258.9) scale(0.945 1)">40</text>
<text transform="translate(734.9 1258.9) scale(0.945 1)">45</text>
<text transform="translate(859.0 1258.9) scale(0.945 1)">50</text>
<text transform="translate(983.0 1258.9) scale(0.945 1)">55</text>
<text transform="translate(1107.1 1258.9) scale(0.945 1)">60</text>
<text transform="translate(1231.1 1258.9) scale(0.945 1)">65</text>
<text transform="translate(1355.2 1258.9) scale(0.945 1)">70</text>
<text transform="translate(1479.2 1258.9) scale(0.945 1)">75</text>
<text transform="translate(1603.3 1258.9) scale(0.945 1)">80</text>
</g>
<text transform="translate(810.8 1326.7) scale(1.02 1)" font-family='"Liberation Serif", "DejaVu Serif", serif' font-size="74" text-anchor="middle" fill="#000">2 Theta</text>
<text transform="translate(78 797) rotate(-90) scale(0.727 1)" font-family='"Liberation Serif", "DejaVu Serif", serif' font-size="84" fill="#000">Intensity (a.u.)</text>
<g stroke-width="3.1">
<line x1="1298.5" y1="65.1" x2="1416.7" y2="65.1" stroke="#F9A348"/>
<line x1="1298.5" y1="128.9" x2="1416.7" y2="128.9" stroke="#B25C10"/>
<line x1="1298.5" y1="192.0" x2="1416.7" y2="192.0" stroke="#7D3C0C"/>
</g>
<g font-family='"Liberation Serif", "DejaVu Serif", serif' font-size="51" fill="#000">
<text x="1427.5" y="81.3">0Al</text>
<text x="1427.5" y="143.3">0.01Al</text>
<text x="1427.5" y="207.4">0.05Al</text>
</g>
<text transform="translate(553.6 53.1) scale(0.963 1)" font-family='"Liberation Serif", "DejaVu Serif", serif' font-size="42" fill="#161616" xml:space="preserve">(10-11)<tspan font-size="27.5" dx="-1">Mg</tspan></text>
<text transform="translate(391.7 520.2) scale(0.963 1)" font-family='"Liberation Serif", "DejaVu Serif", serif' font-size="42" fill="#161616" xml:space="preserve">(1000)<tspan font-size="27.5" dx="-1">Mg</tspan></text>
<text transform="translate(572.3 584.8) scale(0.963 1)" font-family='"Liberation Serif", "DejaVu Serif", serif' font-size="42" fill="#161616" xml:space="preserve">(0002)Ti  / (111)Al</text>
<text transform="translate(651.1 652.6) scale(0.963 1)" font-family='"Liberation Serif", "DejaVu Serif", serif' font-size="42" fill="#161616" xml:space="preserve">(10-11)Ti</text>
<text transform="translate(865.1 707.0) scale(0.955 1)" font-family='"Liberation Serif", "DejaVu Serif", serif' font-size="42" fill="#161616" xml:space="preserve">(10-12)Ti</text>
<text transform="translate(689.9 775.9) scale(0.963 1)" font-family='"Liberation Serif", "DejaVu Serif", serif' font-size="42" fill="#161616" xml:space="preserve">(200)Al</text>
<text transform="translate(979.5 813.9) scale(0.963 1)" font-family='"Liberation Serif", "DejaVu Serif", serif' font-size="42" fill="#161616" xml:space="preserve">(11-20)<tspan font-size="27.5" dx="-1">Mg</tspan></text>
<text transform="translate(1191.1 820.0) scale(0.963 1)" font-family='"Liberation Serif", "DejaVu Serif", serif' font-size="41" fill="#161616" xml:space="preserve">(2000)<tspan font-size="27.5" dx="-1">Mg</tspan></text>
<text transform="translate(1293.1 573.6) scale(0.963 1)" font-family='"Liberation Serif", "DejaVu Serif", serif' font-size="42" fill="#161616" xml:space="preserve">(11-22)<tspan font-size="27.5" dx="-1">Mg</tspan></text>
<text transform="translate(1361.6 655.2) scale(0.963 1)" font-family='"Liberation Serif", "DejaVu Serif", serif' font-size="41.6" fill="#161616" xml:space="preserve">(20-21)<tspan font-size="27.5" dx="-1">Mg</tspan></text>
<text transform="translate(1357.5 837.8) scale(0.963 1)" font-family='"Liberation Serif", "DejaVu Serif", serif' font-size="43" fill="#161616" xml:space="preserve">(10-13)<tspan font-size="25" dx="-1">Ti</tspan></text>
<text transform="translate(211.1 908.0) scale(0.963 1)" font-family='"Liberation Serif", "DejaVu Serif", serif' font-size="42" fill="#161616" xml:space="preserve">(1000)Ti</text>
<text transform="translate(734.7 940.8) scale(0.963 1)" font-family='"Liberation Serif", "DejaVu Serif", serif' font-size="42" fill="#161616" xml:space="preserve">(10-12)Mg</text>
<text transform="translate(1108.6 924.6) scale(0.963 1)" font-family='"Liberation Serif", "DejaVu Serif", serif' font-size="41.3" fill="#161616" xml:space="preserve">(10-13)<tspan font-size="27.5" dx="-1">Mg</tspan></text>
<text transform="translate(185.9 1011.2) scale(0.963 1)" font-family='"Liberation Serif", "DejaVu Serif", serif' font-size="40.6" fill="#161616" xml:space="preserve">(0002)<tspan font-size="27.5" dx="-1">Mg</tspan></text>
<text transform="translate(1435.1 1012.8) scale(0.963 1)" font-family='"Liberation Serif", "DejaVu Serif", serif' font-size="42" fill="#161616" xml:space="preserve">(311)Al</text>
<line x1="355.7" y1="892.7" x2="467.9" y2="920.4" stroke="#000" stroke-width="1.8"/>
<polygon points="497.0,927.6 464.9,928.2 468.9,912.2" fill="#000"/>
<line x1="351.8" y1="1004.8" x2="453.3" y2="1022.1" stroke="#000" stroke-width="1.8"/>
<polygon points="482.9,1027.2 451.0,1030.1 453.7,1013.8" fill="#000"/>
<line x1="615.7" y1="599.6" x2="591.9" y2="898.9" stroke="#000" stroke-width="1.8"/>
<polygon points="589.5,928.8 583.7,897.2 600.2,898.6" fill="#000"/>
<line x1="678.6" y1="707.0" x2="633.9" y2="845.2" stroke="#000" stroke-width="1.8"/>
<polygon points="624.7,873.7 626.4,841.7 642.1,846.7" fill="#000"/>
<line x1="1342.0" y1="605.9" x2="1311.4" y2="910.8" stroke="#000" stroke-width="1.8"/>
<polygon points="1308.4,940.6 1303.3,908.9 1319.7,910.6" fill="#000"/>
<line x1="1374.2" y1="676.7" x2="1343.9" y2="875.4" stroke="#000" stroke-width="1.8"/>
<polygon points="1339.4,905.1 1335.9,873.2 1352.2,875.7" fill="#000"/>
<line x1="1510.1" y1="1022.4" x2="1533.3" y2="1035.3" stroke="#000" stroke-width="1.8"/>
<polygon points="1558.7,1049.4 1528.6,1041.8 1536.4,1027.8" fill="#000"/>
</svg>
</body>
</html>
